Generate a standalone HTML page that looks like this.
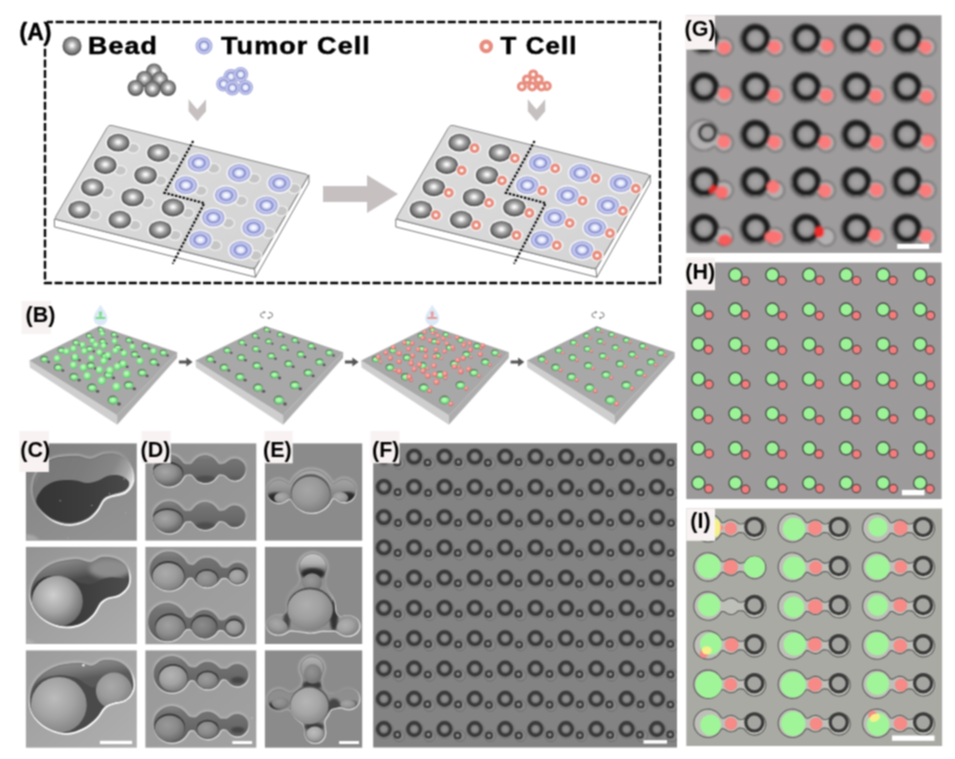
<!DOCTYPE html>
<html><head><meta charset="utf-8"><title>Figure</title>
<style>html,body{margin:0;padding:0;background:#fff}svg{display:block}</style></head>
<body><svg width="955" height="759" viewBox="0 0 955 759">
<defs>
<radialGradient id="gBead" cx="50%" cy="47%" r="52%">
 <stop offset="0" stop-color="#ffffff"/><stop offset="0.13" stop-color="#f0f0f0"/><stop offset="0.45" stop-color="#a6a6a6"/><stop offset="0.75" stop-color="#7a7a7a"/><stop offset="0.92" stop-color="#565656"/><stop offset="1" stop-color="#444"/>
</radialGradient>
<radialGradient id="gTum" cx="50%" cy="50%" r="50%">
 <stop offset="0" stop-color="#ffffff"/><stop offset="0.28" stop-color="#e3e7fb"/><stop offset="0.44" stop-color="#b0b6e4"/><stop offset="0.56" stop-color="#7d84c6"/><stop offset="0.67" stop-color="#c3c8ed"/><stop offset="0.82" stop-color="#bcc1ea"/><stop offset="0.95" stop-color="#a2a7db"/><stop offset="1" stop-color="#a2a7db"/>
</radialGradient>
<linearGradient id="gPlate" x1="0" y1="0" x2="1" y2="1">
 <stop offset="0" stop-color="#dcdcdc"/><stop offset="1" stop-color="#d3d3d3"/>
</linearGradient>

<radialGradient id="gGreen" cx="45%" cy="40%" r="60%"><stop offset="0" stop-color="#d0ffd0"/><stop offset="0.5" stop-color="#92f096"/><stop offset="1" stop-color="#5cc86c"/></radialGradient>
<radialGradient id="gRed" cx="45%" cy="40%" r="60%"><stop offset="0" stop-color="#ffc0bb"/><stop offset="0.5" stop-color="#f08e8a"/><stop offset="1" stop-color="#d06a68"/></radialGradient>
<radialGradient id="gFring"><stop offset="0" stop-color="#909090"/><stop offset="0.4" stop-color="#888"/><stop offset="0.7" stop-color="#666"/><stop offset="1" stop-color="#444"/></radialGradient>
<filter id="gblur" x="0" y="0" width="955" height="759" filterUnits="userSpaceOnUse" color-interpolation-filters="sRGB"><feConvolveMatrix order="3" kernelMatrix="1 2 1 2 4 2 1 2 1" divisor="16" edgeMode="duplicate"/></filter>
<radialGradient id="gGring"><stop offset="0" stop-color="#a9a7a7"/><stop offset="0.55" stop-color="#9c9a9a"/><stop offset="0.8" stop-color="#6c6c6c"/><stop offset="1" stop-color="#333"/></radialGradient>
<filter id="blur05" x="-5%" y="-5%" width="110%" height="110%"><feGaussianBlur stdDeviation="0.5"/></filter>
<filter id="blur08" x="-5%" y="-5%" width="110%" height="110%"><feGaussianBlur stdDeviation="0.8"/></filter>
<filter id="blur12" x="-10%" y="-10%" width="120%" height="120%"><feGaussianBlur stdDeviation="1.2"/></filter>
<filter id="blur2" x="-20%" y="-20%" width="140%" height="140%"><feGaussianBlur stdDeviation="2"/></filter>
<filter id="blur3" x="-20%" y="-20%" width="140%" height="140%"><feGaussianBlur stdDeviation="3"/></filter>
<linearGradient id="lg1" gradientUnits="objectBoundingBox" x1="0" y1="0" x2="0.7" y2="1"><stop offset="0" stop-color="#7c7c7c"/><stop offset="0.45" stop-color="#898989"/><stop offset="1" stop-color="#929292"/></linearGradient><clipPath id="cp2"><rect x="25.9" y="443.4" width="110.9" height="97.20000000000005"/></clipPath><linearGradient id="lg3" gradientUnits="objectBoundingBox" x1="0" y1="0" x2="1" y2="0.35"><stop offset="0" stop-color="#b0b0b0"/><stop offset="0.06" stop-color="#a0a0a0"/><stop offset="0.16" stop-color="#787878"/><stop offset="0.5" stop-color="#7c7c7c"/><stop offset="0.78" stop-color="#868686"/><stop offset="0.92" stop-color="#a8a8a8"/><stop offset="1" stop-color="#d8d8d8"/></linearGradient><linearGradient id="lg4" gradientUnits="objectBoundingBox" x1="0" y1="0" x2="1" y2="0"><stop offset="0" stop-color="#343434"/><stop offset="0.6" stop-color="#3e3e3e"/><stop offset="1" stop-color="#4a4a4a"/></linearGradient><linearGradient id="lg5" gradientUnits="objectBoundingBox" x1="0.2" y1="0.1" x2="0.8" y2="0.9"><stop offset="0" stop-color="#fff" stop-opacity="0"/><stop offset="0.4" stop-color="#fff" stop-opacity="0"/><stop offset="0.7" stop-color="#fff" stop-opacity="0.9"/><stop offset="1" stop-color="#fff" stop-opacity="1.0"/></linearGradient><linearGradient id="lg6" gradientUnits="objectBoundingBox" x1="0.8" y1="0.9" x2="0.2" y2="0.1"><stop offset="0" stop-color="#d0d0d0" stop-opacity="0"/><stop offset="0.45" stop-color="#d0d0d0" stop-opacity="0"/><stop offset="0.8" stop-color="#d0d0d0" stop-opacity="0.5"/><stop offset="1" stop-color="#d0d0d0" stop-opacity="0.6"/></linearGradient><clipPath id="cp7"><path d="M33.4,484.5 C34.1,480.3 35.1,476.0 38.3,471.8 C41.5,467.6 46.1,461.7 52.4,459.1 C58.8,456.6 70.0,456.3 76.4,456.3 C82.7,456.3 85.8,459.5 90.5,459.1 C95.2,458.8 99.9,454.9 104.6,454.2 C109.3,453.5 114.7,453.4 118.6,454.9 C122.6,456.4 126.2,460.1 128.5,463.4 C130.9,466.7 132.3,471.1 132.7,474.6 C133.2,478.2 132.7,481.6 131.3,484.5 C129.9,487.4 127.8,490.4 124.3,492.3 C120.8,494.1 113.7,494.5 110.2,495.8 C106.7,497.1 105.5,497.4 103.1,500.0 C100.8,502.6 98.9,508.0 96.1,511.3 C93.3,514.6 90.7,517.6 86.2,519.7 C81.8,521.9 75.0,524.2 69.3,524.2 C63.7,524.2 57.3,522.4 52.4,519.7 C47.5,517.1 42.8,512.2 39.7,508.5 C36.7,504.7 35.1,501.2 34.1,497.2 C33.0,493.2 32.7,488.7 33.4,484.5 Z"/></clipPath><linearGradient id="lg8" gradientUnits="objectBoundingBox" x1="0.8" y1="0.9" x2="0.2" y2="0.1"><stop offset="0" stop-color="#505050" stop-opacity="0"/><stop offset="0.5" stop-color="#505050" stop-opacity="0"/><stop offset="0.8" stop-color="#505050" stop-opacity="0.55"/><stop offset="1" stop-color="#505050" stop-opacity="0.6"/></linearGradient><linearGradient id="lg9" gradientUnits="objectBoundingBox" x1="0" y1="0" x2="1" y2="1"><stop offset="0" stop-color="#939393"/><stop offset="0.5" stop-color="#a1a1a1"/><stop offset="1" stop-color="#acacac"/></linearGradient><clipPath id="cp10"><rect x="25.9" y="546.9" width="110.9" height="97.10000000000002"/></clipPath><linearGradient id="lg11" gradientUnits="objectBoundingBox" x1="0" y1="0" x2="0.3" y2="1"><stop offset="0" stop-color="#9c9c9c"/><stop offset="0.12" stop-color="#8c8c8c"/><stop offset="0.3" stop-color="#6a6a6a"/><stop offset="0.42" stop-color="#4a4a4a"/><stop offset="1" stop-color="#444"/></linearGradient><linearGradient id="lg12" gradientUnits="objectBoundingBox" x1="0" y1="0" x2="1" y2="0"><stop offset="0" stop-color="#2e2e2e"/><stop offset="0.5" stop-color="#3c3c3c"/><stop offset="1" stop-color="#4c4c4c"/></linearGradient><radialGradient id="rg13" cx="42%" cy="38%" r="62%"><stop offset="0" stop-color="#cfcfcf"/><stop offset="0.55" stop-color="#a6a6a6"/><stop offset="1" stop-color="#6f6f6f"/></radialGradient><linearGradient id="lg14" gradientUnits="objectBoundingBox" x1="0.3" y1="0" x2="0.6" y2="1"><stop offset="0" stop-color="#fff" stop-opacity="0"/><stop offset="0.27" stop-color="#fff" stop-opacity="0"/><stop offset="0.42" stop-color="#fff" stop-opacity="0.9"/><stop offset="1" stop-color="#fff" stop-opacity="1.0"/></linearGradient><linearGradient id="lg15" gradientUnits="objectBoundingBox" x1="0.6" y1="1" x2="0.3" y2="0"><stop offset="0" stop-color="#d0d0d0" stop-opacity="0"/><stop offset="0.45" stop-color="#d0d0d0" stop-opacity="0"/><stop offset="0.8" stop-color="#d0d0d0" stop-opacity="0.5"/><stop offset="1" stop-color="#d0d0d0" stop-opacity="0.6"/></linearGradient><clipPath id="cp16"><path d="M30.6,598.4 C29.9,593.7 30.9,588.7 32.7,584.3 C34.4,579.8 37.4,575.1 41.1,571.6 C44.9,568.1 49.4,565.1 55.2,563.1 C61.1,561.1 70.5,559.7 76.4,559.6 C82.2,559.5 86.2,562.8 90.5,562.4 C94.7,562.1 97.5,558.1 101.7,557.5 C106.0,556.9 111.8,557.5 115.8,558.9 C119.8,560.3 123.5,562.9 125.7,566.0 C127.9,569.0 129.0,573.7 129.2,577.2 C129.5,580.8 128.9,584.2 127.1,587.1 C125.3,590.0 121.9,593.1 118.6,594.8 C115.4,596.6 110.4,596.4 107.4,597.7 C104.3,599.0 102.7,599.9 100.3,602.6 C98.0,605.3 96.3,610.5 93.3,613.9 C90.2,617.3 86.5,620.9 82.0,623.0 C77.5,625.1 71.9,626.7 66.5,626.6 C61.1,626.4 54.5,624.7 49.6,622.3 C44.7,620.0 40.1,616.5 36.9,612.5 C33.7,608.5 31.3,603.1 30.6,598.4 Z"/></clipPath><linearGradient id="lg17" gradientUnits="objectBoundingBox" x1="0.6" y1="1" x2="0.3" y2="0"><stop offset="0" stop-color="#505050" stop-opacity="0"/><stop offset="0.5" stop-color="#505050" stop-opacity="0"/><stop offset="0.8" stop-color="#505050" stop-opacity="0.55"/><stop offset="1" stop-color="#505050" stop-opacity="0.6"/></linearGradient><linearGradient id="lg18" gradientUnits="objectBoundingBox" x1="0" y1="0" x2="1" y2="1"><stop offset="0" stop-color="#9b9b9b"/><stop offset="0.5" stop-color="#a5a5a5"/><stop offset="1" stop-color="#afafaf"/></linearGradient><clipPath id="cp19"><rect x="25.9" y="650.4" width="110.9" height="97.30000000000007"/></clipPath><linearGradient id="lg20" gradientUnits="objectBoundingBox" x1="0" y1="0" x2="0.2" y2="1"><stop offset="0" stop-color="#a0a0a0"/><stop offset="0.1" stop-color="#8e8e8e"/><stop offset="0.22" stop-color="#7a7a7a"/><stop offset="0.35" stop-color="#5a5a5a"/><stop offset="1" stop-color="#4a4a4a"/></linearGradient><radialGradient id="rg21" cx="42%" cy="38%" r="62%"><stop offset="0" stop-color="#bcbcbc"/><stop offset="0.55" stop-color="#a4a4a4"/><stop offset="1" stop-color="#868686"/></radialGradient><radialGradient id="rg22" cx="42%" cy="38%" r="62%"><stop offset="0" stop-color="#a9a9a9"/><stop offset="0.55" stop-color="#9a9a9a"/><stop offset="1" stop-color="#808080"/></radialGradient><linearGradient id="lg23" gradientUnits="objectBoundingBox" x1="0.3" y1="0" x2="0.6" y2="1"><stop offset="0" stop-color="#fff" stop-opacity="0"/><stop offset="0.27" stop-color="#fff" stop-opacity="0"/><stop offset="0.42" stop-color="#fff" stop-opacity="0.9"/><stop offset="1" stop-color="#fff" stop-opacity="1.0"/></linearGradient><linearGradient id="lg24" gradientUnits="objectBoundingBox" x1="0.6" y1="1" x2="0.3" y2="0"><stop offset="0" stop-color="#d0d0d0" stop-opacity="0"/><stop offset="0.45" stop-color="#d0d0d0" stop-opacity="0"/><stop offset="0.8" stop-color="#d0d0d0" stop-opacity="0.5"/><stop offset="1" stop-color="#d0d0d0" stop-opacity="0.6"/></linearGradient><clipPath id="cp25"><path d="M29.9,704.2 C29.4,699.5 30.1,693.5 32.0,688.7 C33.9,683.9 36.8,679.1 41.1,675.3 C45.5,671.5 51.7,668.1 58.0,666.1 C64.4,664.1 73.6,663.3 79.2,663.3 C84.8,663.3 87.9,666.6 91.9,666.1 C95.9,665.7 98.7,661.2 103.1,660.5 C107.6,659.8 114.3,660.3 118.6,661.9 C123.0,663.6 126.8,666.8 129.2,670.4 C131.7,673.9 133.1,679.3 133.4,683.0 C133.8,686.8 132.9,690.1 131.3,692.9 C129.8,695.7 127.3,698.3 124.3,700.0 C121.2,701.6 116.3,701.6 113.0,702.8 C109.7,704.0 107.4,704.4 104.6,707.0 C101.7,709.6 99.6,714.8 96.1,718.3 C92.6,721.8 88.3,725.7 83.4,728.1 C78.5,730.6 72.4,733.1 66.5,733.1 C60.6,733.1 53.5,730.8 48.2,728.1 C42.9,725.4 37.9,720.9 34.8,716.9 C31.7,712.9 30.3,708.9 29.9,704.2 Z"/></clipPath><linearGradient id="lg26" gradientUnits="objectBoundingBox" x1="0.6" y1="1" x2="0.3" y2="0"><stop offset="0" stop-color="#505050" stop-opacity="0"/><stop offset="0.5" stop-color="#505050" stop-opacity="0"/><stop offset="0.8" stop-color="#505050" stop-opacity="0.55"/><stop offset="1" stop-color="#505050" stop-opacity="0.6"/></linearGradient><linearGradient id="lg27" gradientUnits="objectBoundingBox" x1="0" y1="0" x2="1" y2="1"><stop offset="0" stop-color="#909090"/><stop offset="1" stop-color="#9a9a9a"/></linearGradient><clipPath id="cp28"><rect x="145.4" y="443.4" width="110.9" height="97.20000000000005"/></clipPath><linearGradient id="lg29" gradientUnits="objectBoundingBox" x1="0" y1="0" x2="0" y2="1"><stop offset="0" stop-color="#868686"/><stop offset="0.15" stop-color="#747474"/><stop offset="0.5" stop-color="#6a6a6a"/><stop offset="0.85" stop-color="#5e5e5e"/><stop offset="1" stop-color="#5a5a5a"/></linearGradient><radialGradient id="rg30" cx="42%" cy="38%" r="62%"><stop offset="0" stop-color="#a6a6a6"/><stop offset="0.55" stop-color="#8e8e8e"/><stop offset="1" stop-color="#646464"/></radialGradient><linearGradient id="lg31" gradientUnits="objectBoundingBox" x1="0.5" y1="0" x2="0.5" y2="1"><stop offset="0" stop-color="#fff" stop-opacity="0"/><stop offset="0.4" stop-color="#fff" stop-opacity="0"/><stop offset="0.7" stop-color="#fff" stop-opacity="0.54"/><stop offset="1" stop-color="#fff" stop-opacity="0.6"/></linearGradient><linearGradient id="lg32" gradientUnits="objectBoundingBox" x1="0.5" y1="1" x2="0.5" y2="0"><stop offset="0" stop-color="#d0d0d0" stop-opacity="0"/><stop offset="0.45" stop-color="#d0d0d0" stop-opacity="0"/><stop offset="0.8" stop-color="#d0d0d0" stop-opacity="0.5"/><stop offset="1" stop-color="#d0d0d0" stop-opacity="0.6"/></linearGradient><clipPath id="cp33"><path d="M170.3,486.4 L172.4,486.1 L174.4,485.5 L176.4,484.6 L178.1,483.5 L179.7,482.2 L181.1,480.7 L182.1,479.3 L183.9,476.5 L184.9,475.2 L185.9,474.7 L187.4,474.4 L190.1,474.3 L191.4,474.6 L192.6,475.6 L195.6,479.1 L197.5,480.7 L198.9,481.4 L200.4,482.1 L201.9,482.6 L203.6,482.9 L205.6,482.9 L207.6,482.7 L209.6,482.2 L211.6,481.3 L213.1,480.4 L214.6,479.1 L218.1,474.9 L218.9,474.4 L219.9,474.2 L222.4,474.4 L224.1,474.9 L225.1,475.5 L228.6,478.5 L229.9,479.3 L231.4,479.9 L232.9,480.3 L234.4,480.4 L235.9,480.4 L237.4,480.1 L239.4,479.4 L241.1,478.3 L242.6,476.9 L243.9,475.2 L244.8,473.2 L245.3,471.2 L245.4,468.9 L245.0,466.9 L244.5,465.4 L243.9,464.1 L242.9,462.8 L241.8,461.7 L240.4,460.7 L239.1,459.9 L237.6,459.4 L236.1,459.1 L233.6,459.1 L231.4,459.5 L229.0,460.7 L225.6,463.2 L224.6,463.8 L222.9,464.3 L219.9,464.5 L218.9,464.2 L218.1,463.7 L214.6,459.5 L213.1,458.2 L211.6,457.3 L209.6,456.4 L207.6,455.8 L205.6,455.6 L203.6,455.7 L201.9,456.0 L200.4,456.5 L198.9,457.1 L197.4,458.0 L195.6,459.5 L192.6,462.9 L191.1,464.2 L189.9,464.4 L185.9,464.5 L184.9,464.3 L183.9,463.7 L182.6,462.5 L180.4,459.9 L179.1,458.7 L177.1,457.2 L175.1,456.2 L172.6,455.4 L170.1,455.0 L167.4,455.0 L164.9,455.4 L162.1,456.4 L159.6,457.9 L157.4,459.9 L155.6,462.2 L154.2,464.9 L153.4,467.7 L153.1,470.4 L153.3,473.4 L154.1,476.2 L155.4,478.9 L157.1,481.2 L159.4,483.3 L161.9,484.8 L164.6,485.9 L167.4,486.4 Z"/></clipPath><linearGradient id="lg34" gradientUnits="objectBoundingBox" x1="0.5" y1="1" x2="0.5" y2="0"><stop offset="0" stop-color="#505050" stop-opacity="0"/><stop offset="0.5" stop-color="#505050" stop-opacity="0"/><stop offset="0.8" stop-color="#505050" stop-opacity="0.55"/><stop offset="1" stop-color="#505050" stop-opacity="0.6"/></linearGradient><linearGradient id="lg35" gradientUnits="objectBoundingBox" x1="0" y1="0" x2="0" y2="1"><stop offset="0" stop-color="#868686"/><stop offset="0.15" stop-color="#747474"/><stop offset="0.5" stop-color="#6a6a6a"/><stop offset="0.85" stop-color="#5e5e5e"/><stop offset="1" stop-color="#5a5a5a"/></linearGradient><radialGradient id="rg36" cx="42%" cy="38%" r="62%"><stop offset="0" stop-color="#a6a6a6"/><stop offset="0.55" stop-color="#8e8e8e"/><stop offset="1" stop-color="#646464"/></radialGradient><linearGradient id="lg37" gradientUnits="objectBoundingBox" x1="0.5" y1="0" x2="0.5" y2="1"><stop offset="0" stop-color="#fff" stop-opacity="0"/><stop offset="0.4" stop-color="#fff" stop-opacity="0"/><stop offset="0.7" stop-color="#fff" stop-opacity="0.54"/><stop offset="1" stop-color="#fff" stop-opacity="0.6"/></linearGradient><linearGradient id="lg38" gradientUnits="objectBoundingBox" x1="0.5" y1="1" x2="0.5" y2="0"><stop offset="0" stop-color="#d0d0d0" stop-opacity="0"/><stop offset="0.45" stop-color="#d0d0d0" stop-opacity="0"/><stop offset="0.8" stop-color="#d0d0d0" stop-opacity="0.5"/><stop offset="1" stop-color="#d0d0d0" stop-opacity="0.6"/></linearGradient><clipPath id="cp39"><path d="M170.3,533.2 L172.4,532.9 L174.4,532.3 L176.4,531.4 L178.1,530.3 L179.7,528.9 L181.1,527.4 L182.1,526.1 L183.9,523.2 L184.9,522.0 L185.9,521.4 L187.4,521.2 L190.1,521.1 L191.4,521.4 L192.6,522.4 L195.6,525.9 L197.5,527.4 L198.9,528.2 L200.4,528.9 L201.9,529.3 L203.6,529.7 L205.6,529.7 L207.6,529.5 L209.6,529.0 L211.6,528.1 L213.1,527.2 L214.6,525.9 L218.1,521.7 L218.9,521.2 L219.9,521.0 L222.4,521.2 L224.1,521.7 L225.1,522.3 L228.6,525.3 L229.9,526.0 L231.4,526.7 L232.9,527.0 L234.4,527.2 L235.9,527.1 L237.4,526.9 L239.4,526.1 L241.1,525.1 L242.6,523.7 L243.9,521.9 L244.8,519.9 L245.3,517.9 L245.4,515.7 L245.0,513.7 L244.5,512.2 L243.9,510.9 L242.9,509.6 L241.8,508.4 L240.4,507.4 L239.1,506.7 L237.6,506.2 L236.1,505.9 L233.6,505.8 L231.4,506.3 L229.0,507.4 L225.6,510.0 L224.6,510.6 L222.9,511.1 L219.9,511.3 L218.9,511.0 L218.1,510.5 L214.6,506.2 L213.1,505.0 L211.6,504.0 L209.6,503.2 L207.6,502.6 L205.6,502.4 L203.6,502.5 L201.9,502.8 L200.4,503.3 L198.9,503.9 L197.4,504.8 L195.6,506.2 L192.6,509.7 L191.1,510.9 L189.9,511.2 L185.9,511.3 L184.9,511.1 L183.9,510.5 L182.6,509.3 L180.4,506.7 L179.1,505.5 L177.1,504.0 L175.1,503.0 L172.6,502.1 L170.1,501.7 L167.4,501.8 L164.9,502.2 L162.1,503.2 L159.6,504.7 L157.4,506.7 L155.6,508.9 L154.2,511.7 L153.4,514.4 L153.1,517.2 L153.3,520.2 L154.1,522.9 L155.4,525.7 L157.1,528.0 L159.4,530.1 L161.9,531.6 L164.6,532.7 L167.4,533.2 Z"/></clipPath><linearGradient id="lg40" gradientUnits="objectBoundingBox" x1="0.5" y1="1" x2="0.5" y2="0"><stop offset="0" stop-color="#505050" stop-opacity="0"/><stop offset="0.5" stop-color="#505050" stop-opacity="0"/><stop offset="0.8" stop-color="#505050" stop-opacity="0.55"/><stop offset="1" stop-color="#505050" stop-opacity="0.6"/></linearGradient><linearGradient id="lg41" gradientUnits="objectBoundingBox" x1="0" y1="0" x2="1" y2="1"><stop offset="0" stop-color="#989898"/><stop offset="1" stop-color="#a2a2a2"/></linearGradient><clipPath id="cp42"><rect x="145.4" y="546.9" width="110.9" height="97.30000000000007"/></clipPath><linearGradient id="lg43" gradientUnits="objectBoundingBox" x1="0" y1="0" x2="0" y2="1"><stop offset="0" stop-color="#868686"/><stop offset="0.15" stop-color="#747474"/><stop offset="0.5" stop-color="#6a6a6a"/><stop offset="0.85" stop-color="#5e5e5e"/><stop offset="1" stop-color="#5a5a5a"/></linearGradient><radialGradient id="rg44" cx="42%" cy="38%" r="62%"><stop offset="0" stop-color="#ababab"/><stop offset="0.55" stop-color="#9c9c9c"/><stop offset="1" stop-color="#828282"/></radialGradient><radialGradient id="rg45" cx="42%" cy="38%" r="62%"><stop offset="0" stop-color="#9a9a9a"/><stop offset="0.55" stop-color="#8d8d8d"/><stop offset="1" stop-color="#777"/></radialGradient><radialGradient id="rg46" cx="42%" cy="38%" r="62%"><stop offset="0" stop-color="#aaa"/><stop offset="0.55" stop-color="#a0a0a0"/><stop offset="1" stop-color="#888"/></radialGradient><linearGradient id="lg47" gradientUnits="objectBoundingBox" x1="0.5" y1="0" x2="0.5" y2="1"><stop offset="0" stop-color="#fff" stop-opacity="0"/><stop offset="0.4" stop-color="#fff" stop-opacity="0"/><stop offset="0.7" stop-color="#fff" stop-opacity="0.54"/><stop offset="1" stop-color="#fff" stop-opacity="0.6"/></linearGradient><linearGradient id="lg48" gradientUnits="objectBoundingBox" x1="0.5" y1="1" x2="0.5" y2="0"><stop offset="0" stop-color="#d0d0d0" stop-opacity="0"/><stop offset="0.45" stop-color="#d0d0d0" stop-opacity="0"/><stop offset="0.8" stop-color="#d0d0d0" stop-opacity="0.5"/><stop offset="1" stop-color="#d0d0d0" stop-opacity="0.6"/></linearGradient><clipPath id="cp49"><path d="M171.0,590.4 L173.3,590.0 L175.6,589.3 L177.8,588.3 L179.8,587.1 L181.7,585.6 L183.3,584.0 L184.6,582.4 L186.6,579.4 L187.3,578.6 L188.6,577.8 L190.1,577.4 L191.6,577.5 L192.8,578.1 L193.6,578.9 L195.3,581.4 L196.3,582.6 L197.6,583.9 L199.1,584.9 L200.6,585.8 L202.0,586.4 L203.6,586.8 L205.1,587.1 L207.3,587.2 L209.3,587.0 L211.6,586.5 L213.6,585.6 L215.3,584.6 L217.1,583.1 L220.8,578.7 L221.8,578.1 L223.3,577.8 L225.6,577.8 L226.8,578.2 L227.6,578.7 L230.8,582.1 L232.3,583.1 L233.8,583.8 L235.3,584.2 L236.8,584.4 L238.6,584.4 L240.1,584.1 L242.1,583.4 L243.8,582.4 L245.5,580.9 L246.8,579.1 L247.7,577.1 L248.1,575.1 L248.2,573.1 L247.9,571.1 L246.9,568.6 L246.1,567.4 L245.3,566.4 L243.3,564.7 L242.1,564.0 L240.8,563.5 L239.6,563.2 L238.1,563.0 L236.6,563.0 L235.1,563.3 L233.6,563.7 L232.1,564.5 L228.3,567.4 L227.3,567.9 L225.8,568.1 L223.1,567.8 L221.8,567.5 L220.8,566.8 L217.4,562.6 L216.1,561.4 L214.8,560.5 L213.3,559.7 L211.8,559.1 L210.3,558.6 L208.6,558.3 L206.8,558.2 L205.1,558.3 L203.3,558.7 L201.8,559.1 L200.1,559.9 L198.3,561.0 L194.8,564.2 L193.8,565.0 L193.1,565.2 L192.3,565.3 L190.3,565.0 L188.8,564.6 L187.6,563.8 L186.3,562.5 L184.0,559.1 L182.4,557.4 L180.0,555.4 L177.3,553.8 L174.1,552.6 L170.8,552.0 L167.3,551.9 L164.1,552.5 L162.3,553.0 L160.6,553.7 L157.6,555.5 L154.8,557.9 L152.6,560.8 L151.0,563.9 L150.0,567.4 L149.6,570.9 L149.7,572.9 L149.9,574.6 L150.9,578.1 L152.5,581.4 L154.6,584.1 L155.8,585.4 L157.3,586.6 L160.3,588.5 L162.1,589.2 L163.8,589.8 L167.3,590.4 Z"/></clipPath><linearGradient id="lg50" gradientUnits="objectBoundingBox" x1="0.5" y1="1" x2="0.5" y2="0"><stop offset="0" stop-color="#505050" stop-opacity="0"/><stop offset="0.5" stop-color="#505050" stop-opacity="0"/><stop offset="0.8" stop-color="#505050" stop-opacity="0.55"/><stop offset="1" stop-color="#505050" stop-opacity="0.6"/></linearGradient><linearGradient id="lg51" gradientUnits="objectBoundingBox" x1="0" y1="0" x2="0" y2="1"><stop offset="0" stop-color="#868686"/><stop offset="0.15" stop-color="#747474"/><stop offset="0.5" stop-color="#6a6a6a"/><stop offset="0.85" stop-color="#5e5e5e"/><stop offset="1" stop-color="#5a5a5a"/></linearGradient><radialGradient id="rg52" cx="42%" cy="38%" r="62%"><stop offset="0" stop-color="#a0a0a0"/><stop offset="0.55" stop-color="#8e8e8e"/><stop offset="1" stop-color="#707070"/></radialGradient><radialGradient id="rg53" cx="42%" cy="38%" r="62%"><stop offset="0" stop-color="#8c8c8c"/><stop offset="0.55" stop-color="#7c7c7c"/><stop offset="1" stop-color="#636363"/></radialGradient><radialGradient id="rg54" cx="42%" cy="38%" r="62%"><stop offset="0" stop-color="#a5a5a5"/><stop offset="0.55" stop-color="#9c9c9c"/><stop offset="1" stop-color="#858585"/></radialGradient><linearGradient id="lg55" gradientUnits="objectBoundingBox" x1="0.5" y1="0" x2="0.5" y2="1"><stop offset="0" stop-color="#fff" stop-opacity="0"/><stop offset="0.4" stop-color="#fff" stop-opacity="0"/><stop offset="0.7" stop-color="#fff" stop-opacity="0.54"/><stop offset="1" stop-color="#fff" stop-opacity="0.6"/></linearGradient><linearGradient id="lg56" gradientUnits="objectBoundingBox" x1="0.5" y1="1" x2="0.5" y2="0"><stop offset="0" stop-color="#d0d0d0" stop-opacity="0"/><stop offset="0.45" stop-color="#d0d0d0" stop-opacity="0"/><stop offset="0.8" stop-color="#d0d0d0" stop-opacity="0.5"/><stop offset="1" stop-color="#d0d0d0" stop-opacity="0.6"/></linearGradient><clipPath id="cp57"><path d="M167.9,641.2 L170.2,641.0 L172.4,640.4 L174.7,639.6 L176.7,638.6 L178.7,637.2 L180.6,635.4 L182.1,633.7 L184.2,630.8 L185.2,629.8 L186.7,629.1 L188.7,628.7 L190.2,628.9 L191.2,629.5 L194.2,633.7 L195.4,634.9 L196.7,635.9 L199.4,637.5 L202.4,638.3 L204.4,638.5 L206.7,638.4 L208.9,637.9 L210.9,637.1 L212.7,636.1 L214.4,634.8 L215.7,633.4 L217.4,631.2 L218.2,630.5 L218.9,630.0 L219.9,629.8 L222.2,630.0 L223.7,630.6 L224.7,631.4 L227.5,634.4 L228.9,635.5 L230.4,636.2 L231.9,636.7 L233.4,636.9 L235.2,637.0 L236.7,636.7 L238.7,636.1 L240.4,635.1 L242.1,633.7 L243.4,632.1 L244.4,630.2 L245.0,628.2 L245.1,625.9 L244.9,623.9 L244.0,621.4 L243.2,620.2 L242.4,619.2 L240.4,617.4 L239.2,616.7 L237.9,616.2 L236.4,615.8 L234.9,615.6 L233.4,615.6 L231.9,615.9 L230.4,616.3 L229.2,616.9 L225.7,619.5 L224.7,620.0 L222.9,620.4 L220.2,620.2 L219.2,619.9 L218.4,619.3 L215.5,615.2 L214.2,613.9 L213.0,612.9 L211.4,612.0 L209.9,611.3 L208.2,610.8 L206.4,610.4 L204.7,610.3 L202.9,610.5 L201.2,610.8 L199.4,611.4 L197.7,612.3 L195.9,613.5 L194.7,614.7 L192.4,617.2 L191.7,617.7 L190.4,618.1 L188.7,617.9 L186.9,617.3 L185.7,616.4 L184.7,615.1 L182.7,611.7 L181.1,609.7 L178.7,607.4 L176.0,605.7 L172.9,604.4 L169.7,603.6 L166.2,603.5 L162.9,603.9 L159.7,604.9 L156.7,606.6 L153.9,608.8 L151.6,611.4 L149.9,614.4 L148.8,617.7 L148.2,621.2 L148.3,624.7 L149.1,628.2 L150.5,631.4 L152.4,634.3 L154.9,636.8 L157.7,638.7 L160.9,640.2 L164.4,641.0 Z"/></clipPath><linearGradient id="lg58" gradientUnits="objectBoundingBox" x1="0.5" y1="1" x2="0.5" y2="0"><stop offset="0" stop-color="#505050" stop-opacity="0"/><stop offset="0.5" stop-color="#505050" stop-opacity="0"/><stop offset="0.8" stop-color="#505050" stop-opacity="0.55"/><stop offset="1" stop-color="#505050" stop-opacity="0.6"/></linearGradient><clipPath id="cp59"><rect x="145.4" y="650.4" width="110.9" height="97.30000000000007"/></clipPath><linearGradient id="lg60" gradientUnits="objectBoundingBox" x1="0" y1="0" x2="0" y2="1"><stop offset="0" stop-color="#868686"/><stop offset="0.15" stop-color="#747474"/><stop offset="0.5" stop-color="#6a6a6a"/><stop offset="0.85" stop-color="#5e5e5e"/><stop offset="1" stop-color="#5a5a5a"/></linearGradient><radialGradient id="rg61" cx="42%" cy="38%" r="62%"><stop offset="0" stop-color="#b4b4b4"/><stop offset="0.55" stop-color="#a3a3a3"/><stop offset="1" stop-color="#7e7e7e"/></radialGradient><radialGradient id="rg62" cx="42%" cy="38%" r="62%"><stop offset="0" stop-color="#9c9c9c"/><stop offset="0.55" stop-color="#8e8e8e"/><stop offset="1" stop-color="#747474"/></radialGradient><linearGradient id="lg63" gradientUnits="objectBoundingBox" x1="0.5" y1="0" x2="0.5" y2="1"><stop offset="0" stop-color="#fff" stop-opacity="0"/><stop offset="0.4" stop-color="#fff" stop-opacity="0"/><stop offset="0.7" stop-color="#fff" stop-opacity="0.54"/><stop offset="1" stop-color="#fff" stop-opacity="0.6"/></linearGradient><linearGradient id="lg64" gradientUnits="objectBoundingBox" x1="0.5" y1="1" x2="0.5" y2="0"><stop offset="0" stop-color="#d0d0d0" stop-opacity="0"/><stop offset="0.45" stop-color="#d0d0d0" stop-opacity="0"/><stop offset="0.8" stop-color="#d0d0d0" stop-opacity="0.5"/><stop offset="1" stop-color="#d0d0d0" stop-opacity="0.6"/></linearGradient><clipPath id="cp65"><path d="M173.4,692.6 L175.7,692.2 L177.9,691.5 L179.9,690.7 L181.9,689.5 L183.7,688.1 L185.4,686.3 L186.7,684.6 L188.4,681.8 L189.2,680.9 L190.2,680.3 L191.7,679.9 L193.2,680.0 L194.4,680.7 L195.2,681.4 L197.7,684.9 L198.9,686.1 L200.3,687.1 L202.9,688.4 L204.4,688.9 L205.9,689.1 L208.2,689.2 L210.4,689.0 L212.4,688.4 L214.4,687.4 L216.2,686.2 L217.7,684.8 L218.8,683.3 L220.4,680.8 L221.2,679.9 L222.2,679.3 L223.2,679.1 L224.9,679.2 L225.7,679.4 L226.4,679.8 L227.2,680.4 L229.2,682.8 L230.2,683.7 L231.7,684.8 L233.2,685.5 L234.9,686.0 L236.7,686.3 L238.4,686.2 L240.2,685.9 L242.2,685.1 L243.9,684.0 L245.5,682.6 L246.8,680.8 L247.7,678.8 L248.1,676.8 L248.2,674.6 L247.9,672.6 L247.4,671.1 L246.7,669.7 L245.7,668.3 L244.7,667.2 L243.4,666.2 L242.2,665.5 L240.7,664.9 L239.2,664.5 L237.7,664.3 L236.2,664.4 L234.7,664.6 L233.4,665.0 L231.7,665.8 L228.2,668.3 L226.7,668.9 L225.4,669.1 L221.7,669.1 L220.7,668.9 L219.9,668.6 L215.9,665.0 L214.7,664.2 L213.2,663.4 L211.7,662.8 L209.9,662.4 L208.4,662.2 L206.7,662.2 L204.2,662.6 L201.7,663.6 L200.0,664.6 L197.2,666.7 L195.9,667.5 L194.9,667.8 L193.4,667.8 L190.4,667.3 L188.9,666.7 L187.7,665.6 L185.1,662.6 L183.3,660.8 L180.9,659.1 L178.4,657.9 L175.7,657.0 L172.7,656.6 L169.7,656.7 L166.9,657.2 L163.7,658.4 L160.9,660.1 L158.4,662.4 L156.4,665.0 L154.9,668.1 L154.0,671.3 L153.7,674.6 L154.0,677.8 L154.9,681.1 L156.4,684.1 L158.4,686.8 L160.9,689.1 L163.8,690.8 L166.9,692.0 L170.2,692.6 Z"/></clipPath><linearGradient id="lg66" gradientUnits="objectBoundingBox" x1="0.5" y1="1" x2="0.5" y2="0"><stop offset="0" stop-color="#505050" stop-opacity="0"/><stop offset="0.5" stop-color="#505050" stop-opacity="0"/><stop offset="0.8" stop-color="#505050" stop-opacity="0.55"/><stop offset="1" stop-color="#505050" stop-opacity="0.6"/></linearGradient><linearGradient id="lg67" gradientUnits="objectBoundingBox" x1="0" y1="0" x2="0" y2="1"><stop offset="0" stop-color="#868686"/><stop offset="0.15" stop-color="#747474"/><stop offset="0.5" stop-color="#6a6a6a"/><stop offset="0.85" stop-color="#5e5e5e"/><stop offset="1" stop-color="#5a5a5a"/></linearGradient><radialGradient id="rg68" cx="42%" cy="38%" r="62%"><stop offset="0" stop-color="#999"/><stop offset="0.55" stop-color="#8a8a8a"/><stop offset="1" stop-color="#6c6c6c"/></radialGradient><radialGradient id="rg69" cx="42%" cy="38%" r="62%"><stop offset="0" stop-color="#999"/><stop offset="0.55" stop-color="#8c8c8c"/><stop offset="1" stop-color="#737373"/></radialGradient><linearGradient id="lg70" gradientUnits="objectBoundingBox" x1="0.5" y1="0" x2="0.5" y2="1"><stop offset="0" stop-color="#fff" stop-opacity="0"/><stop offset="0.4" stop-color="#fff" stop-opacity="0"/><stop offset="0.7" stop-color="#fff" stop-opacity="0.54"/><stop offset="1" stop-color="#fff" stop-opacity="0.6"/></linearGradient><linearGradient id="lg71" gradientUnits="objectBoundingBox" x1="0.5" y1="1" x2="0.5" y2="0"><stop offset="0" stop-color="#d0d0d0" stop-opacity="0"/><stop offset="0.45" stop-color="#d0d0d0" stop-opacity="0"/><stop offset="0.8" stop-color="#d0d0d0" stop-opacity="0.5"/><stop offset="1" stop-color="#d0d0d0" stop-opacity="0.6"/></linearGradient><clipPath id="cp72"><path d="M173.4,742.6 L175.7,742.2 L177.9,741.6 L179.9,740.7 L181.9,739.5 L183.7,738.1 L185.4,736.3 L186.7,734.6 L188.4,731.8 L189.2,731.0 L190.2,730.3 L191.7,729.9 L193.2,730.0 L194.4,730.6 L195.2,731.4 L197.7,734.8 L199.1,736.1 L200.4,737.0 L203.1,738.3 L205.9,739.0 L208.2,739.1 L210.4,738.8 L212.4,738.3 L214.4,737.3 L216.2,736.1 L217.7,734.7 L218.7,733.4 L220.2,731.1 L220.9,730.1 L221.9,729.4 L223.2,729.1 L224.9,729.2 L226.4,729.8 L227.2,730.4 L229.2,732.8 L230.2,733.7 L231.7,734.8 L233.2,735.5 L234.9,736.1 L236.7,736.3 L238.4,736.3 L240.2,735.9 L242.2,735.2 L243.9,734.1 L245.5,732.6 L246.8,730.8 L247.7,728.8 L248.1,726.8 L248.2,724.6 L247.9,722.6 L247.4,721.1 L246.7,719.7 L245.7,718.3 L244.7,717.2 L243.4,716.2 L242.2,715.5 L240.7,714.9 L239.2,714.5 L237.7,714.3 L236.2,714.4 L234.7,714.6 L233.4,715.0 L231.4,716.0 L227.9,718.4 L226.7,719.0 L225.4,719.1 L221.7,719.1 L220.7,718.9 L219.9,718.5 L215.9,714.9 L213.4,713.4 L211.9,712.8 L210.2,712.3 L208.4,712.1 L206.7,712.1 L204.4,712.5 L202.4,713.1 L200.2,714.3 L197.2,716.7 L195.9,717.5 L194.9,717.8 L193.4,717.8 L190.4,717.3 L188.9,716.7 L187.7,715.6 L185.1,712.6 L183.3,710.8 L180.9,709.1 L178.4,707.9 L175.7,707.0 L172.7,706.6 L169.7,706.7 L166.9,707.2 L163.7,708.5 L160.9,710.2 L158.4,712.4 L156.4,715.0 L154.9,718.1 L154.0,721.3 L153.7,724.6 L154.0,727.8 L154.9,731.1 L156.4,734.1 L158.4,736.8 L160.9,739.1 L163.8,740.8 L166.9,742.0 L170.2,742.6 Z"/></clipPath><linearGradient id="lg73" gradientUnits="objectBoundingBox" x1="0.5" y1="1" x2="0.5" y2="0"><stop offset="0" stop-color="#505050" stop-opacity="0"/><stop offset="0.5" stop-color="#505050" stop-opacity="0"/><stop offset="0.8" stop-color="#505050" stop-opacity="0.55"/><stop offset="1" stop-color="#505050" stop-opacity="0.6"/></linearGradient><clipPath id="cp74"><rect x="264.9" y="443.4" width="97.30000000000001" height="97.20000000000005"/></clipPath><linearGradient id="lg75" gradientUnits="objectBoundingBox" x1="0" y1="0" x2="0" y2="1"><stop offset="0" stop-color="#a8a8a8"/><stop offset="0.35" stop-color="#9c9c9c"/><stop offset="0.7" stop-color="#777"/><stop offset="1" stop-color="#6a6a6a"/></linearGradient><radialGradient id="rg76" cx="42%" cy="38%" r="62%"><stop offset="0" stop-color="#aaa"/><stop offset="0.55" stop-color="#9c9c9c"/><stop offset="1" stop-color="#858585"/></radialGradient><radialGradient id="rg77" cx="42%" cy="38%" r="62%"><stop offset="0" stop-color="#aaa"/><stop offset="0.55" stop-color="#9c9c9c"/><stop offset="1" stop-color="#858585"/></radialGradient><radialGradient id="rg78" cx="42%" cy="38%" r="62%"><stop offset="0" stop-color="#a6a6a6"/><stop offset="0.55" stop-color="#999"/><stop offset="1" stop-color="#808080"/></radialGradient><linearGradient id="lg79" gradientUnits="objectBoundingBox" x1="0.5" y1="0" x2="0.5" y2="1"><stop offset="0" stop-color="#fff" stop-opacity="0"/><stop offset="0.4" stop-color="#fff" stop-opacity="0"/><stop offset="0.7" stop-color="#fff" stop-opacity="0.63"/><stop offset="1" stop-color="#fff" stop-opacity="0.7"/></linearGradient><linearGradient id="lg80" gradientUnits="objectBoundingBox" x1="0.5" y1="1" x2="0.5" y2="0"><stop offset="0" stop-color="#d0d0d0" stop-opacity="0"/><stop offset="0.45" stop-color="#d0d0d0" stop-opacity="0"/><stop offset="0.8" stop-color="#d0d0d0" stop-opacity="0.5"/><stop offset="1" stop-color="#d0d0d0" stop-opacity="0.6"/></linearGradient><clipPath id="cp81"><path d="M313.3,512.6 L316.4,512.1 L319.1,511.2 L321.6,510.1 L324.1,508.5 L326.1,506.8 L327.7,505.1 L329.4,502.9 L331.6,499.1 L332.4,498.3 L333.1,497.9 L333.9,497.8 L334.9,498.2 L338.1,500.3 L339.6,501.2 L341.1,501.7 L342.9,502.0 L345.1,502.1 L347.1,501.7 L349.1,501.0 L350.9,500.0 L352.5,498.6 L353.9,496.8 L354.9,494.8 L355.6,492.6 L355.8,490.3 L355.5,488.1 L354.8,485.8 L353.6,483.8 L351.8,481.8 L349.6,480.4 L347.1,479.4 L344.4,479.0 L342.1,479.2 L339.9,479.9 L337.9,480.9 L334.4,483.5 L333.4,483.8 L332.6,483.7 L331.9,483.2 L331.1,482.4 L328.8,478.8 L327.1,476.8 L325.1,474.8 L322.9,473.2 L320.1,471.7 L317.1,470.6 L314.1,470.0 L311.1,469.9 L307.9,470.1 L304.9,470.8 L302.1,471.9 L299.4,473.5 L297.4,475.1 L295.5,476.8 L293.7,479.1 L291.4,482.8 L290.6,483.6 L289.9,484.1 L289.1,484.1 L288.1,483.8 L284.6,481.4 L282.6,480.4 L280.4,479.8 L278.1,479.7 L275.4,480.2 L272.9,481.3 L270.6,483.0 L268.9,485.2 L267.9,487.1 L267.3,489.3 L267.1,491.6 L267.4,493.8 L268.2,496.1 L269.4,498.1 L270.9,499.8 L272.6,501.1 L274.4,502.0 L276.4,502.6 L278.4,502.8 L280.4,502.7 L282.1,502.3 L283.9,501.6 L288.4,498.7 L289.1,498.4 L289.9,498.5 L290.6,498.9 L291.4,499.7 L293.9,503.6 L295.7,505.8 L297.9,507.9 L300.4,509.6 L303.4,511.1 L306.6,512.2 L309.9,512.6 Z"/></clipPath><linearGradient id="lg82" gradientUnits="objectBoundingBox" x1="0.5" y1="1" x2="0.5" y2="0"><stop offset="0" stop-color="#505050" stop-opacity="0"/><stop offset="0.5" stop-color="#505050" stop-opacity="0"/><stop offset="0.8" stop-color="#505050" stop-opacity="0.55"/><stop offset="1" stop-color="#505050" stop-opacity="0.6"/></linearGradient><clipPath id="cp83"><rect x="264.9" y="546.9" width="97.30000000000001" height="97.10000000000002"/></clipPath><linearGradient id="lg84" gradientUnits="objectBoundingBox" x1="0" y1="0" x2="0" y2="1"><stop offset="0" stop-color="#c6c6c6"/><stop offset="0.12" stop-color="#b0b0b0"/><stop offset="0.2" stop-color="#7a7a7a"/><stop offset="0.3" stop-color="#8f8f8f"/><stop offset="0.7" stop-color="#9a9a9a"/><stop offset="1" stop-color="#888"/></linearGradient><radialGradient id="rg85" cx="42%" cy="38%" r="62%"><stop offset="0" stop-color="#999"/><stop offset="0.55" stop-color="#8a8a8a"/><stop offset="1" stop-color="#757575"/></radialGradient><radialGradient id="rg86" cx="42%" cy="38%" r="62%"><stop offset="0" stop-color="#a8a8a8"/><stop offset="0.55" stop-color="#9a9a9a"/><stop offset="1" stop-color="#808080"/></radialGradient><radialGradient id="rg87" cx="42%" cy="38%" r="62%"><stop offset="0" stop-color="#b0b0b0"/><stop offset="0.55" stop-color="#a2a2a2"/><stop offset="1" stop-color="#868686"/></radialGradient><radialGradient id="rg88" cx="42%" cy="38%" r="62%"><stop offset="0" stop-color="#aeaeae"/><stop offset="0.55" stop-color="#a0a0a0"/><stop offset="1" stop-color="#858585"/></radialGradient><linearGradient id="lg89" gradientUnits="objectBoundingBox" x1="0.3" y1="0" x2="0.7" y2="1"><stop offset="0" stop-color="#fff" stop-opacity="0"/><stop offset="0.4" stop-color="#fff" stop-opacity="0"/><stop offset="0.7" stop-color="#fff" stop-opacity="0.63"/><stop offset="1" stop-color="#fff" stop-opacity="0.7"/></linearGradient><linearGradient id="lg90" gradientUnits="objectBoundingBox" x1="0.7" y1="1" x2="0.3" y2="0"><stop offset="0" stop-color="#d0d0d0" stop-opacity="0"/><stop offset="0.45" stop-color="#d0d0d0" stop-opacity="0"/><stop offset="0.8" stop-color="#d0d0d0" stop-opacity="0.5"/><stop offset="1" stop-color="#d0d0d0" stop-opacity="0.6"/></linearGradient><clipPath id="cp91"><path d="M349.4,635.6 L352.1,634.9 L354.4,633.8 L356.4,632.3 L358.0,630.3 L359.1,628.1 L359.4,625.8 L359.2,623.6 L358.3,621.3 L357.1,619.6 L355.5,618.1 L353.6,616.9 L351.4,616.0 L348.9,615.5 L346.4,615.5 L344.6,615.7 L341.1,616.6 L339.9,616.7 L339.1,616.6 L338.4,616.2 L336.9,614.7 L335.9,613.1 L335.3,611.6 L334.5,604.1 L334.0,601.6 L333.2,599.3 L332.2,597.1 L331.0,595.1 L327.6,590.6 L326.4,588.7 L325.3,586.3 L324.4,583.3 L324.1,580.6 L324.2,577.8 L324.7,575.3 L326.2,570.6 L326.6,567.8 L326.5,566.1 L326.2,564.3 L325.7,562.6 L325.1,561.1 L323.6,558.8 L321.6,556.8 L319.4,555.2 L316.9,554.2 L314.1,553.6 L311.4,553.6 L308.6,554.2 L306.1,555.3 L303.6,557.0 L301.6,559.3 L300.1,561.8 L299.6,563.3 L299.2,564.8 L299.0,567.1 L299.1,569.6 L299.5,571.3 L301.0,575.8 L301.4,578.3 L301.4,580.3 L300.8,582.3 L299.9,584.3 L298.8,586.1 L297.2,587.8 L294.1,590.6 L292.4,592.3 L290.5,594.8 L289.0,597.3 L287.8,600.1 L287.0,603.1 L286.5,606.1 L286.3,610.6 L286.1,611.8 L285.6,612.8 L284.9,613.8 L283.6,614.5 L282.4,614.7 L278.1,614.3 L275.4,614.6 L273.9,615.0 L272.4,615.6 L270.9,616.4 L269.6,617.3 L268.4,618.6 L267.5,619.8 L266.8,621.1 L266.3,622.6 L266.1,624.1 L266.2,625.6 L266.5,627.1 L267.2,628.6 L268.0,629.8 L268.8,630.8 L269.9,631.8 L271.1,632.7 L272.4,633.3 L273.9,633.9 L275.4,634.3 L277.1,634.5 L279.9,634.5 L282.6,633.9 L284.9,632.9 L288.6,630.7 L289.4,630.4 L290.4,630.2 L291.9,630.3 L298.6,631.0 L307.9,632.3 L310.6,632.5 L314.6,632.1 L319.4,631.0 L321.9,630.6 L324.9,630.5 L329.1,630.7 L333.6,630.3 L334.9,630.5 L336.1,631.0 L340.2,633.8 L342.9,635.0 L344.4,635.4 L346.1,635.7 L347.9,635.7 Z"/></clipPath><linearGradient id="lg92" gradientUnits="objectBoundingBox" x1="0.7" y1="1" x2="0.3" y2="0"><stop offset="0" stop-color="#505050" stop-opacity="0"/><stop offset="0.5" stop-color="#505050" stop-opacity="0"/><stop offset="0.8" stop-color="#505050" stop-opacity="0.55"/><stop offset="1" stop-color="#505050" stop-opacity="0.6"/></linearGradient><clipPath id="cp93"><rect x="264.9" y="650.4" width="97.30000000000001" height="97.30000000000007"/></clipPath><linearGradient id="lg94" gradientUnits="objectBoundingBox" x1="0" y1="0" x2="0" y2="1"><stop offset="0" stop-color="#b4b4b4"/><stop offset="0.1" stop-color="#a0a0a0"/><stop offset="0.3" stop-color="#8c8c8c"/><stop offset="0.6" stop-color="#909090"/><stop offset="1" stop-color="#777"/></linearGradient><radialGradient id="rg95" cx="42%" cy="38%" r="62%"><stop offset="0" stop-color="#939393"/><stop offset="0.55" stop-color="#858585"/><stop offset="1" stop-color="#707070"/></radialGradient><radialGradient id="rg96" cx="42%" cy="38%" r="62%"><stop offset="0" stop-color="#979797"/><stop offset="0.55" stop-color="#8a8a8a"/><stop offset="1" stop-color="#757575"/></radialGradient><radialGradient id="rg97" cx="42%" cy="38%" r="62%"><stop offset="0" stop-color="#a5a5a5"/><stop offset="0.55" stop-color="#999"/><stop offset="1" stop-color="#858585"/></radialGradient><radialGradient id="rg98" cx="42%" cy="38%" r="62%"><stop offset="0" stop-color="#bdbdbd"/><stop offset="0.55" stop-color="#ababab"/><stop offset="1" stop-color="#8c8c8c"/></radialGradient><radialGradient id="rg99" cx="42%" cy="38%" r="62%"><stop offset="0" stop-color="#b5b5b5"/><stop offset="0.55" stop-color="#a6a6a6"/><stop offset="1" stop-color="#8a8a8a"/></radialGradient><linearGradient id="lg100" gradientUnits="objectBoundingBox" x1="0.3" y1="0" x2="0.7" y2="1"><stop offset="0" stop-color="#fff" stop-opacity="0"/><stop offset="0.4" stop-color="#fff" stop-opacity="0"/><stop offset="0.7" stop-color="#fff" stop-opacity="0.63"/><stop offset="1" stop-color="#fff" stop-opacity="0.7"/></linearGradient><linearGradient id="lg101" gradientUnits="objectBoundingBox" x1="0.7" y1="1" x2="0.3" y2="0"><stop offset="0" stop-color="#d0d0d0" stop-opacity="0"/><stop offset="0.45" stop-color="#d0d0d0" stop-opacity="0"/><stop offset="0.8" stop-color="#d0d0d0" stop-opacity="0.5"/><stop offset="1" stop-color="#d0d0d0" stop-opacity="0.6"/></linearGradient><clipPath id="cp102"><path d="M316.3,742.7 L317.7,742.4 L319.0,741.9 L321.1,740.7 L322.9,738.9 L324.2,736.7 L324.9,734.4 L325.1,732.2 L324.9,729.9 L324.2,724.7 L324.1,722.4 L324.3,720.7 L325.0,718.9 L327.5,715.2 L329.6,710.9 L330.7,709.5 L331.5,708.9 L332.5,708.4 L339.0,707.1 L341.2,707.3 L345.2,708.6 L347.5,709.0 L350.2,708.8 L352.7,708.1 L354.2,707.3 L355.5,706.4 L356.7,705.3 L357.7,703.9 L358.5,702.4 L359.0,700.9 L359.2,699.4 L359.3,697.9 L359.0,696.2 L358.4,694.4 L357.6,692.9 L356.5,691.6 L355.2,690.4 L353.7,689.4 L352.0,688.7 L350.2,688.3 L347.5,688.2 L344.7,688.7 L342.5,689.7 L338.5,692.3 L337.2,692.8 L336.0,693.1 L333.2,693.4 L329.5,693.9 L328.5,693.8 L327.7,693.5 L326.2,692.5 L323.7,689.9 L322.2,687.9 L321.4,685.9 L321.0,683.2 L320.8,679.7 L321.0,677.4 L321.5,675.7 L323.1,671.7 L323.6,669.4 L323.5,666.7 L322.8,663.9 L322.0,662.3 L321.0,660.9 L319.7,659.6 L318.2,658.5 L316.7,657.7 L315.0,657.1 L313.2,656.8 L311.5,656.7 L309.7,656.9 L308.2,657.4 L306.7,658.0 L305.2,659.0 L304.0,660.0 L302.7,661.4 L301.8,662.9 L301.2,664.4 L300.6,667.2 L300.6,669.9 L301.1,671.9 L302.6,675.4 L303.1,676.9 L303.3,678.4 L303.4,680.4 L303.0,682.7 L302.5,684.7 L301.7,686.2 L300.5,687.7 L297.2,690.4 L294.7,692.0 L293.0,692.7 L290.5,693.2 L289.2,693.2 L288.0,692.9 L283.7,690.6 L282.5,690.1 L281.0,689.7 L279.5,689.5 L277.7,689.6 L276.2,689.9 L274.7,690.3 L273.2,691.1 L271.9,691.9 L270.7,693.1 L269.6,694.4 L268.8,695.9 L268.3,697.4 L268.0,698.9 L268.0,700.4 L268.2,701.9 L268.5,703.2 L269.0,704.4 L269.8,705.7 L270.7,706.9 L271.9,707.9 L273.0,708.7 L274.4,709.4 L277.0,710.2 L279.7,710.4 L281.7,710.1 L285.5,708.8 L286.7,708.6 L287.7,708.8 L288.7,709.2 L290.6,710.4 L291.7,711.7 L294.2,715.8 L296.0,718.1 L298.2,720.2 L302.0,722.9 L302.8,723.7 L303.3,724.4 L303.9,725.9 L304.3,727.7 L304.6,732.7 L305.1,735.2 L305.8,737.2 L306.9,738.9 L307.8,739.9 L309.0,740.9 L311.2,742.1 L313.7,742.7 Z"/></clipPath><linearGradient id="lg103" gradientUnits="objectBoundingBox" x1="0.7" y1="1" x2="0.3" y2="0"><stop offset="0" stop-color="#505050" stop-opacity="0"/><stop offset="0.5" stop-color="#505050" stop-opacity="0"/><stop offset="0.8" stop-color="#505050" stop-opacity="0.55"/><stop offset="1" stop-color="#505050" stop-opacity="0.6"/></linearGradient><path id="pearF" d="M16.1,11.8 L17.6,11.3 L18.9,10.3 L19.9,8.9 L20.4,7.3 L20.5,5.6 L20.1,4.1 L19.3,2.8 L18.1,1.7 L17.1,1.1 L15.8,0.7 L14.6,0.6 L13.6,0.7 L11.8,1.4 L9.1,3.5 L8.9,2.8 L8.8,-1.4 L8.4,-2.9 L7.7,-4.4 L6.7,-5.9 L5.3,-7.1 L3.8,-8.0 L2.3,-8.6 L1.1,-8.8 L-0.4,-8.9 L-1.7,-8.7 L-2.9,-8.4 L-4.2,-7.9 L-5.3,-7.2 L-6.2,-6.4 L-7.2,-5.3 L-8.0,-3.9 L-8.6,-2.2 L-8.9,-0.4 L-8.8,1.3 L-8.3,3.1 L-7.6,4.6 L-6.7,5.9 L-5.4,7.1 L-3.7,8.1 L-1.9,8.7 L-0.2,8.9 L1.8,8.7 L3.6,8.1 L5.0,7.3 L8.6,4.1 L8.8,4.5 L9.0,6.3 L9.4,8.1 L10.0,9.3 L10.8,10.3 L12.1,11.3 L13.3,11.8 L14.6,12.0 Z" fill="#868686" stroke="#686868" stroke-width="0.8"/><path id="pearG" d="M21.3,16.2 L23.2,15.8 L25.0,15.0 L26.6,13.8 L27.9,12.0 L28.8,10.0 L29.1,8.0 L29.0,6.0 L28.3,4.0 L27.4,2.5 L26.3,1.2 L25.0,0.2 L23.5,-0.5 L22.2,-0.9 L21.0,-1.1 L19.5,-1.1 L16.8,-0.6 L16.0,-0.8 L15.6,-1.0 L15.0,-2.0 L14.1,-5.2 L12.8,-7.8 L11.2,-10.0 L9.0,-12.0 L6.5,-13.5 L3.8,-14.5 L1.0,-15.0 L-2.0,-14.9 L-4.8,-14.2 L-7.5,-13.0 L-9.9,-11.2 L-12.0,-9.0 L-13.5,-6.5 L-14.5,-3.8 L-15.0,-1.0 L-14.9,2.0 L-14.2,4.8 L-13.0,7.5 L-11.2,9.9 L-9.0,12.0 L-6.8,13.4 L-4.5,14.3 L-2.0,14.9 L0.8,15.0 L3.0,14.7 L5.2,14.1 L7.5,13.0 L10.0,11.3 L10.8,11.0 L11.2,11.0 L11.8,11.1 L12.2,11.4 L14.5,14.0 L16.3,15.2 L17.5,15.8 L18.8,16.1 L20.0,16.3 Z" fill="#b3b1b1" stroke="#4c4a4a" stroke-width="1.1"/><path id="wellI" d="M2.1,14.1 L3.8,13.7 L5.3,13.2 L8.1,11.7 L9.3,10.7 L10.6,9.5 L13.1,6.2 L13.8,5.6 L14.6,5.5 L15.3,5.5 L16.3,5.8 L19.1,7.5 L20.3,8.0 L21.8,8.4 L23.3,8.5 L25.1,8.2 L26.6,7.7 L27.8,6.9 L29.8,5.3 L30.8,4.8 L32.3,4.7 L34.3,4.9 L35.3,5.1 L36.0,5.5 L39.2,9.1 L40.8,10.2 L42.3,10.9 L44.0,11.5 L46.0,11.8 L48.0,11.7 L49.8,11.3 L51.8,10.5 L53.7,9.3 L55.3,7.7 L56.5,5.8 L57.3,3.8 L57.8,1.6 L57.7,-0.7 L57.3,-2.7 L56.7,-4.2 L56.0,-5.4 L55.1,-6.7 L54.0,-7.8 L52.8,-8.7 L51.5,-9.4 L50.0,-10.1 L48.5,-10.4 L47.0,-10.6 L45.5,-10.6 L44.0,-10.3 L42.5,-9.8 L41.0,-9.1 L39.5,-8.1 L38.3,-6.9 L36.8,-5.1 L36.0,-4.4 L34.5,-4.0 L32.0,-3.8 L31.1,-4.0 L30.3,-4.3 L28.0,-6.2 L26.6,-7.1 L25.1,-7.6 L23.6,-7.9 L22.1,-7.8 L20.6,-7.5 L19.3,-7.0 L16.3,-5.3 L15.3,-5.1 L14.3,-5.1 L13.6,-5.5 L13.1,-5.9 L11.2,-8.7 L9.6,-10.4 L7.8,-11.9 L5.8,-12.9 L3.3,-13.8 L0.8,-14.2 L-1.7,-14.1 L-4.2,-13.6 L-6.4,-12.7 L-8.7,-11.2 L-10.7,-9.3 L-12.2,-7.2 L-13.4,-4.7 L-14.0,-2.2 L-14.2,0.6 L-13.9,3.1 L-13.1,5.6 L-11.7,8.0 L-10.0,10.1 L-7.9,11.8 L-5.7,13.0 L-3.2,13.8 L-0.7,14.2 Z" fill="#bfbfba" stroke="#5c5c5a" stroke-width="1.1"/></defs>
<rect width="955" height="759" fill="#fff"/>
<g filter="url(#gblur)">
<rect x="45" y="22" width="615" height="261" fill="none" stroke="#000" stroke-width="2.4" stroke-dasharray="8 2.6"/>
<rect x="18" y="18" width="29" height="26" fill="#fff"/>
<text x="19.5" y="39.5" font-size="23" font-family="Liberation Sans, Arial, sans-serif" font-weight="bold" stroke="#000" stroke-width="0.5" stroke-linejoin="round">(A)</text>
<ellipse cx="72.0" cy="46.0" rx="9.5" ry="9.5" fill="url(#gBead)"/>
<text x="88" y="54" font-size="23.5" font-family="Liberation Sans, Arial, sans-serif" font-weight="bold" stroke="#000" stroke-width="0.5" stroke-linejoin="round" textLength="70" lengthAdjust="spacingAndGlyphs" letter-spacing="1">Bead</text>
<ellipse cx="204.0" cy="46.0" rx="8.5" ry="8.5" fill="url(#gTum)"/>
<text x="221" y="54" font-size="23.5" font-family="Liberation Sans, Arial, sans-serif" font-weight="bold" stroke="#000" stroke-width="0.5" stroke-linejoin="round" textLength="150" lengthAdjust="spacingAndGlyphs" letter-spacing="1">Tumor Cell</text>
<circle cx="486.2" cy="46.4" r="4.69" fill="#fff6f3" stroke="#e78d7e" stroke-width="4.22"/>
<text x="500.5" y="54" font-size="23.5" font-family="Liberation Sans, Arial, sans-serif" font-weight="bold" stroke="#000" stroke-width="0.5" stroke-linejoin="round" textLength="77" lengthAdjust="spacingAndGlyphs" letter-spacing="1">T Cell</text>
<ellipse cx="154.0" cy="71.5" rx="8.0" ry="8.0" fill="url(#gBead)"/>
<ellipse cx="144.4" cy="79.0" rx="8.0" ry="8.0" fill="url(#gBead)"/>
<ellipse cx="160.0" cy="79.5" rx="8.0" ry="8.0" fill="url(#gBead)"/>
<ellipse cx="135.6" cy="88.0" rx="8.0" ry="8.0" fill="url(#gBead)"/>
<ellipse cx="168.0" cy="88.0" rx="8.0" ry="8.0" fill="url(#gBead)"/>
<ellipse cx="152.4" cy="89.0" rx="8.0" ry="8.0" fill="url(#gBead)"/>
<ellipse cx="231.0" cy="76.5" rx="7.5" ry="7.5" fill="url(#gTum)"/>
<ellipse cx="223.6" cy="84.0" rx="7.5" ry="7.5" fill="url(#gTum)"/>
<ellipse cx="245.5" cy="87.5" rx="7.5" ry="7.5" fill="url(#gTum)"/>
<ellipse cx="240.7" cy="74.5" rx="7.5" ry="7.5" fill="url(#gTum)"/>
<ellipse cx="232.4" cy="88.0" rx="7.5" ry="7.5" fill="url(#gTum)"/>
<circle cx="533.2" cy="74.4" r="3.45" fill="#fff6f3" stroke="#e78d7e" stroke-width="3.10"/>
<circle cx="527.0" cy="79.4" r="3.45" fill="#fff6f3" stroke="#e78d7e" stroke-width="3.10"/>
<circle cx="538.7" cy="79.4" r="3.45" fill="#fff6f3" stroke="#e78d7e" stroke-width="3.10"/>
<circle cx="521.9" cy="86.5" r="3.45" fill="#fff6f3" stroke="#e78d7e" stroke-width="3.10"/>
<circle cx="546.8" cy="86.0" r="3.45" fill="#fff6f3" stroke="#e78d7e" stroke-width="3.10"/>
<circle cx="541.5" cy="86.5" r="3.45" fill="#fff6f3" stroke="#e78d7e" stroke-width="3.10"/>
<circle cx="532.2" cy="86.5" r="3.45" fill="#fff6f3" stroke="#e78d7e" stroke-width="3.10"/>
<path d="M188.60000000000002,99.2 L197.3,109.5 L206.0,99.2 L206.0,111.2 L197.3,121.2 L188.60000000000002,111.2 Z" fill="#c6c0c1"/>
<path d="M527.8,99.2 L536.5,109.5 L545.2,99.2 L545.2,111.2 L536.5,121.2 L527.8,111.2 Z" fill="#c6c0c1"/>
<path d="M323,186 L367,186 L367,175 L398,194 L367,213 L367,202 L323,202 Z" fill="#c6c0c1"/>
<path d="M54.4,218.9 L254.5,269.2 L308.9,174.9 L308.9,182.9 L255.5,277.2 L54.4,226.9 Z" fill="#fff" stroke="#555" stroke-width="0.8" stroke-linejoin="round"/>
<path d="M107.1,127.6 Q108.8,124.6 112.2,125.5 L305.5,174.0 Q308.9,174.9 307.2,177.9 L256.2,266.2 Q254.5,269.2 251.1,268.3 L57.8,219.8 Q54.4,218.9 56.1,215.9 Z" fill="url(#gPlate)" stroke="#6a6a6a" stroke-width="0.8"/>
<path d="M254.5,269.2 L255.5,277.2" stroke="#555" stroke-width="0.8"/>
<ellipse cx="133.2" cy="148.2" rx="6.2" ry="5" fill="#c6c6c6" stroke="#ececec" stroke-width="1.4"/>
<ellipse cx="118.2" cy="142.9" rx="12.8" ry="10.4" fill="#f4f4f4"/>
<ellipse cx="118.2" cy="142.7" rx="11.2" ry="8.9" fill="url(#gBead)"/>
<ellipse cx="173.5" cy="158.3" rx="6.2" ry="5" fill="#c6c6c6" stroke="#ececec" stroke-width="1.4"/>
<ellipse cx="158.5" cy="153.0" rx="12.8" ry="10.4" fill="#f4f4f4"/>
<ellipse cx="158.5" cy="152.8" rx="11.2" ry="8.9" fill="url(#gBead)"/>
<ellipse cx="213.8" cy="168.4" rx="6.2" ry="5" fill="#c6c6c6" stroke="#ececec" stroke-width="1.4"/>
<ellipse cx="198.8" cy="163.1" rx="12.8" ry="10.4" fill="#f4f4f4"/>
<ellipse cx="198.8" cy="162.9" rx="11.2" ry="8.9" fill="url(#gTum)"/>
<ellipse cx="254.1" cy="178.5" rx="6.2" ry="5" fill="#c6c6c6" stroke="#ececec" stroke-width="1.4"/>
<ellipse cx="239.1" cy="173.2" rx="12.8" ry="10.4" fill="#f4f4f4"/>
<ellipse cx="239.1" cy="173.0" rx="11.2" ry="8.9" fill="url(#gTum)"/>
<ellipse cx="294.4" cy="188.6" rx="6.2" ry="5" fill="#c6c6c6" stroke="#ececec" stroke-width="1.4"/>
<ellipse cx="279.4" cy="183.3" rx="12.8" ry="10.4" fill="#f4f4f4"/>
<ellipse cx="279.4" cy="183.1" rx="11.2" ry="8.9" fill="url(#gTum)"/>
<ellipse cx="120.3" cy="170.5" rx="6.2" ry="5" fill="#c6c6c6" stroke="#ececec" stroke-width="1.4"/>
<ellipse cx="105.3" cy="165.2" rx="12.8" ry="10.4" fill="#f4f4f4"/>
<ellipse cx="105.3" cy="165.0" rx="11.2" ry="8.9" fill="url(#gBead)"/>
<ellipse cx="160.6" cy="180.6" rx="6.2" ry="5" fill="#c6c6c6" stroke="#ececec" stroke-width="1.4"/>
<ellipse cx="145.6" cy="175.3" rx="12.8" ry="10.4" fill="#f4f4f4"/>
<ellipse cx="145.6" cy="175.1" rx="11.2" ry="8.9" fill="url(#gBead)"/>
<ellipse cx="200.9" cy="190.7" rx="6.2" ry="5" fill="#c6c6c6" stroke="#ececec" stroke-width="1.4"/>
<ellipse cx="185.9" cy="185.4" rx="12.8" ry="10.4" fill="#f4f4f4"/>
<ellipse cx="185.9" cy="185.2" rx="11.2" ry="8.9" fill="url(#gTum)"/>
<ellipse cx="241.2" cy="200.8" rx="6.2" ry="5" fill="#c6c6c6" stroke="#ececec" stroke-width="1.4"/>
<ellipse cx="226.2" cy="195.5" rx="12.8" ry="10.4" fill="#f4f4f4"/>
<ellipse cx="226.2" cy="195.3" rx="11.2" ry="8.9" fill="url(#gTum)"/>
<ellipse cx="281.5" cy="210.9" rx="6.2" ry="5" fill="#c6c6c6" stroke="#ececec" stroke-width="1.4"/>
<ellipse cx="266.5" cy="205.6" rx="12.8" ry="10.4" fill="#f4f4f4"/>
<ellipse cx="266.5" cy="205.4" rx="11.2" ry="8.9" fill="url(#gTum)"/>
<ellipse cx="107.4" cy="192.8" rx="6.2" ry="5" fill="#c6c6c6" stroke="#ececec" stroke-width="1.4"/>
<ellipse cx="92.4" cy="187.5" rx="12.8" ry="10.4" fill="#f4f4f4"/>
<ellipse cx="92.4" cy="187.3" rx="11.2" ry="8.9" fill="url(#gBead)"/>
<ellipse cx="147.7" cy="202.9" rx="6.2" ry="5" fill="#c6c6c6" stroke="#ececec" stroke-width="1.4"/>
<ellipse cx="132.7" cy="197.6" rx="12.8" ry="10.4" fill="#f4f4f4"/>
<ellipse cx="132.7" cy="197.4" rx="11.2" ry="8.9" fill="url(#gBead)"/>
<ellipse cx="188.0" cy="213.0" rx="6.2" ry="5" fill="#c6c6c6" stroke="#ececec" stroke-width="1.4"/>
<ellipse cx="173.0" cy="207.7" rx="12.8" ry="10.4" fill="#f4f4f4"/>
<ellipse cx="173.0" cy="207.5" rx="11.2" ry="8.9" fill="url(#gBead)"/>
<ellipse cx="228.3" cy="223.1" rx="6.2" ry="5" fill="#c6c6c6" stroke="#ececec" stroke-width="1.4"/>
<ellipse cx="213.3" cy="217.8" rx="12.8" ry="10.4" fill="#f4f4f4"/>
<ellipse cx="213.3" cy="217.6" rx="11.2" ry="8.9" fill="url(#gTum)"/>
<ellipse cx="268.6" cy="233.2" rx="6.2" ry="5" fill="#c6c6c6" stroke="#ececec" stroke-width="1.4"/>
<ellipse cx="253.6" cy="227.9" rx="12.8" ry="10.4" fill="#f4f4f4"/>
<ellipse cx="253.6" cy="227.7" rx="11.2" ry="8.9" fill="url(#gTum)"/>
<ellipse cx="94.5" cy="215.1" rx="6.2" ry="5" fill="#c6c6c6" stroke="#ececec" stroke-width="1.4"/>
<ellipse cx="79.5" cy="209.8" rx="12.8" ry="10.4" fill="#f4f4f4"/>
<ellipse cx="79.5" cy="209.6" rx="11.2" ry="8.9" fill="url(#gBead)"/>
<ellipse cx="134.8" cy="225.2" rx="6.2" ry="5" fill="#c6c6c6" stroke="#ececec" stroke-width="1.4"/>
<ellipse cx="119.8" cy="219.9" rx="12.8" ry="10.4" fill="#f4f4f4"/>
<ellipse cx="119.8" cy="219.7" rx="11.2" ry="8.9" fill="url(#gBead)"/>
<ellipse cx="175.1" cy="235.3" rx="6.2" ry="5" fill="#c6c6c6" stroke="#ececec" stroke-width="1.4"/>
<ellipse cx="160.1" cy="230.0" rx="12.8" ry="10.4" fill="#f4f4f4"/>
<ellipse cx="160.1" cy="229.8" rx="11.2" ry="8.9" fill="url(#gBead)"/>
<ellipse cx="215.4" cy="245.4" rx="6.2" ry="5" fill="#c6c6c6" stroke="#ececec" stroke-width="1.4"/>
<ellipse cx="200.4" cy="240.1" rx="12.8" ry="10.4" fill="#f4f4f4"/>
<ellipse cx="200.4" cy="239.9" rx="11.2" ry="8.9" fill="url(#gTum)"/>
<ellipse cx="255.7" cy="255.5" rx="6.2" ry="5" fill="#c6c6c6" stroke="#ececec" stroke-width="1.4"/>
<ellipse cx="240.7" cy="250.2" rx="12.8" ry="10.4" fill="#f4f4f4"/>
<ellipse cx="240.7" cy="250.0" rx="11.2" ry="8.9" fill="url(#gTum)"/>
<path d="M193.2,141.0 L164.4,192.8 L204.3,203.2 L172.6,263.8" fill="none" stroke="#000" stroke-width="2.1" stroke-dasharray="2.4 1.5"/>
<path d="M395.8,218.9 L595.9,269.2 L650.3,174.9 L650.3,182.9 L596.9,277.2 L395.8,226.9 Z" fill="#fff" stroke="#555" stroke-width="0.8" stroke-linejoin="round"/>
<path d="M448.5,127.6 Q450.2,124.6 453.6,125.5 L646.9,174.0 Q650.3,174.9 648.6,177.9 L597.6,266.2 Q595.9,269.2 592.5,268.3 L399.2,219.8 Q395.8,218.9 397.5,215.9 Z" fill="url(#gPlate)" stroke="#6a6a6a" stroke-width="0.8"/>
<path d="M595.9,269.2 L596.9,277.2" stroke="#555" stroke-width="0.8"/>
<ellipse cx="474.6" cy="148.2" rx="6.2" ry="5" fill="#c6c6c6" stroke="#ececec" stroke-width="1.4"/>
<ellipse cx="459.6" cy="142.9" rx="12.8" ry="10.4" fill="#f4f4f4"/>
<ellipse cx="459.6" cy="142.7" rx="11.2" ry="8.9" fill="url(#gBead)"/>
<circle cx="474.6" cy="148.2" r="6" fill="#f6f2f2"/>
<circle cx="474.6" cy="148.2" r="3.38" fill="#fff6f3" stroke="#e78d7e" stroke-width="3.04"/>
<ellipse cx="514.9" cy="158.3" rx="6.2" ry="5" fill="#c6c6c6" stroke="#ececec" stroke-width="1.4"/>
<ellipse cx="499.9" cy="153.0" rx="12.8" ry="10.4" fill="#f4f4f4"/>
<ellipse cx="499.9" cy="152.8" rx="11.2" ry="8.9" fill="url(#gBead)"/>
<circle cx="514.9" cy="158.3" r="6" fill="#f6f2f2"/>
<circle cx="514.9" cy="158.3" r="3.38" fill="#fff6f3" stroke="#e78d7e" stroke-width="3.04"/>
<ellipse cx="555.2" cy="168.4" rx="6.2" ry="5" fill="#c6c6c6" stroke="#ececec" stroke-width="1.4"/>
<ellipse cx="540.2" cy="163.1" rx="12.8" ry="10.4" fill="#f4f4f4"/>
<ellipse cx="540.2" cy="162.9" rx="11.2" ry="8.9" fill="url(#gTum)"/>
<circle cx="555.2" cy="168.4" r="6" fill="#f6f2f2"/>
<circle cx="555.2" cy="168.4" r="3.38" fill="#fff6f3" stroke="#e78d7e" stroke-width="3.04"/>
<ellipse cx="595.5" cy="178.5" rx="6.2" ry="5" fill="#c6c6c6" stroke="#ececec" stroke-width="1.4"/>
<ellipse cx="580.5" cy="173.2" rx="12.8" ry="10.4" fill="#f4f4f4"/>
<ellipse cx="580.5" cy="173.0" rx="11.2" ry="8.9" fill="url(#gTum)"/>
<circle cx="595.5" cy="178.5" r="6" fill="#f6f2f2"/>
<circle cx="595.5" cy="178.5" r="3.38" fill="#fff6f3" stroke="#e78d7e" stroke-width="3.04"/>
<ellipse cx="635.8" cy="188.6" rx="6.2" ry="5" fill="#c6c6c6" stroke="#ececec" stroke-width="1.4"/>
<ellipse cx="620.8" cy="183.3" rx="12.8" ry="10.4" fill="#f4f4f4"/>
<ellipse cx="620.8" cy="183.1" rx="11.2" ry="8.9" fill="url(#gTum)"/>
<circle cx="635.8" cy="188.6" r="6" fill="#f6f2f2"/>
<circle cx="635.8" cy="188.6" r="3.38" fill="#fff6f3" stroke="#e78d7e" stroke-width="3.04"/>
<ellipse cx="461.7" cy="170.5" rx="6.2" ry="5" fill="#c6c6c6" stroke="#ececec" stroke-width="1.4"/>
<ellipse cx="446.7" cy="165.2" rx="12.8" ry="10.4" fill="#f4f4f4"/>
<ellipse cx="446.7" cy="165.0" rx="11.2" ry="8.9" fill="url(#gBead)"/>
<circle cx="461.7" cy="170.5" r="6" fill="#f6f2f2"/>
<circle cx="461.7" cy="170.5" r="3.38" fill="#fff6f3" stroke="#e78d7e" stroke-width="3.04"/>
<ellipse cx="502.0" cy="180.6" rx="6.2" ry="5" fill="#c6c6c6" stroke="#ececec" stroke-width="1.4"/>
<ellipse cx="487.0" cy="175.3" rx="12.8" ry="10.4" fill="#f4f4f4"/>
<ellipse cx="487.0" cy="175.1" rx="11.2" ry="8.9" fill="url(#gBead)"/>
<circle cx="502.0" cy="180.6" r="6" fill="#f6f2f2"/>
<circle cx="502.0" cy="180.6" r="3.38" fill="#fff6f3" stroke="#e78d7e" stroke-width="3.04"/>
<ellipse cx="542.3" cy="190.7" rx="6.2" ry="5" fill="#c6c6c6" stroke="#ececec" stroke-width="1.4"/>
<ellipse cx="527.3" cy="185.4" rx="12.8" ry="10.4" fill="#f4f4f4"/>
<ellipse cx="527.3" cy="185.2" rx="11.2" ry="8.9" fill="url(#gTum)"/>
<circle cx="542.3" cy="190.7" r="6" fill="#f6f2f2"/>
<circle cx="542.3" cy="190.7" r="3.38" fill="#fff6f3" stroke="#e78d7e" stroke-width="3.04"/>
<ellipse cx="582.6" cy="200.8" rx="6.2" ry="5" fill="#c6c6c6" stroke="#ececec" stroke-width="1.4"/>
<ellipse cx="567.6" cy="195.5" rx="12.8" ry="10.4" fill="#f4f4f4"/>
<ellipse cx="567.6" cy="195.3" rx="11.2" ry="8.9" fill="url(#gTum)"/>
<circle cx="582.6" cy="200.8" r="6" fill="#f6f2f2"/>
<circle cx="582.6" cy="200.8" r="3.38" fill="#fff6f3" stroke="#e78d7e" stroke-width="3.04"/>
<ellipse cx="622.9" cy="210.9" rx="6.2" ry="5" fill="#c6c6c6" stroke="#ececec" stroke-width="1.4"/>
<ellipse cx="607.9" cy="205.6" rx="12.8" ry="10.4" fill="#f4f4f4"/>
<ellipse cx="607.9" cy="205.4" rx="11.2" ry="8.9" fill="url(#gTum)"/>
<circle cx="622.9" cy="210.9" r="6" fill="#f6f2f2"/>
<circle cx="622.9" cy="210.9" r="3.38" fill="#fff6f3" stroke="#e78d7e" stroke-width="3.04"/>
<ellipse cx="448.8" cy="192.8" rx="6.2" ry="5" fill="#c6c6c6" stroke="#ececec" stroke-width="1.4"/>
<ellipse cx="433.8" cy="187.5" rx="12.8" ry="10.4" fill="#f4f4f4"/>
<ellipse cx="433.8" cy="187.3" rx="11.2" ry="8.9" fill="url(#gBead)"/>
<circle cx="448.8" cy="192.8" r="6" fill="#f6f2f2"/>
<circle cx="448.8" cy="192.8" r="3.38" fill="#fff6f3" stroke="#e78d7e" stroke-width="3.04"/>
<ellipse cx="489.1" cy="202.9" rx="6.2" ry="5" fill="#c6c6c6" stroke="#ececec" stroke-width="1.4"/>
<ellipse cx="474.1" cy="197.6" rx="12.8" ry="10.4" fill="#f4f4f4"/>
<ellipse cx="474.1" cy="197.4" rx="11.2" ry="8.9" fill="url(#gBead)"/>
<circle cx="489.1" cy="202.9" r="6" fill="#f6f2f2"/>
<circle cx="489.1" cy="202.9" r="3.38" fill="#fff6f3" stroke="#e78d7e" stroke-width="3.04"/>
<ellipse cx="529.4" cy="213.0" rx="6.2" ry="5" fill="#c6c6c6" stroke="#ececec" stroke-width="1.4"/>
<ellipse cx="514.4" cy="207.7" rx="12.8" ry="10.4" fill="#f4f4f4"/>
<ellipse cx="514.4" cy="207.5" rx="11.2" ry="8.9" fill="url(#gBead)"/>
<circle cx="529.4" cy="213.0" r="6" fill="#f6f2f2"/>
<circle cx="529.4" cy="213.0" r="3.38" fill="#fff6f3" stroke="#e78d7e" stroke-width="3.04"/>
<ellipse cx="569.7" cy="223.1" rx="6.2" ry="5" fill="#c6c6c6" stroke="#ececec" stroke-width="1.4"/>
<ellipse cx="554.7" cy="217.8" rx="12.8" ry="10.4" fill="#f4f4f4"/>
<ellipse cx="554.7" cy="217.6" rx="11.2" ry="8.9" fill="url(#gTum)"/>
<circle cx="569.7" cy="223.1" r="6" fill="#f6f2f2"/>
<circle cx="569.7" cy="223.1" r="3.38" fill="#fff6f3" stroke="#e78d7e" stroke-width="3.04"/>
<ellipse cx="610.0" cy="233.2" rx="6.2" ry="5" fill="#c6c6c6" stroke="#ececec" stroke-width="1.4"/>
<ellipse cx="595.0" cy="227.9" rx="12.8" ry="10.4" fill="#f4f4f4"/>
<ellipse cx="595.0" cy="227.7" rx="11.2" ry="8.9" fill="url(#gTum)"/>
<circle cx="610.0" cy="233.2" r="6" fill="#f6f2f2"/>
<circle cx="610.0" cy="233.2" r="3.38" fill="#fff6f3" stroke="#e78d7e" stroke-width="3.04"/>
<ellipse cx="435.9" cy="215.1" rx="6.2" ry="5" fill="#c6c6c6" stroke="#ececec" stroke-width="1.4"/>
<ellipse cx="420.9" cy="209.8" rx="12.8" ry="10.4" fill="#f4f4f4"/>
<ellipse cx="420.9" cy="209.6" rx="11.2" ry="8.9" fill="url(#gBead)"/>
<circle cx="435.9" cy="215.1" r="6" fill="#f6f2f2"/>
<circle cx="435.9" cy="215.1" r="3.38" fill="#fff6f3" stroke="#e78d7e" stroke-width="3.04"/>
<ellipse cx="476.2" cy="225.2" rx="6.2" ry="5" fill="#c6c6c6" stroke="#ececec" stroke-width="1.4"/>
<ellipse cx="461.2" cy="219.9" rx="12.8" ry="10.4" fill="#f4f4f4"/>
<ellipse cx="461.2" cy="219.7" rx="11.2" ry="8.9" fill="url(#gBead)"/>
<circle cx="476.2" cy="225.2" r="6" fill="#f6f2f2"/>
<circle cx="476.2" cy="225.2" r="3.38" fill="#fff6f3" stroke="#e78d7e" stroke-width="3.04"/>
<ellipse cx="516.5" cy="235.3" rx="6.2" ry="5" fill="#c6c6c6" stroke="#ececec" stroke-width="1.4"/>
<ellipse cx="501.5" cy="230.0" rx="12.8" ry="10.4" fill="#f4f4f4"/>
<ellipse cx="501.5" cy="229.8" rx="11.2" ry="8.9" fill="url(#gBead)"/>
<circle cx="516.5" cy="235.3" r="6" fill="#f6f2f2"/>
<circle cx="516.5" cy="235.3" r="3.38" fill="#fff6f3" stroke="#e78d7e" stroke-width="3.04"/>
<ellipse cx="556.8" cy="245.4" rx="6.2" ry="5" fill="#c6c6c6" stroke="#ececec" stroke-width="1.4"/>
<ellipse cx="541.8" cy="240.1" rx="12.8" ry="10.4" fill="#f4f4f4"/>
<ellipse cx="541.8" cy="239.9" rx="11.2" ry="8.9" fill="url(#gTum)"/>
<circle cx="556.8" cy="245.4" r="6" fill="#f6f2f2"/>
<circle cx="556.8" cy="245.4" r="3.38" fill="#fff6f3" stroke="#e78d7e" stroke-width="3.04"/>
<ellipse cx="597.1" cy="255.5" rx="6.2" ry="5" fill="#c6c6c6" stroke="#ececec" stroke-width="1.4"/>
<ellipse cx="582.1" cy="250.2" rx="12.8" ry="10.4" fill="#f4f4f4"/>
<ellipse cx="582.1" cy="250.0" rx="11.2" ry="8.9" fill="url(#gTum)"/>
<circle cx="597.1" cy="255.5" r="6" fill="#f6f2f2"/>
<circle cx="597.1" cy="255.5" r="3.38" fill="#fff6f3" stroke="#e78d7e" stroke-width="3.04"/>
<path d="M534.6,141.0 L505.8,192.8 L545.7,203.2 L514.0,263.8" fill="none" stroke="#000" stroke-width="2.1" stroke-dasharray="2.4 1.5"/>
<rect x="21.5" y="301" width="29.5" height="33" fill="#f8f3f2"/>
<text x="25.5" y="321.5" font-size="21.5" font-family="Liberation Sans, Arial, sans-serif" font-weight="bold">(B)</text>
<g>
<path d="M29.4,360.4 L117.2,415.3 L117.2,424.8 L29.9,367.4 Z" fill="#cecece"/>
<path d="M177.3,352.2 L117.2,415.3 L117.2,424.8 L177.0,358.0 Z" fill="#adadad"/>
<path d="M29.4,360.4 L99,325.9 L177.3,352.2 L117.2,415.3 Z" fill="#a8a8a8"/>
<ellipse cx="103.9" cy="331.8" rx="1.1" ry="0.9" fill="#5a5a5a"/>
<ellipse cx="100.5" cy="329.6" rx="2.8" ry="2.4" fill="#5f7a5f"/>
<ellipse cx="100.8" cy="329.9" rx="2.5" ry="1.9" fill="url(#gGreen)"/>
<ellipse cx="117.5" cy="336.8" rx="1.1" ry="1.0" fill="#5a5a5a"/>
<ellipse cx="113.9" cy="334.5" rx="3.0" ry="2.5" fill="#5f7a5f"/>
<ellipse cx="114.2" cy="334.8" rx="2.7" ry="2.0" fill="url(#gGreen)"/>
<ellipse cx="132.5" cy="342.4" rx="1.2" ry="1.0" fill="#5a5a5a"/>
<ellipse cx="128.7" cy="339.9" rx="3.2" ry="2.7" fill="#5f7a5f"/>
<ellipse cx="129.0" cy="340.3" rx="2.8" ry="2.1" fill="url(#gGreen)"/>
<ellipse cx="149.1" cy="348.6" rx="1.3" ry="1.1" fill="#5a5a5a"/>
<ellipse cx="145.0" cy="346.0" rx="3.4" ry="2.9" fill="#5f7a5f"/>
<ellipse cx="145.3" cy="346.3" rx="3.0" ry="2.2" fill="url(#gGreen)"/>
<ellipse cx="167.6" cy="355.5" rx="1.3" ry="1.2" fill="#5a5a5a"/>
<ellipse cx="163.2" cy="352.7" rx="3.6" ry="3.1" fill="#5f7a5f"/>
<ellipse cx="163.5" cy="353.0" rx="3.2" ry="2.4" fill="url(#gGreen)"/>
<ellipse cx="92.6" cy="338.0" rx="1.1" ry="1.0" fill="#5a5a5a"/>
<ellipse cx="88.9" cy="335.6" rx="3.0" ry="2.6" fill="#5f7a5f"/>
<ellipse cx="89.2" cy="336.0" rx="2.7" ry="2.0" fill="url(#gGreen)"/>
<ellipse cx="106.4" cy="343.7" rx="1.2" ry="1.0" fill="#5a5a5a"/>
<ellipse cx="102.5" cy="341.2" rx="3.2" ry="2.7" fill="#5f7a5f"/>
<ellipse cx="102.8" cy="341.5" rx="2.9" ry="2.1" fill="url(#gGreen)"/>
<ellipse cx="121.8" cy="350.0" rx="1.3" ry="1.1" fill="#5a5a5a"/>
<ellipse cx="117.7" cy="347.3" rx="3.4" ry="2.9" fill="#5f7a5f"/>
<ellipse cx="118.0" cy="347.7" rx="3.1" ry="2.3" fill="url(#gGreen)"/>
<ellipse cx="138.9" cy="357.0" rx="1.4" ry="1.2" fill="#5a5a5a"/>
<ellipse cx="134.5" cy="354.2" rx="3.6" ry="3.1" fill="#5f7a5f"/>
<ellipse cx="134.8" cy="354.6" rx="3.3" ry="2.4" fill="url(#gGreen)"/>
<ellipse cx="158.1" cy="364.9" rx="1.5" ry="1.3" fill="#5a5a5a"/>
<ellipse cx="153.4" cy="361.9" rx="3.9" ry="3.3" fill="#5f7a5f"/>
<ellipse cx="153.7" cy="362.3" rx="3.5" ry="2.6" fill="url(#gGreen)"/>
<ellipse cx="79.8" cy="345.0" rx="1.2" ry="1.0" fill="#5a5a5a"/>
<ellipse cx="75.8" cy="342.5" rx="3.3" ry="2.8" fill="#5f7a5f"/>
<ellipse cx="76.1" cy="342.8" rx="2.9" ry="2.2" fill="url(#gGreen)"/>
<ellipse cx="93.8" cy="351.4" rx="1.3" ry="1.1" fill="#5a5a5a"/>
<ellipse cx="89.7" cy="348.8" rx="3.5" ry="2.9" fill="#5f7a5f"/>
<ellipse cx="90.0" cy="349.1" rx="3.1" ry="2.3" fill="url(#gGreen)"/>
<ellipse cx="109.5" cy="358.7" rx="1.4" ry="1.2" fill="#5a5a5a"/>
<ellipse cx="105.1" cy="355.8" rx="3.7" ry="3.1" fill="#5f7a5f"/>
<ellipse cx="105.4" cy="356.2" rx="3.3" ry="2.4" fill="url(#gGreen)"/>
<ellipse cx="127.2" cy="366.7" rx="1.5" ry="1.3" fill="#5a5a5a"/>
<ellipse cx="122.4" cy="363.7" rx="4.0" ry="3.4" fill="#5f7a5f"/>
<ellipse cx="122.8" cy="364.1" rx="3.5" ry="2.6" fill="url(#gGreen)"/>
<ellipse cx="147.1" cy="375.9" rx="1.6" ry="1.4" fill="#5a5a5a"/>
<ellipse cx="142.0" cy="372.6" rx="4.3" ry="3.6" fill="#5f7a5f"/>
<ellipse cx="142.4" cy="373.0" rx="3.8" ry="2.8" fill="url(#gGreen)"/>
<ellipse cx="65.3" cy="352.9" rx="1.3" ry="1.1" fill="#5a5a5a"/>
<ellipse cx="61.0" cy="350.2" rx="3.5" ry="3.0" fill="#5f7a5f"/>
<ellipse cx="61.3" cy="350.6" rx="3.1" ry="2.3" fill="url(#gGreen)"/>
<ellipse cx="79.5" cy="360.3" rx="1.4" ry="1.2" fill="#5a5a5a"/>
<ellipse cx="75.0" cy="357.4" rx="3.8" ry="3.2" fill="#5f7a5f"/>
<ellipse cx="75.3" cy="357.8" rx="3.4" ry="2.5" fill="url(#gGreen)"/>
<ellipse cx="95.5" cy="368.6" rx="1.5" ry="1.3" fill="#5a5a5a"/>
<ellipse cx="90.6" cy="365.5" rx="4.0" ry="3.4" fill="#5f7a5f"/>
<ellipse cx="91.0" cy="365.9" rx="3.6" ry="2.7" fill="url(#gGreen)"/>
<ellipse cx="113.6" cy="378.0" rx="1.6" ry="1.4" fill="#5a5a5a"/>
<ellipse cx="108.4" cy="374.6" rx="4.3" ry="3.7" fill="#5f7a5f"/>
<ellipse cx="108.7" cy="375.1" rx="3.9" ry="2.9" fill="url(#gGreen)"/>
<ellipse cx="134.3" cy="388.7" rx="1.8" ry="1.5" fill="#5a5a5a"/>
<ellipse cx="128.6" cy="385.1" rx="4.7" ry="4.0" fill="#5f7a5f"/>
<ellipse cx="129.0" cy="385.6" rx="4.2" ry="3.1" fill="url(#gGreen)"/>
<ellipse cx="48.7" cy="362.0" rx="1.4" ry="1.2" fill="#5a5a5a"/>
<ellipse cx="44.1" cy="359.0" rx="3.8" ry="3.2" fill="#5f7a5f"/>
<ellipse cx="44.4" cy="359.5" rx="3.4" ry="2.5" fill="url(#gGreen)"/>
<ellipse cx="62.9" cy="370.5" rx="1.5" ry="1.3" fill="#5a5a5a"/>
<ellipse cx="58.0" cy="367.3" rx="4.1" ry="3.5" fill="#5f7a5f"/>
<ellipse cx="58.4" cy="367.8" rx="3.6" ry="2.7" fill="url(#gGreen)"/>
<ellipse cx="79.1" cy="380.2" rx="1.6" ry="1.4" fill="#5a5a5a"/>
<ellipse cx="73.8" cy="376.8" rx="4.4" ry="3.7" fill="#5f7a5f"/>
<ellipse cx="74.2" cy="377.2" rx="3.9" ry="2.9" fill="url(#gGreen)"/>
<ellipse cx="97.6" cy="391.2" rx="1.8" ry="1.5" fill="#5a5a5a"/>
<ellipse cx="91.9" cy="387.5" rx="4.8" ry="4.0" fill="#5f7a5f"/>
<ellipse cx="92.3" cy="388.0" rx="4.2" ry="3.1" fill="url(#gGreen)"/>
<ellipse cx="119.0" cy="404.0" rx="1.9" ry="1.7" fill="#5a5a5a"/>
<ellipse cx="112.8" cy="400.0" rx="5.2" ry="4.4" fill="#5f7a5f"/>
<ellipse cx="113.2" cy="400.5" rx="4.6" ry="3.4" fill="url(#gGreen)"/>
<circle cx="102.3" cy="333.6" r="2.7" fill="url(#gGreen)"/>
<circle cx="92.4" cy="340.8" r="2.9" fill="url(#gGreen)"/>
<circle cx="114.6" cy="341.2" r="2.9" fill="url(#gGreen)"/>
<circle cx="82.6" cy="344.9" r="3.0" fill="url(#gGreen)"/>
<circle cx="95.8" cy="344.9" r="3.0" fill="url(#gGreen)"/>
<circle cx="103.7" cy="345.9" r="3.1" fill="url(#gGreen)"/>
<circle cx="132.5" cy="346.8" r="3.1" fill="url(#gGreen)"/>
<circle cx="73.5" cy="348.7" r="3.2" fill="url(#gGreen)"/>
<circle cx="115.5" cy="350.6" r="3.2" fill="url(#gGreen)"/>
<circle cx="84.4" cy="351.2" r="3.2" fill="url(#gGreen)"/>
<circle cx="153.6" cy="351.2" r="3.2" fill="url(#gGreen)"/>
<circle cx="66.5" cy="351.5" r="3.2" fill="url(#gGreen)"/>
<circle cx="99.5" cy="352.5" r="3.3" fill="url(#gGreen)"/>
<circle cx="124.0" cy="353.4" r="3.3" fill="url(#gGreen)"/>
<circle cx="108.0" cy="355.3" r="3.3" fill="url(#gGreen)"/>
<circle cx="75.0" cy="357.2" r="3.4" fill="url(#gGreen)"/>
<circle cx="91.4" cy="358.1" r="3.4" fill="url(#gGreen)"/>
<circle cx="57.1" cy="358.5" r="3.4" fill="url(#gGreen)"/>
<circle cx="103.7" cy="361.0" r="3.5" fill="url(#gGreen)"/>
<circle cx="140.0" cy="361.0" r="3.5" fill="url(#gGreen)"/>
<circle cx="123.1" cy="363.8" r="3.6" fill="url(#gGreen)"/>
<circle cx="73.5" cy="365.1" r="3.6" fill="url(#gGreen)"/>
<circle cx="117.4" cy="366.6" r="3.6" fill="url(#gGreen)"/>
<circle cx="83.5" cy="367.6" r="3.7" fill="url(#gGreen)"/>
<circle cx="99.5" cy="370.0" r="3.7" fill="url(#gGreen)"/>
<circle cx="109.9" cy="370.4" r="3.8" fill="url(#gGreen)"/>
<circle cx="126.8" cy="374.2" r="3.9" fill="url(#gGreen)"/>
<circle cx="87.3" cy="376.0" r="3.9" fill="url(#gGreen)"/>
<circle cx="101.8" cy="380.8" r="4.0" fill="url(#gGreen)"/>
<circle cx="116.5" cy="386.8" r="4.2" fill="url(#gGreen)"/>
</g>
<path d="M178.9,360.6 h7.5 v-3 l6.2,4.4 l-6.2,4.4 v-3 h-7.5 Z" fill="#555"/>
<path d="M100.5,304.5 C102.5,309 107.5,313 107.5,318.5 A7,7 0 0 1 93.5,318.5 C93.5,313 98.5,309 100.5,304.5 Z" fill="#dbe9f7"/>
<circle cx="100.5" cy="313" r="1.7" fill="#7fdc8a"/><path d="M96.5,318 h8 M100.5,314 v4" stroke="#7fdc8a" stroke-width="2.2" stroke-linecap="round" fill="none"/>
<g>
<path d="M195.4,360.4 L283.2,415.3 L283.2,424.8 L195.9,367.4 Z" fill="#cecece"/>
<path d="M343.3,352.2 L283.2,415.3 L283.2,424.8 L343.0,358.0 Z" fill="#adadad"/>
<path d="M195.4,360.4 L265,325.9 L343.3,352.2 L283.2,415.3 Z" fill="#a8a8a8"/>
<ellipse cx="269.9" cy="331.8" rx="1.1" ry="0.9" fill="#5a5a5a"/>
<ellipse cx="266.5" cy="329.6" rx="2.8" ry="2.4" fill="#5f7a5f"/>
<ellipse cx="266.8" cy="329.9" rx="2.5" ry="1.9" fill="url(#gGreen)"/>
<ellipse cx="283.5" cy="336.8" rx="1.1" ry="1.0" fill="#5a5a5a"/>
<ellipse cx="279.9" cy="334.5" rx="3.0" ry="2.5" fill="#5f7a5f"/>
<ellipse cx="280.2" cy="334.8" rx="2.7" ry="2.0" fill="url(#gGreen)"/>
<ellipse cx="298.5" cy="342.4" rx="1.2" ry="1.0" fill="#5a5a5a"/>
<ellipse cx="294.7" cy="339.9" rx="3.2" ry="2.7" fill="#5f7a5f"/>
<ellipse cx="295.0" cy="340.3" rx="2.8" ry="2.1" fill="url(#gGreen)"/>
<ellipse cx="315.1" cy="348.6" rx="1.3" ry="1.1" fill="#5a5a5a"/>
<ellipse cx="311.0" cy="346.0" rx="3.4" ry="2.9" fill="#5f7a5f"/>
<ellipse cx="311.3" cy="346.3" rx="3.0" ry="2.2" fill="url(#gGreen)"/>
<ellipse cx="333.6" cy="355.5" rx="1.3" ry="1.2" fill="#5a5a5a"/>
<ellipse cx="329.2" cy="352.7" rx="3.6" ry="3.1" fill="#5f7a5f"/>
<ellipse cx="329.5" cy="353.0" rx="3.2" ry="2.4" fill="url(#gGreen)"/>
<ellipse cx="258.6" cy="338.0" rx="1.1" ry="1.0" fill="#5a5a5a"/>
<ellipse cx="254.9" cy="335.6" rx="3.0" ry="2.6" fill="#5f7a5f"/>
<ellipse cx="255.2" cy="336.0" rx="2.7" ry="2.0" fill="url(#gGreen)"/>
<ellipse cx="272.4" cy="343.7" rx="1.2" ry="1.0" fill="#5a5a5a"/>
<ellipse cx="268.5" cy="341.2" rx="3.2" ry="2.7" fill="#5f7a5f"/>
<ellipse cx="268.8" cy="341.5" rx="2.9" ry="2.1" fill="url(#gGreen)"/>
<ellipse cx="287.8" cy="350.0" rx="1.3" ry="1.1" fill="#5a5a5a"/>
<ellipse cx="283.7" cy="347.3" rx="3.4" ry="2.9" fill="#5f7a5f"/>
<ellipse cx="284.0" cy="347.7" rx="3.1" ry="2.3" fill="url(#gGreen)"/>
<ellipse cx="304.9" cy="357.0" rx="1.4" ry="1.2" fill="#5a5a5a"/>
<ellipse cx="300.5" cy="354.2" rx="3.6" ry="3.1" fill="#5f7a5f"/>
<ellipse cx="300.8" cy="354.6" rx="3.3" ry="2.4" fill="url(#gGreen)"/>
<ellipse cx="324.1" cy="364.9" rx="1.5" ry="1.3" fill="#5a5a5a"/>
<ellipse cx="319.4" cy="361.9" rx="3.9" ry="3.3" fill="#5f7a5f"/>
<ellipse cx="319.7" cy="362.3" rx="3.5" ry="2.6" fill="url(#gGreen)"/>
<ellipse cx="245.8" cy="345.0" rx="1.2" ry="1.0" fill="#5a5a5a"/>
<ellipse cx="241.8" cy="342.5" rx="3.3" ry="2.8" fill="#5f7a5f"/>
<ellipse cx="242.1" cy="342.8" rx="2.9" ry="2.2" fill="url(#gGreen)"/>
<ellipse cx="259.8" cy="351.4" rx="1.3" ry="1.1" fill="#5a5a5a"/>
<ellipse cx="255.7" cy="348.8" rx="3.5" ry="2.9" fill="#5f7a5f"/>
<ellipse cx="256.0" cy="349.1" rx="3.1" ry="2.3" fill="url(#gGreen)"/>
<ellipse cx="275.5" cy="358.7" rx="1.4" ry="1.2" fill="#5a5a5a"/>
<ellipse cx="271.1" cy="355.8" rx="3.7" ry="3.1" fill="#5f7a5f"/>
<ellipse cx="271.4" cy="356.2" rx="3.3" ry="2.4" fill="url(#gGreen)"/>
<ellipse cx="293.2" cy="366.7" rx="1.5" ry="1.3" fill="#5a5a5a"/>
<ellipse cx="288.4" cy="363.7" rx="4.0" ry="3.4" fill="#5f7a5f"/>
<ellipse cx="288.8" cy="364.1" rx="3.5" ry="2.6" fill="url(#gGreen)"/>
<ellipse cx="313.1" cy="375.9" rx="1.6" ry="1.4" fill="#5a5a5a"/>
<ellipse cx="308.0" cy="372.6" rx="4.3" ry="3.6" fill="#5f7a5f"/>
<ellipse cx="308.4" cy="373.0" rx="3.8" ry="2.8" fill="url(#gGreen)"/>
<ellipse cx="231.3" cy="352.9" rx="1.3" ry="1.1" fill="#5a5a5a"/>
<ellipse cx="227.0" cy="350.2" rx="3.5" ry="3.0" fill="#5f7a5f"/>
<ellipse cx="227.3" cy="350.6" rx="3.1" ry="2.3" fill="url(#gGreen)"/>
<ellipse cx="245.5" cy="360.3" rx="1.4" ry="1.2" fill="#5a5a5a"/>
<ellipse cx="241.0" cy="357.4" rx="3.8" ry="3.2" fill="#5f7a5f"/>
<ellipse cx="241.3" cy="357.8" rx="3.4" ry="2.5" fill="url(#gGreen)"/>
<ellipse cx="261.5" cy="368.6" rx="1.5" ry="1.3" fill="#5a5a5a"/>
<ellipse cx="256.6" cy="365.5" rx="4.0" ry="3.4" fill="#5f7a5f"/>
<ellipse cx="257.0" cy="365.9" rx="3.6" ry="2.7" fill="url(#gGreen)"/>
<ellipse cx="279.6" cy="378.0" rx="1.6" ry="1.4" fill="#5a5a5a"/>
<ellipse cx="274.4" cy="374.6" rx="4.3" ry="3.7" fill="#5f7a5f"/>
<ellipse cx="274.7" cy="375.1" rx="3.9" ry="2.9" fill="url(#gGreen)"/>
<ellipse cx="300.3" cy="388.7" rx="1.8" ry="1.5" fill="#5a5a5a"/>
<ellipse cx="294.6" cy="385.1" rx="4.7" ry="4.0" fill="#5f7a5f"/>
<ellipse cx="295.0" cy="385.6" rx="4.2" ry="3.1" fill="url(#gGreen)"/>
<ellipse cx="214.7" cy="362.0" rx="1.4" ry="1.2" fill="#5a5a5a"/>
<ellipse cx="210.1" cy="359.0" rx="3.8" ry="3.2" fill="#5f7a5f"/>
<ellipse cx="210.4" cy="359.5" rx="3.4" ry="2.5" fill="url(#gGreen)"/>
<ellipse cx="228.9" cy="370.5" rx="1.5" ry="1.3" fill="#5a5a5a"/>
<ellipse cx="224.0" cy="367.3" rx="4.1" ry="3.5" fill="#5f7a5f"/>
<ellipse cx="224.4" cy="367.8" rx="3.6" ry="2.7" fill="url(#gGreen)"/>
<ellipse cx="245.1" cy="380.2" rx="1.6" ry="1.4" fill="#5a5a5a"/>
<ellipse cx="239.8" cy="376.8" rx="4.4" ry="3.7" fill="#5f7a5f"/>
<ellipse cx="240.2" cy="377.2" rx="3.9" ry="2.9" fill="url(#gGreen)"/>
<ellipse cx="263.6" cy="391.2" rx="1.8" ry="1.5" fill="#5a5a5a"/>
<ellipse cx="257.9" cy="387.5" rx="4.8" ry="4.0" fill="#5f7a5f"/>
<ellipse cx="258.3" cy="388.0" rx="4.2" ry="3.1" fill="url(#gGreen)"/>
<ellipse cx="285.0" cy="404.0" rx="1.9" ry="1.7" fill="#5a5a5a"/>
<ellipse cx="278.8" cy="400.0" rx="5.2" ry="4.4" fill="#5f7a5f"/>
<ellipse cx="279.2" cy="400.5" rx="4.6" ry="3.4" fill="url(#gGreen)"/>
</g>
<path d="M344.9,360.6 h7.5 v-3 l6.2,4.4 l-6.2,4.4 v-3 h-7.5 Z" fill="#555"/>
<path d="M264.5,312.2 A5.8,3 0 0 0 264.0,317.8 M268.5,317.9 A5.8,3 0 0 0 269.0,312.3" stroke="#8a8a8a" stroke-width="1.1" fill="none"/>
<path d="M263.5,310.7 l2.6,1.5 l-2.6,1.5 Z M269.5,319.4 l-2.6,-1.5 l2.6,-1.5 Z" fill="#8a8a8a"/>
<g>
<path d="M361.09999999999997,360.4 L448.9,415.3 L448.9,424.8 L361.59999999999997,367.4 Z" fill="#cecece"/>
<path d="M509.0,352.2 L448.9,415.3 L448.9,424.8 L508.7,358.0 Z" fill="#adadad"/>
<path d="M361.09999999999997,360.4 L430.7,325.9 L509.0,352.2 L448.9,415.3 Z" fill="#a8a8a8"/>
<ellipse cx="435.6" cy="331.8" rx="1.1" ry="0.9" fill="#5a5a5a"/>
<ellipse cx="432.2" cy="329.6" rx="2.8" ry="2.4" fill="#5f7a5f"/>
<ellipse cx="432.5" cy="329.9" rx="2.5" ry="1.9" fill="url(#gGreen)"/>
<ellipse cx="435.8" cy="331.6" rx="1.4" ry="1.2" fill="url(#gRed)"/>
<ellipse cx="449.2" cy="336.8" rx="1.1" ry="1.0" fill="#5a5a5a"/>
<ellipse cx="445.6" cy="334.5" rx="3.0" ry="2.5" fill="#5f7a5f"/>
<ellipse cx="445.9" cy="334.8" rx="2.7" ry="2.0" fill="url(#gGreen)"/>
<ellipse cx="449.4" cy="336.7" rx="1.5" ry="1.3" fill="url(#gRed)"/>
<ellipse cx="464.2" cy="342.4" rx="1.2" ry="1.0" fill="#5a5a5a"/>
<ellipse cx="460.4" cy="339.9" rx="3.2" ry="2.7" fill="#5f7a5f"/>
<ellipse cx="460.7" cy="340.3" rx="2.8" ry="2.1" fill="url(#gGreen)"/>
<ellipse cx="464.4" cy="342.3" rx="1.6" ry="1.3" fill="url(#gRed)"/>
<ellipse cx="480.8" cy="348.6" rx="1.3" ry="1.1" fill="#5a5a5a"/>
<ellipse cx="476.7" cy="346.0" rx="3.4" ry="2.9" fill="#5f7a5f"/>
<ellipse cx="477.0" cy="346.3" rx="3.0" ry="2.2" fill="url(#gGreen)"/>
<ellipse cx="481.0" cy="348.4" rx="1.7" ry="1.4" fill="url(#gRed)"/>
<ellipse cx="499.3" cy="355.5" rx="1.3" ry="1.2" fill="#5a5a5a"/>
<ellipse cx="494.9" cy="352.7" rx="3.6" ry="3.1" fill="#5f7a5f"/>
<ellipse cx="495.2" cy="353.0" rx="3.2" ry="2.4" fill="url(#gGreen)"/>
<ellipse cx="499.4" cy="355.3" rx="1.8" ry="1.5" fill="url(#gRed)"/>
<ellipse cx="424.3" cy="338.0" rx="1.1" ry="1.0" fill="#5a5a5a"/>
<ellipse cx="420.6" cy="335.6" rx="3.0" ry="2.6" fill="#5f7a5f"/>
<ellipse cx="420.9" cy="336.0" rx="2.7" ry="2.0" fill="url(#gGreen)"/>
<ellipse cx="424.4" cy="337.9" rx="1.5" ry="1.3" fill="url(#gRed)"/>
<ellipse cx="438.1" cy="343.7" rx="1.2" ry="1.0" fill="#5a5a5a"/>
<ellipse cx="434.2" cy="341.2" rx="3.2" ry="2.7" fill="#5f7a5f"/>
<ellipse cx="434.5" cy="341.5" rx="2.9" ry="2.1" fill="url(#gGreen)"/>
<ellipse cx="438.3" cy="343.5" rx="1.6" ry="1.3" fill="url(#gRed)"/>
<ellipse cx="453.5" cy="350.0" rx="1.3" ry="1.1" fill="#5a5a5a"/>
<ellipse cx="449.4" cy="347.3" rx="3.4" ry="2.9" fill="#5f7a5f"/>
<ellipse cx="449.7" cy="347.7" rx="3.1" ry="2.3" fill="url(#gGreen)"/>
<ellipse cx="453.6" cy="349.8" rx="1.7" ry="1.4" fill="url(#gRed)"/>
<ellipse cx="470.6" cy="357.0" rx="1.4" ry="1.2" fill="#5a5a5a"/>
<ellipse cx="466.2" cy="354.2" rx="3.6" ry="3.1" fill="#5f7a5f"/>
<ellipse cx="466.5" cy="354.6" rx="3.3" ry="2.4" fill="url(#gGreen)"/>
<ellipse cx="470.8" cy="356.9" rx="1.8" ry="1.5" fill="url(#gRed)"/>
<ellipse cx="489.8" cy="364.9" rx="1.5" ry="1.3" fill="#5a5a5a"/>
<ellipse cx="485.1" cy="361.9" rx="3.9" ry="3.3" fill="#5f7a5f"/>
<ellipse cx="485.4" cy="362.3" rx="3.5" ry="2.6" fill="url(#gGreen)"/>
<ellipse cx="490.0" cy="364.8" rx="2.0" ry="1.6" fill="url(#gRed)"/>
<ellipse cx="411.5" cy="345.0" rx="1.2" ry="1.0" fill="#5a5a5a"/>
<ellipse cx="407.5" cy="342.5" rx="3.3" ry="2.8" fill="#5f7a5f"/>
<ellipse cx="407.8" cy="342.8" rx="2.9" ry="2.2" fill="url(#gGreen)"/>
<ellipse cx="411.6" cy="344.8" rx="1.6" ry="1.4" fill="url(#gRed)"/>
<ellipse cx="425.5" cy="351.4" rx="1.3" ry="1.1" fill="#5a5a5a"/>
<ellipse cx="421.4" cy="348.8" rx="3.5" ry="2.9" fill="#5f7a5f"/>
<ellipse cx="421.7" cy="349.1" rx="3.1" ry="2.3" fill="url(#gGreen)"/>
<ellipse cx="425.7" cy="351.3" rx="1.7" ry="1.5" fill="url(#gRed)"/>
<ellipse cx="441.2" cy="358.7" rx="1.4" ry="1.2" fill="#5a5a5a"/>
<ellipse cx="436.8" cy="355.8" rx="3.7" ry="3.1" fill="#5f7a5f"/>
<ellipse cx="437.1" cy="356.2" rx="3.3" ry="2.4" fill="url(#gGreen)"/>
<ellipse cx="441.4" cy="358.5" rx="1.9" ry="1.6" fill="url(#gRed)"/>
<ellipse cx="458.9" cy="366.7" rx="1.5" ry="1.3" fill="#5a5a5a"/>
<ellipse cx="454.1" cy="363.7" rx="4.0" ry="3.4" fill="#5f7a5f"/>
<ellipse cx="454.5" cy="364.1" rx="3.5" ry="2.6" fill="url(#gGreen)"/>
<ellipse cx="459.0" cy="366.6" rx="2.0" ry="1.7" fill="url(#gRed)"/>
<ellipse cx="478.8" cy="375.9" rx="1.6" ry="1.4" fill="#5a5a5a"/>
<ellipse cx="473.7" cy="372.6" rx="4.3" ry="3.6" fill="#5f7a5f"/>
<ellipse cx="474.1" cy="373.0" rx="3.8" ry="2.8" fill="url(#gGreen)"/>
<ellipse cx="479.0" cy="375.7" rx="2.1" ry="1.8" fill="url(#gRed)"/>
<ellipse cx="397.0" cy="352.9" rx="1.3" ry="1.1" fill="#5a5a5a"/>
<ellipse cx="392.7" cy="350.2" rx="3.5" ry="3.0" fill="#5f7a5f"/>
<ellipse cx="393.0" cy="350.6" rx="3.1" ry="2.3" fill="url(#gGreen)"/>
<ellipse cx="397.1" cy="352.8" rx="1.8" ry="1.5" fill="url(#gRed)"/>
<ellipse cx="411.2" cy="360.3" rx="1.4" ry="1.2" fill="#5a5a5a"/>
<ellipse cx="406.7" cy="357.4" rx="3.8" ry="3.2" fill="#5f7a5f"/>
<ellipse cx="407.0" cy="357.8" rx="3.4" ry="2.5" fill="url(#gGreen)"/>
<ellipse cx="411.3" cy="360.1" rx="1.9" ry="1.6" fill="url(#gRed)"/>
<ellipse cx="427.2" cy="368.6" rx="1.5" ry="1.3" fill="#5a5a5a"/>
<ellipse cx="422.3" cy="365.5" rx="4.0" ry="3.4" fill="#5f7a5f"/>
<ellipse cx="422.7" cy="365.9" rx="3.6" ry="2.7" fill="url(#gGreen)"/>
<ellipse cx="427.3" cy="368.4" rx="2.0" ry="1.7" fill="url(#gRed)"/>
<ellipse cx="445.3" cy="378.0" rx="1.6" ry="1.4" fill="#5a5a5a"/>
<ellipse cx="440.1" cy="374.6" rx="4.3" ry="3.7" fill="#5f7a5f"/>
<ellipse cx="440.4" cy="375.1" rx="3.9" ry="2.9" fill="url(#gGreen)"/>
<ellipse cx="445.5" cy="377.8" rx="2.2" ry="1.8" fill="url(#gRed)"/>
<ellipse cx="466.0" cy="388.7" rx="1.8" ry="1.5" fill="#5a5a5a"/>
<ellipse cx="460.3" cy="385.1" rx="4.7" ry="4.0" fill="#5f7a5f"/>
<ellipse cx="460.7" cy="385.6" rx="4.2" ry="3.1" fill="url(#gGreen)"/>
<ellipse cx="466.2" cy="388.5" rx="2.3" ry="2.0" fill="url(#gRed)"/>
<ellipse cx="380.4" cy="362.0" rx="1.4" ry="1.2" fill="#5a5a5a"/>
<ellipse cx="375.8" cy="359.0" rx="3.8" ry="3.2" fill="#5f7a5f"/>
<ellipse cx="376.1" cy="359.5" rx="3.4" ry="2.5" fill="url(#gGreen)"/>
<ellipse cx="380.6" cy="361.8" rx="1.9" ry="1.6" fill="url(#gRed)"/>
<ellipse cx="394.6" cy="370.5" rx="1.5" ry="1.3" fill="#5a5a5a"/>
<ellipse cx="389.7" cy="367.3" rx="4.1" ry="3.5" fill="#5f7a5f"/>
<ellipse cx="390.1" cy="367.8" rx="3.6" ry="2.7" fill="url(#gGreen)"/>
<ellipse cx="394.8" cy="370.3" rx="2.0" ry="1.7" fill="url(#gRed)"/>
<ellipse cx="410.8" cy="380.2" rx="1.6" ry="1.4" fill="#5a5a5a"/>
<ellipse cx="405.5" cy="376.8" rx="4.4" ry="3.7" fill="#5f7a5f"/>
<ellipse cx="405.9" cy="377.2" rx="3.9" ry="2.9" fill="url(#gGreen)"/>
<ellipse cx="411.0" cy="380.0" rx="2.2" ry="1.8" fill="url(#gRed)"/>
<ellipse cx="429.3" cy="391.2" rx="1.8" ry="1.5" fill="#5a5a5a"/>
<ellipse cx="423.6" cy="387.5" rx="4.8" ry="4.0" fill="#5f7a5f"/>
<ellipse cx="424.0" cy="388.0" rx="4.2" ry="3.1" fill="url(#gGreen)"/>
<ellipse cx="429.5" cy="391.0" rx="2.4" ry="2.0" fill="url(#gRed)"/>
<ellipse cx="450.7" cy="404.0" rx="1.9" ry="1.7" fill="#5a5a5a"/>
<ellipse cx="444.5" cy="400.0" rx="5.2" ry="4.4" fill="#5f7a5f"/>
<ellipse cx="444.9" cy="400.5" rx="4.6" ry="3.4" fill="url(#gGreen)"/>
<ellipse cx="450.9" cy="403.8" rx="2.6" ry="2.2" fill="url(#gRed)"/>
<circle cx="431.2" cy="327.3" r="2.0" fill="url(#gRed)"/>
<circle cx="424.6" cy="332.1" r="2.1" fill="url(#gRed)"/>
<circle cx="432.8" cy="333.0" r="2.1" fill="url(#gRed)"/>
<circle cx="437.8" cy="335.8" r="2.2" fill="url(#gRed)"/>
<circle cx="457.1" cy="337.5" r="2.2" fill="url(#gRed)"/>
<circle cx="422.6" cy="338.0" r="2.2" fill="url(#gRed)"/>
<circle cx="443.4" cy="338.5" r="2.2" fill="url(#gRed)"/>
<circle cx="429.9" cy="340.4" r="2.3" fill="url(#gRed)"/>
<circle cx="438.1" cy="342.1" r="2.3" fill="url(#gRed)"/>
<circle cx="404.5" cy="342.7" r="2.3" fill="url(#gRed)"/>
<circle cx="412.3" cy="343.3" r="2.3" fill="url(#gRed)"/>
<circle cx="469.7" cy="343.5" r="2.3" fill="url(#gRed)"/>
<circle cx="446.8" cy="343.5" r="2.3" fill="url(#gRed)"/>
<circle cx="463.8" cy="345.3" r="2.3" fill="url(#gRed)"/>
<circle cx="482.9" cy="345.5" r="2.3" fill="url(#gRed)"/>
<circle cx="393.2" cy="347.3" r="2.4" fill="url(#gRed)"/>
<circle cx="452.6" cy="347.4" r="2.4" fill="url(#gRed)"/>
<circle cx="408.5" cy="348.9" r="2.4" fill="url(#gRed)"/>
<circle cx="418.1" cy="349.3" r="2.4" fill="url(#gRed)"/>
<circle cx="425.4" cy="349.9" r="2.4" fill="url(#gRed)"/>
<circle cx="436.2" cy="349.9" r="2.4" fill="url(#gRed)"/>
<circle cx="470.5" cy="349.9" r="2.4" fill="url(#gRed)"/>
<circle cx="444.6" cy="351.3" r="2.4" fill="url(#gRed)"/>
<circle cx="385.8" cy="352.7" r="2.5" fill="url(#gRed)"/>
<circle cx="399.4" cy="353.4" r="2.5" fill="url(#gRed)"/>
<circle cx="480.2" cy="354.2" r="2.5" fill="url(#gRed)"/>
<circle cx="412.6" cy="355.4" r="2.5" fill="url(#gRed)"/>
<circle cx="425.7" cy="356.5" r="2.5" fill="url(#gRed)"/>
<circle cx="434.7" cy="356.8" r="2.5" fill="url(#gRed)"/>
<circle cx="378.3" cy="357.1" r="2.5" fill="url(#gRed)"/>
<circle cx="390.3" cy="358.0" r="2.6" fill="url(#gRed)"/>
<circle cx="463.3" cy="358.0" r="2.6" fill="url(#gRed)"/>
<circle cx="457.6" cy="360.2" r="2.6" fill="url(#gRed)"/>
<circle cx="399.1" cy="361.6" r="2.6" fill="url(#gRed)"/>
<circle cx="411.1" cy="363.3" r="2.6" fill="url(#gRed)"/>
<circle cx="419.3" cy="364.6" r="2.7" fill="url(#gRed)"/>
<circle cx="433.9" cy="365.6" r="2.7" fill="url(#gRed)"/>
<circle cx="454.4" cy="366.6" r="2.7" fill="url(#gRed)"/>
<circle cx="414.3" cy="369.0" r="2.7" fill="url(#gRed)"/>
<circle cx="468.6" cy="369.1" r="2.7" fill="url(#gRed)"/>
<circle cx="423.0" cy="370.8" r="2.8" fill="url(#gRed)"/>
<circle cx="399.2" cy="371.3" r="2.8" fill="url(#gRed)"/>
<circle cx="460.8" cy="371.4" r="2.8" fill="url(#gRed)"/>
<circle cx="444.9" cy="373.8" r="2.8" fill="url(#gRed)"/>
<circle cx="434.8" cy="374.3" r="2.8" fill="url(#gRed)"/>
<circle cx="427.8" cy="375.8" r="2.9" fill="url(#gRed)"/>
<circle cx="409.2" cy="377.0" r="2.9" fill="url(#gRed)"/>
<circle cx="436.5" cy="382.1" r="3.0" fill="url(#gRed)"/>
</g>
<path d="M510.6,360.6 h7.5 v-3 l6.2,4.4 l-6.2,4.4 v-3 h-7.5 Z" fill="#555"/>
<path d="M432.2,304.5 C434.2,309 439.2,313 439.2,318.5 A7,7 0 0 1 425.2,318.5 C425.2,313 430.2,309 432.2,304.5 Z" fill="#dbe9f7"/>
<circle cx="432.2" cy="313" r="1.7" fill="#e79a9a"/><path d="M428.2,318 h8 M432.2,314 v4" stroke="#e79a9a" stroke-width="2.2" stroke-linecap="round" fill="none"/>
<g>
<path d="M526.9,360.4 L614.7,415.3 L614.7,424.8 L527.4,367.4 Z" fill="#cecece"/>
<path d="M674.8,352.2 L614.7,415.3 L614.7,424.8 L674.5,358.0 Z" fill="#adadad"/>
<path d="M526.9,360.4 L596.5,325.9 L674.8,352.2 L614.7,415.3 Z" fill="#a8a8a8"/>
<ellipse cx="601.4" cy="331.8" rx="1.1" ry="0.9" fill="#5a5a5a"/>
<ellipse cx="598.0" cy="329.6" rx="2.8" ry="2.4" fill="#5f7a5f"/>
<ellipse cx="598.3" cy="329.9" rx="2.5" ry="1.9" fill="url(#gGreen)"/>
<ellipse cx="601.6" cy="331.6" rx="1.4" ry="1.2" fill="url(#gRed)"/>
<ellipse cx="615.0" cy="336.8" rx="1.1" ry="1.0" fill="#5a5a5a"/>
<ellipse cx="611.4" cy="334.5" rx="3.0" ry="2.5" fill="#5f7a5f"/>
<ellipse cx="611.7" cy="334.8" rx="2.7" ry="2.0" fill="url(#gGreen)"/>
<ellipse cx="615.2" cy="336.7" rx="1.5" ry="1.3" fill="url(#gRed)"/>
<ellipse cx="630.0" cy="342.4" rx="1.2" ry="1.0" fill="#5a5a5a"/>
<ellipse cx="626.2" cy="339.9" rx="3.2" ry="2.7" fill="#5f7a5f"/>
<ellipse cx="626.5" cy="340.3" rx="2.8" ry="2.1" fill="url(#gGreen)"/>
<ellipse cx="630.2" cy="342.3" rx="1.6" ry="1.3" fill="url(#gRed)"/>
<ellipse cx="646.6" cy="348.6" rx="1.3" ry="1.1" fill="#5a5a5a"/>
<ellipse cx="642.5" cy="346.0" rx="3.4" ry="2.9" fill="#5f7a5f"/>
<ellipse cx="642.8" cy="346.3" rx="3.0" ry="2.2" fill="url(#gGreen)"/>
<ellipse cx="646.8" cy="348.4" rx="1.7" ry="1.4" fill="url(#gRed)"/>
<ellipse cx="665.1" cy="355.5" rx="1.3" ry="1.2" fill="#5a5a5a"/>
<ellipse cx="660.7" cy="352.7" rx="3.6" ry="3.1" fill="#5f7a5f"/>
<ellipse cx="661.0" cy="353.0" rx="3.2" ry="2.4" fill="url(#gGreen)"/>
<ellipse cx="665.2" cy="355.3" rx="1.8" ry="1.5" fill="url(#gRed)"/>
<ellipse cx="590.1" cy="338.0" rx="1.1" ry="1.0" fill="#5a5a5a"/>
<ellipse cx="586.4" cy="335.6" rx="3.0" ry="2.6" fill="#5f7a5f"/>
<ellipse cx="586.7" cy="336.0" rx="2.7" ry="2.0" fill="url(#gGreen)"/>
<ellipse cx="590.2" cy="337.9" rx="1.5" ry="1.3" fill="url(#gRed)"/>
<ellipse cx="603.9" cy="343.7" rx="1.2" ry="1.0" fill="#5a5a5a"/>
<ellipse cx="600.0" cy="341.2" rx="3.2" ry="2.7" fill="#5f7a5f"/>
<ellipse cx="600.3" cy="341.5" rx="2.9" ry="2.1" fill="url(#gGreen)"/>
<ellipse cx="604.1" cy="343.5" rx="1.6" ry="1.3" fill="url(#gRed)"/>
<ellipse cx="619.3" cy="350.0" rx="1.3" ry="1.1" fill="#5a5a5a"/>
<ellipse cx="615.2" cy="347.3" rx="3.4" ry="2.9" fill="#5f7a5f"/>
<ellipse cx="615.5" cy="347.7" rx="3.1" ry="2.3" fill="url(#gGreen)"/>
<ellipse cx="619.4" cy="349.8" rx="1.7" ry="1.4" fill="url(#gRed)"/>
<ellipse cx="636.4" cy="357.0" rx="1.4" ry="1.2" fill="#5a5a5a"/>
<ellipse cx="632.0" cy="354.2" rx="3.6" ry="3.1" fill="#5f7a5f"/>
<ellipse cx="632.3" cy="354.6" rx="3.3" ry="2.4" fill="url(#gGreen)"/>
<ellipse cx="636.6" cy="356.9" rx="1.8" ry="1.5" fill="url(#gRed)"/>
<ellipse cx="655.6" cy="364.9" rx="1.5" ry="1.3" fill="#5a5a5a"/>
<ellipse cx="650.9" cy="361.9" rx="3.9" ry="3.3" fill="#5f7a5f"/>
<ellipse cx="651.2" cy="362.3" rx="3.5" ry="2.6" fill="url(#gGreen)"/>
<ellipse cx="655.8" cy="364.8" rx="2.0" ry="1.6" fill="url(#gRed)"/>
<ellipse cx="577.3" cy="345.0" rx="1.2" ry="1.0" fill="#5a5a5a"/>
<ellipse cx="573.3" cy="342.5" rx="3.3" ry="2.8" fill="#5f7a5f"/>
<ellipse cx="573.6" cy="342.8" rx="2.9" ry="2.2" fill="url(#gGreen)"/>
<ellipse cx="577.4" cy="344.8" rx="1.6" ry="1.4" fill="url(#gRed)"/>
<ellipse cx="591.3" cy="351.4" rx="1.3" ry="1.1" fill="#5a5a5a"/>
<ellipse cx="587.2" cy="348.8" rx="3.5" ry="2.9" fill="#5f7a5f"/>
<ellipse cx="587.5" cy="349.1" rx="3.1" ry="2.3" fill="url(#gGreen)"/>
<ellipse cx="591.5" cy="351.3" rx="1.7" ry="1.5" fill="url(#gRed)"/>
<ellipse cx="607.0" cy="358.7" rx="1.4" ry="1.2" fill="#5a5a5a"/>
<ellipse cx="602.6" cy="355.8" rx="3.7" ry="3.1" fill="#5f7a5f"/>
<ellipse cx="602.9" cy="356.2" rx="3.3" ry="2.4" fill="url(#gGreen)"/>
<ellipse cx="607.2" cy="358.5" rx="1.9" ry="1.6" fill="url(#gRed)"/>
<ellipse cx="624.7" cy="366.7" rx="1.5" ry="1.3" fill="#5a5a5a"/>
<ellipse cx="619.9" cy="363.7" rx="4.0" ry="3.4" fill="#5f7a5f"/>
<ellipse cx="620.3" cy="364.1" rx="3.5" ry="2.6" fill="url(#gGreen)"/>
<ellipse cx="624.8" cy="366.6" rx="2.0" ry="1.7" fill="url(#gRed)"/>
<ellipse cx="644.6" cy="375.9" rx="1.6" ry="1.4" fill="#5a5a5a"/>
<ellipse cx="639.5" cy="372.6" rx="4.3" ry="3.6" fill="#5f7a5f"/>
<ellipse cx="639.9" cy="373.0" rx="3.8" ry="2.8" fill="url(#gGreen)"/>
<ellipse cx="644.8" cy="375.7" rx="2.1" ry="1.8" fill="url(#gRed)"/>
<ellipse cx="562.8" cy="352.9" rx="1.3" ry="1.1" fill="#5a5a5a"/>
<ellipse cx="558.5" cy="350.2" rx="3.5" ry="3.0" fill="#5f7a5f"/>
<ellipse cx="558.8" cy="350.6" rx="3.1" ry="2.3" fill="url(#gGreen)"/>
<ellipse cx="562.9" cy="352.8" rx="1.8" ry="1.5" fill="url(#gRed)"/>
<ellipse cx="577.0" cy="360.3" rx="1.4" ry="1.2" fill="#5a5a5a"/>
<ellipse cx="572.5" cy="357.4" rx="3.8" ry="3.2" fill="#5f7a5f"/>
<ellipse cx="572.8" cy="357.8" rx="3.4" ry="2.5" fill="url(#gGreen)"/>
<ellipse cx="577.1" cy="360.1" rx="1.9" ry="1.6" fill="url(#gRed)"/>
<ellipse cx="593.0" cy="368.6" rx="1.5" ry="1.3" fill="#5a5a5a"/>
<ellipse cx="588.1" cy="365.5" rx="4.0" ry="3.4" fill="#5f7a5f"/>
<ellipse cx="588.5" cy="365.9" rx="3.6" ry="2.7" fill="url(#gGreen)"/>
<ellipse cx="593.1" cy="368.4" rx="2.0" ry="1.7" fill="url(#gRed)"/>
<ellipse cx="611.1" cy="378.0" rx="1.6" ry="1.4" fill="#5a5a5a"/>
<ellipse cx="605.9" cy="374.6" rx="4.3" ry="3.7" fill="#5f7a5f"/>
<ellipse cx="606.2" cy="375.1" rx="3.9" ry="2.9" fill="url(#gGreen)"/>
<ellipse cx="611.3" cy="377.8" rx="2.2" ry="1.8" fill="url(#gRed)"/>
<ellipse cx="631.8" cy="388.7" rx="1.8" ry="1.5" fill="#5a5a5a"/>
<ellipse cx="626.1" cy="385.1" rx="4.7" ry="4.0" fill="#5f7a5f"/>
<ellipse cx="626.5" cy="385.6" rx="4.2" ry="3.1" fill="url(#gGreen)"/>
<ellipse cx="632.0" cy="388.5" rx="2.3" ry="2.0" fill="url(#gRed)"/>
<ellipse cx="546.2" cy="362.0" rx="1.4" ry="1.2" fill="#5a5a5a"/>
<ellipse cx="541.6" cy="359.0" rx="3.8" ry="3.2" fill="#5f7a5f"/>
<ellipse cx="541.9" cy="359.5" rx="3.4" ry="2.5" fill="url(#gGreen)"/>
<ellipse cx="546.4" cy="361.8" rx="1.9" ry="1.6" fill="url(#gRed)"/>
<ellipse cx="560.4" cy="370.5" rx="1.5" ry="1.3" fill="#5a5a5a"/>
<ellipse cx="555.5" cy="367.3" rx="4.1" ry="3.5" fill="#5f7a5f"/>
<ellipse cx="555.9" cy="367.8" rx="3.6" ry="2.7" fill="url(#gGreen)"/>
<ellipse cx="560.6" cy="370.3" rx="2.0" ry="1.7" fill="url(#gRed)"/>
<ellipse cx="576.6" cy="380.2" rx="1.6" ry="1.4" fill="#5a5a5a"/>
<ellipse cx="571.3" cy="376.8" rx="4.4" ry="3.7" fill="#5f7a5f"/>
<ellipse cx="571.7" cy="377.2" rx="3.9" ry="2.9" fill="url(#gGreen)"/>
<ellipse cx="576.8" cy="380.0" rx="2.2" ry="1.8" fill="url(#gRed)"/>
<ellipse cx="595.1" cy="391.2" rx="1.8" ry="1.5" fill="#5a5a5a"/>
<ellipse cx="589.4" cy="387.5" rx="4.8" ry="4.0" fill="#5f7a5f"/>
<ellipse cx="589.8" cy="388.0" rx="4.2" ry="3.1" fill="url(#gGreen)"/>
<ellipse cx="595.3" cy="391.0" rx="2.4" ry="2.0" fill="url(#gRed)"/>
<ellipse cx="616.5" cy="404.0" rx="1.9" ry="1.7" fill="#5a5a5a"/>
<ellipse cx="610.3" cy="400.0" rx="5.2" ry="4.4" fill="#5f7a5f"/>
<ellipse cx="610.7" cy="400.5" rx="4.6" ry="3.4" fill="url(#gGreen)"/>
<ellipse cx="616.7" cy="403.8" rx="2.6" ry="2.2" fill="url(#gRed)"/>
</g>
<path d="M596.0,312.2 A5.8,3 0 0 0 595.5,317.8 M600.0,317.9 A5.8,3 0 0 0 600.5,312.3" stroke="#8a8a8a" stroke-width="1.1" fill="none"/>
<path d="M595.0,310.7 l2.6,1.5 l-2.6,1.5 Z M601.0,319.4 l-2.6,-1.5 l2.6,-1.5 Z" fill="#8a8a8a"/>
<rect x="25.9" y="443.4" width="110.9" height="97.20000000000005" fill="url(#lg1)"/>
<g clip-path="url(#cp2)">
<path d="M25.9,534.2 Q34.6,534.2 39.7,540.6 L25.9,540.6 Z" fill="#a8a8a8" filter="url(#blur08)"/>
<path d="M33.4,484.5 C34.1,480.3 35.1,476.0 38.3,471.8 C41.5,467.6 46.1,461.7 52.4,459.1 C58.8,456.6 70.0,456.3 76.4,456.3 C82.7,456.3 85.8,459.5 90.5,459.1 C95.2,458.8 99.9,454.9 104.6,454.2 C109.3,453.5 114.7,453.4 118.6,454.9 C122.6,456.4 126.2,460.1 128.5,463.4 C130.9,466.7 132.3,471.1 132.7,474.6 C133.2,478.2 132.7,481.6 131.3,484.5 C129.9,487.4 127.8,490.4 124.3,492.3 C120.8,494.1 113.7,494.5 110.2,495.8 C106.7,497.1 105.5,497.4 103.1,500.0 C100.8,502.6 98.9,508.0 96.1,511.3 C93.3,514.6 90.7,517.6 86.2,519.7 C81.8,521.9 75.0,524.2 69.3,524.2 C63.7,524.2 57.3,522.4 52.4,519.7 C47.5,517.1 42.8,512.2 39.7,508.5 C36.7,504.7 35.1,501.2 34.1,497.2 C33.0,493.2 32.7,488.7 33.4,484.5 Z" fill="none" stroke="url(#lg6)" stroke-width="4" filter="url(#blur12)"/>
<path d="M33.4,484.5 C34.1,480.3 35.1,476.0 38.3,471.8 C41.5,467.6 46.1,461.7 52.4,459.1 C58.8,456.6 70.0,456.3 76.4,456.3 C82.7,456.3 85.8,459.5 90.5,459.1 C95.2,458.8 99.9,454.9 104.6,454.2 C109.3,453.5 114.7,453.4 118.6,454.9 C122.6,456.4 126.2,460.1 128.5,463.4 C130.9,466.7 132.3,471.1 132.7,474.6 C133.2,478.2 132.7,481.6 131.3,484.5 C129.9,487.4 127.8,490.4 124.3,492.3 C120.8,494.1 113.7,494.5 110.2,495.8 C106.7,497.1 105.5,497.4 103.1,500.0 C100.8,502.6 98.9,508.0 96.1,511.3 C93.3,514.6 90.7,517.6 86.2,519.7 C81.8,521.9 75.0,524.2 69.3,524.2 C63.7,524.2 57.3,522.4 52.4,519.7 C47.5,517.1 42.8,512.2 39.7,508.5 C36.7,504.7 35.1,501.2 34.1,497.2 C33.0,493.2 32.7,488.7 33.4,484.5 Z" fill="none" stroke="url(#lg5)" stroke-width="2.5" transform="translate(0.4,0.5)"/>
<path d="M33.4,484.5 C34.1,480.3 35.1,476.0 38.3,471.8 C41.5,467.6 46.1,461.7 52.4,459.1 C58.8,456.6 70.0,456.3 76.4,456.3 C82.7,456.3 85.8,459.5 90.5,459.1 C95.2,458.8 99.9,454.9 104.6,454.2 C109.3,453.5 114.7,453.4 118.6,454.9 C122.6,456.4 126.2,460.1 128.5,463.4 C130.9,466.7 132.3,471.1 132.7,474.6 C133.2,478.2 132.7,481.6 131.3,484.5 C129.9,487.4 127.8,490.4 124.3,492.3 C120.8,494.1 113.7,494.5 110.2,495.8 C106.7,497.1 105.5,497.4 103.1,500.0 C100.8,502.6 98.9,508.0 96.1,511.3 C93.3,514.6 90.7,517.6 86.2,519.7 C81.8,521.9 75.0,524.2 69.3,524.2 C63.7,524.2 57.3,522.4 52.4,519.7 C47.5,517.1 42.8,512.2 39.7,508.5 C36.7,504.7 35.1,501.2 34.1,497.2 C33.0,493.2 32.7,488.7 33.4,484.5 Z" fill="url(#lg3)"/>
<path d="M33.4,484.5 C34.1,480.3 35.1,476.0 38.3,471.8 C41.5,467.6 46.1,461.7 52.4,459.1 C58.8,456.6 70.0,456.3 76.4,456.3 C82.7,456.3 85.8,459.5 90.5,459.1 C95.2,458.8 99.9,454.9 104.6,454.2 C109.3,453.5 114.7,453.4 118.6,454.9 C122.6,456.4 126.2,460.1 128.5,463.4 C130.9,466.7 132.3,471.1 132.7,474.6 C133.2,478.2 132.7,481.6 131.3,484.5 C129.9,487.4 127.8,490.4 124.3,492.3 C120.8,494.1 113.7,494.5 110.2,495.8 C106.7,497.1 105.5,497.4 103.1,500.0 C100.8,502.6 98.9,508.0 96.1,511.3 C93.3,514.6 90.7,517.6 86.2,519.7 C81.8,521.9 75.0,524.2 69.3,524.2 C63.7,524.2 57.3,522.4 52.4,519.7 C47.5,517.1 42.8,512.2 39.7,508.5 C36.7,504.7 35.1,501.2 34.1,497.2 C33.0,493.2 32.7,488.7 33.4,484.5 Z" fill="none" stroke="url(#lg8)" stroke-width="0.9"/>
<g clip-path="url(#cp7)">
<path d="M36.2,500.0 C36.7,496.2 40.6,490.5 44.0,487.3 C47.4,484.2 51.7,482.2 56.6,481.0 C61.6,479.8 68.4,479.9 73.6,480.3 C78.7,480.6 83.4,483.1 87.6,483.1 C91.9,483.1 95.6,481.5 98.9,480.3 C102.2,479.1 104.1,476.9 107.4,476.0 C110.7,475.2 115.2,474.6 118.6,475.3 C122.1,476.0 126.1,478.5 127.8,480.3 C129.5,482.0 129.5,484.1 128.8,485.9 C128.1,487.7 126.4,489.8 123.6,491.3 C120.7,492.7 115.0,493.4 111.6,494.7 C108.2,495.9 105.7,496.3 103.1,498.9 C100.6,501.5 99.1,506.7 96.1,510.2 C93.1,513.6 89.6,517.2 85.1,519.3 C80.6,521.5 74.6,523.1 69.3,523.1 C64.1,523.1 58.3,521.5 53.5,519.3 C48.8,517.1 43.7,513.1 40.9,509.9 C38.0,506.7 35.7,503.8 36.2,500.0 Z" fill="url(#lg4)"/>
</g>
<circle cx="60.2" cy="500.7" r="0.6" fill="#b5b5b5"/>
<circle cx="91.9" cy="505.4" r="0.6" fill="#b5b5b5"/>
<circle cx="125.7" cy="513.0" r="0.6" fill="#b5b5b5"/>
<circle cx="67.9" cy="537.8" r="0.6" fill="#b5b5b5"/>
<circle cx="109.5" cy="493.7" r="0.6" fill="#b5b5b5"/>
<circle cx="124.0" cy="478.9" r="0.6" fill="#b5b5b5"/>
</g>
<rect x="25.9" y="546.9" width="110.9" height="97.10000000000002" fill="url(#lg9)"/>
<g clip-path="url(#cp10)">
<path d="M30.6,598.4 C29.9,593.7 30.9,588.7 32.7,584.3 C34.4,579.8 37.4,575.1 41.1,571.6 C44.9,568.1 49.4,565.1 55.2,563.1 C61.1,561.1 70.5,559.7 76.4,559.6 C82.2,559.5 86.2,562.8 90.5,562.4 C94.7,562.1 97.5,558.1 101.7,557.5 C106.0,556.9 111.8,557.5 115.8,558.9 C119.8,560.3 123.5,562.9 125.7,566.0 C127.9,569.0 129.0,573.7 129.2,577.2 C129.5,580.8 128.9,584.2 127.1,587.1 C125.3,590.0 121.9,593.1 118.6,594.8 C115.4,596.6 110.4,596.4 107.4,597.7 C104.3,599.0 102.7,599.9 100.3,602.6 C98.0,605.3 96.3,610.5 93.3,613.9 C90.2,617.3 86.5,620.9 82.0,623.0 C77.5,625.1 71.9,626.7 66.5,626.6 C61.1,626.4 54.5,624.7 49.6,622.3 C44.7,620.0 40.1,616.5 36.9,612.5 C33.7,608.5 31.3,603.1 30.6,598.4 Z" fill="none" stroke="url(#lg15)" stroke-width="4" filter="url(#blur12)"/>
<path d="M30.6,598.4 C29.9,593.7 30.9,588.7 32.7,584.3 C34.4,579.8 37.4,575.1 41.1,571.6 C44.9,568.1 49.4,565.1 55.2,563.1 C61.1,561.1 70.5,559.7 76.4,559.6 C82.2,559.5 86.2,562.8 90.5,562.4 C94.7,562.1 97.5,558.1 101.7,557.5 C106.0,556.9 111.8,557.5 115.8,558.9 C119.8,560.3 123.5,562.9 125.7,566.0 C127.9,569.0 129.0,573.7 129.2,577.2 C129.5,580.8 128.9,584.2 127.1,587.1 C125.3,590.0 121.9,593.1 118.6,594.8 C115.4,596.6 110.4,596.4 107.4,597.7 C104.3,599.0 102.7,599.9 100.3,602.6 C98.0,605.3 96.3,610.5 93.3,613.9 C90.2,617.3 86.5,620.9 82.0,623.0 C77.5,625.1 71.9,626.7 66.5,626.6 C61.1,626.4 54.5,624.7 49.6,622.3 C44.7,620.0 40.1,616.5 36.9,612.5 C33.7,608.5 31.3,603.1 30.6,598.4 Z" fill="none" stroke="url(#lg14)" stroke-width="2.5" transform="translate(0.4,0.5)"/>
<path d="M30.6,598.4 C29.9,593.7 30.9,588.7 32.7,584.3 C34.4,579.8 37.4,575.1 41.1,571.6 C44.9,568.1 49.4,565.1 55.2,563.1 C61.1,561.1 70.5,559.7 76.4,559.6 C82.2,559.5 86.2,562.8 90.5,562.4 C94.7,562.1 97.5,558.1 101.7,557.5 C106.0,556.9 111.8,557.5 115.8,558.9 C119.8,560.3 123.5,562.9 125.7,566.0 C127.9,569.0 129.0,573.7 129.2,577.2 C129.5,580.8 128.9,584.2 127.1,587.1 C125.3,590.0 121.9,593.1 118.6,594.8 C115.4,596.6 110.4,596.4 107.4,597.7 C104.3,599.0 102.7,599.9 100.3,602.6 C98.0,605.3 96.3,610.5 93.3,613.9 C90.2,617.3 86.5,620.9 82.0,623.0 C77.5,625.1 71.9,626.7 66.5,626.6 C61.1,626.4 54.5,624.7 49.6,622.3 C44.7,620.0 40.1,616.5 36.9,612.5 C33.7,608.5 31.3,603.1 30.6,598.4 Z" fill="url(#lg11)"/>
<path d="M30.6,598.4 C29.9,593.7 30.9,588.7 32.7,584.3 C34.4,579.8 37.4,575.1 41.1,571.6 C44.9,568.1 49.4,565.1 55.2,563.1 C61.1,561.1 70.5,559.7 76.4,559.6 C82.2,559.5 86.2,562.8 90.5,562.4 C94.7,562.1 97.5,558.1 101.7,557.5 C106.0,556.9 111.8,557.5 115.8,558.9 C119.8,560.3 123.5,562.9 125.7,566.0 C127.9,569.0 129.0,573.7 129.2,577.2 C129.5,580.8 128.9,584.2 127.1,587.1 C125.3,590.0 121.9,593.1 118.6,594.8 C115.4,596.6 110.4,596.4 107.4,597.7 C104.3,599.0 102.7,599.9 100.3,602.6 C98.0,605.3 96.3,610.5 93.3,613.9 C90.2,617.3 86.5,620.9 82.0,623.0 C77.5,625.1 71.9,626.7 66.5,626.6 C61.1,626.4 54.5,624.7 49.6,622.3 C44.7,620.0 40.1,616.5 36.9,612.5 C33.7,608.5 31.3,603.1 30.6,598.4 Z" fill="none" stroke="url(#lg17)" stroke-width="0.9"/>
<g clip-path="url(#cp16)">
<ellipse cx="110.2" cy="568.8" rx="21.1" ry="9.9" fill="#8d8d8d" filter="url(#blur2)"/>
<path d="M32.0,598.4 C31.4,594.3 32.6,590.3 34.1,587.1 C35.6,583.9 38.1,580.8 41.1,578.9 C44.2,577.0 48.2,576.1 52.4,575.8 C56.6,575.5 61.8,576.1 66.5,577.2 C71.2,578.4 76.1,581.8 80.6,582.9 C85.1,583.9 89.8,584.2 93.3,583.6 C96.8,583.0 98.7,580.4 101.7,579.3 C104.8,578.3 107.8,577.2 111.6,577.2 C115.4,577.2 121.7,577.9 124.3,579.3 C126.8,580.8 127.8,583.3 126.8,585.7 C125.9,588.1 121.9,591.8 118.6,593.6 C115.4,595.4 110.5,595.1 107.4,596.4 C104.2,597.7 102.1,598.6 99.6,601.3 C97.2,604.0 95.5,609.2 92.6,612.6 C89.6,616.0 86.4,619.6 82.0,621.8 C77.7,623.9 71.9,625.5 66.5,625.4 C61.1,625.3 54.4,623.5 49.6,621.2 C44.8,618.9 40.6,615.6 37.6,611.8 C34.7,608.0 32.6,602.5 32.0,598.4 Z" fill="url(#lg12)"/>
<circle cx="57.3" cy="601.2" r="25.5" fill="url(#rg13)"/>
</g>
<path d="M25.9,639.2 Q31.6,639.2 35.6,644 L25.9,644 Z" fill="#b0b0b0" filter="url(#blur08)"/>
</g>
<rect x="25.9" y="650.4" width="110.9" height="97.30000000000007" fill="url(#lg18)"/>
<g clip-path="url(#cp19)">
<path d="M29.9,704.2 C29.4,699.5 30.1,693.5 32.0,688.7 C33.9,683.9 36.8,679.1 41.1,675.3 C45.5,671.5 51.7,668.1 58.0,666.1 C64.4,664.1 73.6,663.3 79.2,663.3 C84.8,663.3 87.9,666.6 91.9,666.1 C95.9,665.7 98.7,661.2 103.1,660.5 C107.6,659.8 114.3,660.3 118.6,661.9 C123.0,663.6 126.8,666.8 129.2,670.4 C131.7,673.9 133.1,679.3 133.4,683.0 C133.8,686.8 132.9,690.1 131.3,692.9 C129.8,695.7 127.3,698.3 124.3,700.0 C121.2,701.6 116.3,701.6 113.0,702.8 C109.7,704.0 107.4,704.4 104.6,707.0 C101.7,709.6 99.6,714.8 96.1,718.3 C92.6,721.8 88.3,725.7 83.4,728.1 C78.5,730.6 72.4,733.1 66.5,733.1 C60.6,733.1 53.5,730.8 48.2,728.1 C42.9,725.4 37.9,720.9 34.8,716.9 C31.7,712.9 30.3,708.9 29.9,704.2 Z" fill="none" stroke="url(#lg24)" stroke-width="4" filter="url(#blur12)"/>
<path d="M29.9,704.2 C29.4,699.5 30.1,693.5 32.0,688.7 C33.9,683.9 36.8,679.1 41.1,675.3 C45.5,671.5 51.7,668.1 58.0,666.1 C64.4,664.1 73.6,663.3 79.2,663.3 C84.8,663.3 87.9,666.6 91.9,666.1 C95.9,665.7 98.7,661.2 103.1,660.5 C107.6,659.8 114.3,660.3 118.6,661.9 C123.0,663.6 126.8,666.8 129.2,670.4 C131.7,673.9 133.1,679.3 133.4,683.0 C133.8,686.8 132.9,690.1 131.3,692.9 C129.8,695.7 127.3,698.3 124.3,700.0 C121.2,701.6 116.3,701.6 113.0,702.8 C109.7,704.0 107.4,704.4 104.6,707.0 C101.7,709.6 99.6,714.8 96.1,718.3 C92.6,721.8 88.3,725.7 83.4,728.1 C78.5,730.6 72.4,733.1 66.5,733.1 C60.6,733.1 53.5,730.8 48.2,728.1 C42.9,725.4 37.9,720.9 34.8,716.9 C31.7,712.9 30.3,708.9 29.9,704.2 Z" fill="none" stroke="url(#lg23)" stroke-width="2.5" transform="translate(0.4,0.5)"/>
<path d="M29.9,704.2 C29.4,699.5 30.1,693.5 32.0,688.7 C33.9,683.9 36.8,679.1 41.1,675.3 C45.5,671.5 51.7,668.1 58.0,666.1 C64.4,664.1 73.6,663.3 79.2,663.3 C84.8,663.3 87.9,666.6 91.9,666.1 C95.9,665.7 98.7,661.2 103.1,660.5 C107.6,659.8 114.3,660.3 118.6,661.9 C123.0,663.6 126.8,666.8 129.2,670.4 C131.7,673.9 133.1,679.3 133.4,683.0 C133.8,686.8 132.9,690.1 131.3,692.9 C129.8,695.7 127.3,698.3 124.3,700.0 C121.2,701.6 116.3,701.6 113.0,702.8 C109.7,704.0 107.4,704.4 104.6,707.0 C101.7,709.6 99.6,714.8 96.1,718.3 C92.6,721.8 88.3,725.7 83.4,728.1 C78.5,730.6 72.4,733.1 66.5,733.1 C60.6,733.1 53.5,730.8 48.2,728.1 C42.9,725.4 37.9,720.9 34.8,716.9 C31.7,712.9 30.3,708.9 29.9,704.2 Z" fill="url(#lg20)"/>
<path d="M29.9,704.2 C29.4,699.5 30.1,693.5 32.0,688.7 C33.9,683.9 36.8,679.1 41.1,675.3 C45.5,671.5 51.7,668.1 58.0,666.1 C64.4,664.1 73.6,663.3 79.2,663.3 C84.8,663.3 87.9,666.6 91.9,666.1 C95.9,665.7 98.7,661.2 103.1,660.5 C107.6,659.8 114.3,660.3 118.6,661.9 C123.0,663.6 126.8,666.8 129.2,670.4 C131.7,673.9 133.1,679.3 133.4,683.0 C133.8,686.8 132.9,690.1 131.3,692.9 C129.8,695.7 127.3,698.3 124.3,700.0 C121.2,701.6 116.3,701.6 113.0,702.8 C109.7,704.0 107.4,704.4 104.6,707.0 C101.7,709.6 99.6,714.8 96.1,718.3 C92.6,721.8 88.3,725.7 83.4,728.1 C78.5,730.6 72.4,733.1 66.5,733.1 C60.6,733.1 53.5,730.8 48.2,728.1 C42.9,725.4 37.9,720.9 34.8,716.9 C31.7,712.9 30.3,708.9 29.9,704.2 Z" fill="none" stroke="url(#lg26)" stroke-width="0.9"/>
<g clip-path="url(#cp25)">
<path d="M31.3,704.2 C30.9,699.8 31.5,694.2 33.4,690.1 C35.3,686.0 38.2,682.0 42.5,679.5 C46.9,677.1 53.8,675.5 59.5,675.3 C65.1,675.1 71.9,676.6 76.4,678.1 C80.8,679.6 83.2,682.9 86.2,684.5 C89.3,686.0 92.3,688.2 94.7,687.3 C97.0,686.3 97.5,681.1 100.3,678.8 C103.1,676.6 107.6,674.4 111.6,673.9 C115.6,673.4 120.9,674.2 124.3,676.0 C127.7,677.8 131.0,681.6 132.0,684.5 C133.1,687.3 132.0,690.4 130.6,692.9 C129.2,695.4 126.6,697.8 123.6,699.3 C120.5,700.7 115.6,700.5 112.3,701.7 C109.0,702.8 106.7,703.4 103.9,706.0 C101.0,708.6 98.9,713.8 95.4,717.3 C91.9,720.8 87.8,724.8 83.0,727.2 C78.2,729.6 72.2,731.7 66.5,731.7 C60.8,731.6 54.0,729.6 48.9,727.0 C43.8,724.4 38.7,720.0 35.8,716.2 C32.8,712.4 31.7,708.5 31.3,704.2 Z" fill="#4a4a4a"/>
<circle cx="114.1" cy="690.8" r="18.2" fill="url(#rg22)"/>
<circle cx="58.8" cy="704.9" r="27.9" fill="url(#rg21)"/>
</g>
<circle cx="83.4" cy="665.2" r="1.3" fill="#e8e8e8"/>
</g>
<rect x="99.9" y="740.8" width="32.2" height="3.3" fill="#fff"/>
<rect x="19.4" y="431" width="29.5" height="41" fill="#f8f3f2"/>
<text x="20.3" y="457.2" font-size="21.5" font-family="Liberation Sans, Arial, sans-serif" font-weight="bold">(C)</text>
<rect x="145.4" y="443.4" width="110.9" height="97.20000000000005" fill="url(#lg27)"/>
<g clip-path="url(#cp28)">
<path d="M170.3,486.4 L172.4,486.1 L174.4,485.5 L176.4,484.6 L178.1,483.5 L179.7,482.2 L181.1,480.7 L182.1,479.3 L183.9,476.5 L184.9,475.2 L185.9,474.7 L187.4,474.4 L190.1,474.3 L191.4,474.6 L192.6,475.6 L195.6,479.1 L197.5,480.7 L198.9,481.4 L200.4,482.1 L201.9,482.6 L203.6,482.9 L205.6,482.9 L207.6,482.7 L209.6,482.2 L211.6,481.3 L213.1,480.4 L214.6,479.1 L218.1,474.9 L218.9,474.4 L219.9,474.2 L222.4,474.4 L224.1,474.9 L225.1,475.5 L228.6,478.5 L229.9,479.3 L231.4,479.9 L232.9,480.3 L234.4,480.4 L235.9,480.4 L237.4,480.1 L239.4,479.4 L241.1,478.3 L242.6,476.9 L243.9,475.2 L244.8,473.2 L245.3,471.2 L245.4,468.9 L245.0,466.9 L244.5,465.4 L243.9,464.1 L242.9,462.8 L241.8,461.7 L240.4,460.7 L239.1,459.9 L237.6,459.4 L236.1,459.1 L233.6,459.1 L231.4,459.5 L229.0,460.7 L225.6,463.2 L224.6,463.8 L222.9,464.3 L219.9,464.5 L218.9,464.2 L218.1,463.7 L214.6,459.5 L213.1,458.2 L211.6,457.3 L209.6,456.4 L207.6,455.8 L205.6,455.6 L203.6,455.7 L201.9,456.0 L200.4,456.5 L198.9,457.1 L197.4,458.0 L195.6,459.5 L192.6,462.9 L191.1,464.2 L189.9,464.4 L185.9,464.5 L184.9,464.3 L183.9,463.7 L182.6,462.5 L180.4,459.9 L179.1,458.7 L177.1,457.2 L175.1,456.2 L172.6,455.4 L170.1,455.0 L167.4,455.0 L164.9,455.4 L162.1,456.4 L159.6,457.9 L157.4,459.9 L155.6,462.2 L154.2,464.9 L153.4,467.7 L153.1,470.4 L153.3,473.4 L154.1,476.2 L155.4,478.9 L157.1,481.2 L159.4,483.3 L161.9,484.8 L164.6,485.9 L167.4,486.4 Z" fill="none" stroke="url(#lg32)" stroke-width="4" filter="url(#blur12)"/>
<path d="M170.3,486.4 L172.4,486.1 L174.4,485.5 L176.4,484.6 L178.1,483.5 L179.7,482.2 L181.1,480.7 L182.1,479.3 L183.9,476.5 L184.9,475.2 L185.9,474.7 L187.4,474.4 L190.1,474.3 L191.4,474.6 L192.6,475.6 L195.6,479.1 L197.5,480.7 L198.9,481.4 L200.4,482.1 L201.9,482.6 L203.6,482.9 L205.6,482.9 L207.6,482.7 L209.6,482.2 L211.6,481.3 L213.1,480.4 L214.6,479.1 L218.1,474.9 L218.9,474.4 L219.9,474.2 L222.4,474.4 L224.1,474.9 L225.1,475.5 L228.6,478.5 L229.9,479.3 L231.4,479.9 L232.9,480.3 L234.4,480.4 L235.9,480.4 L237.4,480.1 L239.4,479.4 L241.1,478.3 L242.6,476.9 L243.9,475.2 L244.8,473.2 L245.3,471.2 L245.4,468.9 L245.0,466.9 L244.5,465.4 L243.9,464.1 L242.9,462.8 L241.8,461.7 L240.4,460.7 L239.1,459.9 L237.6,459.4 L236.1,459.1 L233.6,459.1 L231.4,459.5 L229.0,460.7 L225.6,463.2 L224.6,463.8 L222.9,464.3 L219.9,464.5 L218.9,464.2 L218.1,463.7 L214.6,459.5 L213.1,458.2 L211.6,457.3 L209.6,456.4 L207.6,455.8 L205.6,455.6 L203.6,455.7 L201.9,456.0 L200.4,456.5 L198.9,457.1 L197.4,458.0 L195.6,459.5 L192.6,462.9 L191.1,464.2 L189.9,464.4 L185.9,464.5 L184.9,464.3 L183.9,463.7 L182.6,462.5 L180.4,459.9 L179.1,458.7 L177.1,457.2 L175.1,456.2 L172.6,455.4 L170.1,455.0 L167.4,455.0 L164.9,455.4 L162.1,456.4 L159.6,457.9 L157.4,459.9 L155.6,462.2 L154.2,464.9 L153.4,467.7 L153.1,470.4 L153.3,473.4 L154.1,476.2 L155.4,478.9 L157.1,481.2 L159.4,483.3 L161.9,484.8 L164.6,485.9 L167.4,486.4 Z" fill="none" stroke="url(#lg31)" stroke-width="1.7" transform="translate(0.4,0.5)"/>
<path d="M170.3,486.4 L172.4,486.1 L174.4,485.5 L176.4,484.6 L178.1,483.5 L179.7,482.2 L181.1,480.7 L182.1,479.3 L183.9,476.5 L184.9,475.2 L185.9,474.7 L187.4,474.4 L190.1,474.3 L191.4,474.6 L192.6,475.6 L195.6,479.1 L197.5,480.7 L198.9,481.4 L200.4,482.1 L201.9,482.6 L203.6,482.9 L205.6,482.9 L207.6,482.7 L209.6,482.2 L211.6,481.3 L213.1,480.4 L214.6,479.1 L218.1,474.9 L218.9,474.4 L219.9,474.2 L222.4,474.4 L224.1,474.9 L225.1,475.5 L228.6,478.5 L229.9,479.3 L231.4,479.9 L232.9,480.3 L234.4,480.4 L235.9,480.4 L237.4,480.1 L239.4,479.4 L241.1,478.3 L242.6,476.9 L243.9,475.2 L244.8,473.2 L245.3,471.2 L245.4,468.9 L245.0,466.9 L244.5,465.4 L243.9,464.1 L242.9,462.8 L241.8,461.7 L240.4,460.7 L239.1,459.9 L237.6,459.4 L236.1,459.1 L233.6,459.1 L231.4,459.5 L229.0,460.7 L225.6,463.2 L224.6,463.8 L222.9,464.3 L219.9,464.5 L218.9,464.2 L218.1,463.7 L214.6,459.5 L213.1,458.2 L211.6,457.3 L209.6,456.4 L207.6,455.8 L205.6,455.6 L203.6,455.7 L201.9,456.0 L200.4,456.5 L198.9,457.1 L197.4,458.0 L195.6,459.5 L192.6,462.9 L191.1,464.2 L189.9,464.4 L185.9,464.5 L184.9,464.3 L183.9,463.7 L182.6,462.5 L180.4,459.9 L179.1,458.7 L177.1,457.2 L175.1,456.2 L172.6,455.4 L170.1,455.0 L167.4,455.0 L164.9,455.4 L162.1,456.4 L159.6,457.9 L157.4,459.9 L155.6,462.2 L154.2,464.9 L153.4,467.7 L153.1,470.4 L153.3,473.4 L154.1,476.2 L155.4,478.9 L157.1,481.2 L159.4,483.3 L161.9,484.8 L164.6,485.9 L167.4,486.4 Z" fill="url(#lg29)"/>
<path d="M170.3,486.4 L172.4,486.1 L174.4,485.5 L176.4,484.6 L178.1,483.5 L179.7,482.2 L181.1,480.7 L182.1,479.3 L183.9,476.5 L184.9,475.2 L185.9,474.7 L187.4,474.4 L190.1,474.3 L191.4,474.6 L192.6,475.6 L195.6,479.1 L197.5,480.7 L198.9,481.4 L200.4,482.1 L201.9,482.6 L203.6,482.9 L205.6,482.9 L207.6,482.7 L209.6,482.2 L211.6,481.3 L213.1,480.4 L214.6,479.1 L218.1,474.9 L218.9,474.4 L219.9,474.2 L222.4,474.4 L224.1,474.9 L225.1,475.5 L228.6,478.5 L229.9,479.3 L231.4,479.9 L232.9,480.3 L234.4,480.4 L235.9,480.4 L237.4,480.1 L239.4,479.4 L241.1,478.3 L242.6,476.9 L243.9,475.2 L244.8,473.2 L245.3,471.2 L245.4,468.9 L245.0,466.9 L244.5,465.4 L243.9,464.1 L242.9,462.8 L241.8,461.7 L240.4,460.7 L239.1,459.9 L237.6,459.4 L236.1,459.1 L233.6,459.1 L231.4,459.5 L229.0,460.7 L225.6,463.2 L224.6,463.8 L222.9,464.3 L219.9,464.5 L218.9,464.2 L218.1,463.7 L214.6,459.5 L213.1,458.2 L211.6,457.3 L209.6,456.4 L207.6,455.8 L205.6,455.6 L203.6,455.7 L201.9,456.0 L200.4,456.5 L198.9,457.1 L197.4,458.0 L195.6,459.5 L192.6,462.9 L191.1,464.2 L189.9,464.4 L185.9,464.5 L184.9,464.3 L183.9,463.7 L182.6,462.5 L180.4,459.9 L179.1,458.7 L177.1,457.2 L175.1,456.2 L172.6,455.4 L170.1,455.0 L167.4,455.0 L164.9,455.4 L162.1,456.4 L159.6,457.9 L157.4,459.9 L155.6,462.2 L154.2,464.9 L153.4,467.7 L153.1,470.4 L153.3,473.4 L154.1,476.2 L155.4,478.9 L157.1,481.2 L159.4,483.3 L161.9,484.8 L164.6,485.9 L167.4,486.4 Z" fill="none" stroke="url(#lg34)" stroke-width="0.9"/>
<g clip-path="url(#cp33)">
<ellipse cx="205.5" cy="479.1" rx="9.9" ry="3.7" fill="#4e4e4e" filter="url(#blur08)"/>
<ellipse cx="234.7" cy="478.2" rx="7.0" ry="2.0" fill="#5c5c5c" filter="url(#blur08)"/>
<ellipse cx="167.5" cy="472.9" rx="15.8" ry="11.5" fill="#3a3a3a"/>
<ellipse cx="167.5" cy="474.4" rx="15.2" ry="11.0" fill="url(#rg30)"/>
</g>
<path d="M170.3,533.2 L172.4,532.9 L174.4,532.3 L176.4,531.4 L178.1,530.3 L179.7,528.9 L181.1,527.4 L182.1,526.1 L183.9,523.2 L184.9,522.0 L185.9,521.4 L187.4,521.2 L190.1,521.1 L191.4,521.4 L192.6,522.4 L195.6,525.9 L197.5,527.4 L198.9,528.2 L200.4,528.9 L201.9,529.3 L203.6,529.7 L205.6,529.7 L207.6,529.5 L209.6,529.0 L211.6,528.1 L213.1,527.2 L214.6,525.9 L218.1,521.7 L218.9,521.2 L219.9,521.0 L222.4,521.2 L224.1,521.7 L225.1,522.3 L228.6,525.3 L229.9,526.0 L231.4,526.7 L232.9,527.0 L234.4,527.2 L235.9,527.1 L237.4,526.9 L239.4,526.1 L241.1,525.1 L242.6,523.7 L243.9,521.9 L244.8,519.9 L245.3,517.9 L245.4,515.7 L245.0,513.7 L244.5,512.2 L243.9,510.9 L242.9,509.6 L241.8,508.4 L240.4,507.4 L239.1,506.7 L237.6,506.2 L236.1,505.9 L233.6,505.8 L231.4,506.3 L229.0,507.4 L225.6,510.0 L224.6,510.6 L222.9,511.1 L219.9,511.3 L218.9,511.0 L218.1,510.5 L214.6,506.2 L213.1,505.0 L211.6,504.0 L209.6,503.2 L207.6,502.6 L205.6,502.4 L203.6,502.5 L201.9,502.8 L200.4,503.3 L198.9,503.9 L197.4,504.8 L195.6,506.2 L192.6,509.7 L191.1,510.9 L189.9,511.2 L185.9,511.3 L184.9,511.1 L183.9,510.5 L182.6,509.3 L180.4,506.7 L179.1,505.5 L177.1,504.0 L175.1,503.0 L172.6,502.1 L170.1,501.7 L167.4,501.8 L164.9,502.2 L162.1,503.2 L159.6,504.7 L157.4,506.7 L155.6,508.9 L154.2,511.7 L153.4,514.4 L153.1,517.2 L153.3,520.2 L154.1,522.9 L155.4,525.7 L157.1,528.0 L159.4,530.1 L161.9,531.6 L164.6,532.7 L167.4,533.2 Z" fill="none" stroke="url(#lg38)" stroke-width="4" filter="url(#blur12)"/>
<path d="M170.3,533.2 L172.4,532.9 L174.4,532.3 L176.4,531.4 L178.1,530.3 L179.7,528.9 L181.1,527.4 L182.1,526.1 L183.9,523.2 L184.9,522.0 L185.9,521.4 L187.4,521.2 L190.1,521.1 L191.4,521.4 L192.6,522.4 L195.6,525.9 L197.5,527.4 L198.9,528.2 L200.4,528.9 L201.9,529.3 L203.6,529.7 L205.6,529.7 L207.6,529.5 L209.6,529.0 L211.6,528.1 L213.1,527.2 L214.6,525.9 L218.1,521.7 L218.9,521.2 L219.9,521.0 L222.4,521.2 L224.1,521.7 L225.1,522.3 L228.6,525.3 L229.9,526.0 L231.4,526.7 L232.9,527.0 L234.4,527.2 L235.9,527.1 L237.4,526.9 L239.4,526.1 L241.1,525.1 L242.6,523.7 L243.9,521.9 L244.8,519.9 L245.3,517.9 L245.4,515.7 L245.0,513.7 L244.5,512.2 L243.9,510.9 L242.9,509.6 L241.8,508.4 L240.4,507.4 L239.1,506.7 L237.6,506.2 L236.1,505.9 L233.6,505.8 L231.4,506.3 L229.0,507.4 L225.6,510.0 L224.6,510.6 L222.9,511.1 L219.9,511.3 L218.9,511.0 L218.1,510.5 L214.6,506.2 L213.1,505.0 L211.6,504.0 L209.6,503.2 L207.6,502.6 L205.6,502.4 L203.6,502.5 L201.9,502.8 L200.4,503.3 L198.9,503.9 L197.4,504.8 L195.6,506.2 L192.6,509.7 L191.1,510.9 L189.9,511.2 L185.9,511.3 L184.9,511.1 L183.9,510.5 L182.6,509.3 L180.4,506.7 L179.1,505.5 L177.1,504.0 L175.1,503.0 L172.6,502.1 L170.1,501.7 L167.4,501.8 L164.9,502.2 L162.1,503.2 L159.6,504.7 L157.4,506.7 L155.6,508.9 L154.2,511.7 L153.4,514.4 L153.1,517.2 L153.3,520.2 L154.1,522.9 L155.4,525.7 L157.1,528.0 L159.4,530.1 L161.9,531.6 L164.6,532.7 L167.4,533.2 Z" fill="none" stroke="url(#lg37)" stroke-width="1.7" transform="translate(0.4,0.5)"/>
<path d="M170.3,533.2 L172.4,532.9 L174.4,532.3 L176.4,531.4 L178.1,530.3 L179.7,528.9 L181.1,527.4 L182.1,526.1 L183.9,523.2 L184.9,522.0 L185.9,521.4 L187.4,521.2 L190.1,521.1 L191.4,521.4 L192.6,522.4 L195.6,525.9 L197.5,527.4 L198.9,528.2 L200.4,528.9 L201.9,529.3 L203.6,529.7 L205.6,529.7 L207.6,529.5 L209.6,529.0 L211.6,528.1 L213.1,527.2 L214.6,525.9 L218.1,521.7 L218.9,521.2 L219.9,521.0 L222.4,521.2 L224.1,521.7 L225.1,522.3 L228.6,525.3 L229.9,526.0 L231.4,526.7 L232.9,527.0 L234.4,527.2 L235.9,527.1 L237.4,526.9 L239.4,526.1 L241.1,525.1 L242.6,523.7 L243.9,521.9 L244.8,519.9 L245.3,517.9 L245.4,515.7 L245.0,513.7 L244.5,512.2 L243.9,510.9 L242.9,509.6 L241.8,508.4 L240.4,507.4 L239.1,506.7 L237.6,506.2 L236.1,505.9 L233.6,505.8 L231.4,506.3 L229.0,507.4 L225.6,510.0 L224.6,510.6 L222.9,511.1 L219.9,511.3 L218.9,511.0 L218.1,510.5 L214.6,506.2 L213.1,505.0 L211.6,504.0 L209.6,503.2 L207.6,502.6 L205.6,502.4 L203.6,502.5 L201.9,502.8 L200.4,503.3 L198.9,503.9 L197.4,504.8 L195.6,506.2 L192.6,509.7 L191.1,510.9 L189.9,511.2 L185.9,511.3 L184.9,511.1 L183.9,510.5 L182.6,509.3 L180.4,506.7 L179.1,505.5 L177.1,504.0 L175.1,503.0 L172.6,502.1 L170.1,501.7 L167.4,501.8 L164.9,502.2 L162.1,503.2 L159.6,504.7 L157.4,506.7 L155.6,508.9 L154.2,511.7 L153.4,514.4 L153.1,517.2 L153.3,520.2 L154.1,522.9 L155.4,525.7 L157.1,528.0 L159.4,530.1 L161.9,531.6 L164.6,532.7 L167.4,533.2 Z" fill="url(#lg35)"/>
<path d="M170.3,533.2 L172.4,532.9 L174.4,532.3 L176.4,531.4 L178.1,530.3 L179.7,528.9 L181.1,527.4 L182.1,526.1 L183.9,523.2 L184.9,522.0 L185.9,521.4 L187.4,521.2 L190.1,521.1 L191.4,521.4 L192.6,522.4 L195.6,525.9 L197.5,527.4 L198.9,528.2 L200.4,528.9 L201.9,529.3 L203.6,529.7 L205.6,529.7 L207.6,529.5 L209.6,529.0 L211.6,528.1 L213.1,527.2 L214.6,525.9 L218.1,521.7 L218.9,521.2 L219.9,521.0 L222.4,521.2 L224.1,521.7 L225.1,522.3 L228.6,525.3 L229.9,526.0 L231.4,526.7 L232.9,527.0 L234.4,527.2 L235.9,527.1 L237.4,526.9 L239.4,526.1 L241.1,525.1 L242.6,523.7 L243.9,521.9 L244.8,519.9 L245.3,517.9 L245.4,515.7 L245.0,513.7 L244.5,512.2 L243.9,510.9 L242.9,509.6 L241.8,508.4 L240.4,507.4 L239.1,506.7 L237.6,506.2 L236.1,505.9 L233.6,505.8 L231.4,506.3 L229.0,507.4 L225.6,510.0 L224.6,510.6 L222.9,511.1 L219.9,511.3 L218.9,511.0 L218.1,510.5 L214.6,506.2 L213.1,505.0 L211.6,504.0 L209.6,503.2 L207.6,502.6 L205.6,502.4 L203.6,502.5 L201.9,502.8 L200.4,503.3 L198.9,503.9 L197.4,504.8 L195.6,506.2 L192.6,509.7 L191.1,510.9 L189.9,511.2 L185.9,511.3 L184.9,511.1 L183.9,510.5 L182.6,509.3 L180.4,506.7 L179.1,505.5 L177.1,504.0 L175.1,503.0 L172.6,502.1 L170.1,501.7 L167.4,501.8 L164.9,502.2 L162.1,503.2 L159.6,504.7 L157.4,506.7 L155.6,508.9 L154.2,511.7 L153.4,514.4 L153.1,517.2 L153.3,520.2 L154.1,522.9 L155.4,525.7 L157.1,528.0 L159.4,530.1 L161.9,531.6 L164.6,532.7 L167.4,533.2 Z" fill="none" stroke="url(#lg40)" stroke-width="0.9"/>
<g clip-path="url(#cp39)">
<ellipse cx="205.5" cy="525.9" rx="9.9" ry="3.7" fill="#4e4e4e" filter="url(#blur08)"/>
<ellipse cx="234.7" cy="525.0" rx="7.0" ry="2.0" fill="#5c5c5c" filter="url(#blur08)"/>
<ellipse cx="167.5" cy="519.7" rx="15.8" ry="11.5" fill="#3a3a3a"/>
<ellipse cx="167.5" cy="521.1" rx="15.2" ry="11.0" fill="url(#rg36)"/>
</g>
</g>
<rect x="145.4" y="546.9" width="110.9" height="97.30000000000007" fill="url(#lg41)"/>
<g clip-path="url(#cp42)">
<path d="M171.0,590.4 L173.3,590.0 L175.6,589.3 L177.8,588.3 L179.8,587.1 L181.7,585.6 L183.3,584.0 L184.6,582.4 L186.6,579.4 L187.3,578.6 L188.6,577.8 L190.1,577.4 L191.6,577.5 L192.8,578.1 L193.6,578.9 L195.3,581.4 L196.3,582.6 L197.6,583.9 L199.1,584.9 L200.6,585.8 L202.0,586.4 L203.6,586.8 L205.1,587.1 L207.3,587.2 L209.3,587.0 L211.6,586.5 L213.6,585.6 L215.3,584.6 L217.1,583.1 L220.8,578.7 L221.8,578.1 L223.3,577.8 L225.6,577.8 L226.8,578.2 L227.6,578.7 L230.8,582.1 L232.3,583.1 L233.8,583.8 L235.3,584.2 L236.8,584.4 L238.6,584.4 L240.1,584.1 L242.1,583.4 L243.8,582.4 L245.5,580.9 L246.8,579.1 L247.7,577.1 L248.1,575.1 L248.2,573.1 L247.9,571.1 L246.9,568.6 L246.1,567.4 L245.3,566.4 L243.3,564.7 L242.1,564.0 L240.8,563.5 L239.6,563.2 L238.1,563.0 L236.6,563.0 L235.1,563.3 L233.6,563.7 L232.1,564.5 L228.3,567.4 L227.3,567.9 L225.8,568.1 L223.1,567.8 L221.8,567.5 L220.8,566.8 L217.4,562.6 L216.1,561.4 L214.8,560.5 L213.3,559.7 L211.8,559.1 L210.3,558.6 L208.6,558.3 L206.8,558.2 L205.1,558.3 L203.3,558.7 L201.8,559.1 L200.1,559.9 L198.3,561.0 L194.8,564.2 L193.8,565.0 L193.1,565.2 L192.3,565.3 L190.3,565.0 L188.8,564.6 L187.6,563.8 L186.3,562.5 L184.0,559.1 L182.4,557.4 L180.0,555.4 L177.3,553.8 L174.1,552.6 L170.8,552.0 L167.3,551.9 L164.1,552.5 L162.3,553.0 L160.6,553.7 L157.6,555.5 L154.8,557.9 L152.6,560.8 L151.0,563.9 L150.0,567.4 L149.6,570.9 L149.7,572.9 L149.9,574.6 L150.9,578.1 L152.5,581.4 L154.6,584.1 L155.8,585.4 L157.3,586.6 L160.3,588.5 L162.1,589.2 L163.8,589.8 L167.3,590.4 Z" fill="none" stroke="url(#lg48)" stroke-width="4" filter="url(#blur12)"/>
<path d="M171.0,590.4 L173.3,590.0 L175.6,589.3 L177.8,588.3 L179.8,587.1 L181.7,585.6 L183.3,584.0 L184.6,582.4 L186.6,579.4 L187.3,578.6 L188.6,577.8 L190.1,577.4 L191.6,577.5 L192.8,578.1 L193.6,578.9 L195.3,581.4 L196.3,582.6 L197.6,583.9 L199.1,584.9 L200.6,585.8 L202.0,586.4 L203.6,586.8 L205.1,587.1 L207.3,587.2 L209.3,587.0 L211.6,586.5 L213.6,585.6 L215.3,584.6 L217.1,583.1 L220.8,578.7 L221.8,578.1 L223.3,577.8 L225.6,577.8 L226.8,578.2 L227.6,578.7 L230.8,582.1 L232.3,583.1 L233.8,583.8 L235.3,584.2 L236.8,584.4 L238.6,584.4 L240.1,584.1 L242.1,583.4 L243.8,582.4 L245.5,580.9 L246.8,579.1 L247.7,577.1 L248.1,575.1 L248.2,573.1 L247.9,571.1 L246.9,568.6 L246.1,567.4 L245.3,566.4 L243.3,564.7 L242.1,564.0 L240.8,563.5 L239.6,563.2 L238.1,563.0 L236.6,563.0 L235.1,563.3 L233.6,563.7 L232.1,564.5 L228.3,567.4 L227.3,567.9 L225.8,568.1 L223.1,567.8 L221.8,567.5 L220.8,566.8 L217.4,562.6 L216.1,561.4 L214.8,560.5 L213.3,559.7 L211.8,559.1 L210.3,558.6 L208.6,558.3 L206.8,558.2 L205.1,558.3 L203.3,558.7 L201.8,559.1 L200.1,559.9 L198.3,561.0 L194.8,564.2 L193.8,565.0 L193.1,565.2 L192.3,565.3 L190.3,565.0 L188.8,564.6 L187.6,563.8 L186.3,562.5 L184.0,559.1 L182.4,557.4 L180.0,555.4 L177.3,553.8 L174.1,552.6 L170.8,552.0 L167.3,551.9 L164.1,552.5 L162.3,553.0 L160.6,553.7 L157.6,555.5 L154.8,557.9 L152.6,560.8 L151.0,563.9 L150.0,567.4 L149.6,570.9 L149.7,572.9 L149.9,574.6 L150.9,578.1 L152.5,581.4 L154.6,584.1 L155.8,585.4 L157.3,586.6 L160.3,588.5 L162.1,589.2 L163.8,589.8 L167.3,590.4 Z" fill="none" stroke="url(#lg47)" stroke-width="1.7" transform="translate(0.4,0.5)"/>
<path d="M171.0,590.4 L173.3,590.0 L175.6,589.3 L177.8,588.3 L179.8,587.1 L181.7,585.6 L183.3,584.0 L184.6,582.4 L186.6,579.4 L187.3,578.6 L188.6,577.8 L190.1,577.4 L191.6,577.5 L192.8,578.1 L193.6,578.9 L195.3,581.4 L196.3,582.6 L197.6,583.9 L199.1,584.9 L200.6,585.8 L202.0,586.4 L203.6,586.8 L205.1,587.1 L207.3,587.2 L209.3,587.0 L211.6,586.5 L213.6,585.6 L215.3,584.6 L217.1,583.1 L220.8,578.7 L221.8,578.1 L223.3,577.8 L225.6,577.8 L226.8,578.2 L227.6,578.7 L230.8,582.1 L232.3,583.1 L233.8,583.8 L235.3,584.2 L236.8,584.4 L238.6,584.4 L240.1,584.1 L242.1,583.4 L243.8,582.4 L245.5,580.9 L246.8,579.1 L247.7,577.1 L248.1,575.1 L248.2,573.1 L247.9,571.1 L246.9,568.6 L246.1,567.4 L245.3,566.4 L243.3,564.7 L242.1,564.0 L240.8,563.5 L239.6,563.2 L238.1,563.0 L236.6,563.0 L235.1,563.3 L233.6,563.7 L232.1,564.5 L228.3,567.4 L227.3,567.9 L225.8,568.1 L223.1,567.8 L221.8,567.5 L220.8,566.8 L217.4,562.6 L216.1,561.4 L214.8,560.5 L213.3,559.7 L211.8,559.1 L210.3,558.6 L208.6,558.3 L206.8,558.2 L205.1,558.3 L203.3,558.7 L201.8,559.1 L200.1,559.9 L198.3,561.0 L194.8,564.2 L193.8,565.0 L193.1,565.2 L192.3,565.3 L190.3,565.0 L188.8,564.6 L187.6,563.8 L186.3,562.5 L184.0,559.1 L182.4,557.4 L180.0,555.4 L177.3,553.8 L174.1,552.6 L170.8,552.0 L167.3,551.9 L164.1,552.5 L162.3,553.0 L160.6,553.7 L157.6,555.5 L154.8,557.9 L152.6,560.8 L151.0,563.9 L150.0,567.4 L149.6,570.9 L149.7,572.9 L149.9,574.6 L150.9,578.1 L152.5,581.4 L154.6,584.1 L155.8,585.4 L157.3,586.6 L160.3,588.5 L162.1,589.2 L163.8,589.8 L167.3,590.4 Z" fill="url(#lg43)"/>
<path d="M171.0,590.4 L173.3,590.0 L175.6,589.3 L177.8,588.3 L179.8,587.1 L181.7,585.6 L183.3,584.0 L184.6,582.4 L186.6,579.4 L187.3,578.6 L188.6,577.8 L190.1,577.4 L191.6,577.5 L192.8,578.1 L193.6,578.9 L195.3,581.4 L196.3,582.6 L197.6,583.9 L199.1,584.9 L200.6,585.8 L202.0,586.4 L203.6,586.8 L205.1,587.1 L207.3,587.2 L209.3,587.0 L211.6,586.5 L213.6,585.6 L215.3,584.6 L217.1,583.1 L220.8,578.7 L221.8,578.1 L223.3,577.8 L225.6,577.8 L226.8,578.2 L227.6,578.7 L230.8,582.1 L232.3,583.1 L233.8,583.8 L235.3,584.2 L236.8,584.4 L238.6,584.4 L240.1,584.1 L242.1,583.4 L243.8,582.4 L245.5,580.9 L246.8,579.1 L247.7,577.1 L248.1,575.1 L248.2,573.1 L247.9,571.1 L246.9,568.6 L246.1,567.4 L245.3,566.4 L243.3,564.7 L242.1,564.0 L240.8,563.5 L239.6,563.2 L238.1,563.0 L236.6,563.0 L235.1,563.3 L233.6,563.7 L232.1,564.5 L228.3,567.4 L227.3,567.9 L225.8,568.1 L223.1,567.8 L221.8,567.5 L220.8,566.8 L217.4,562.6 L216.1,561.4 L214.8,560.5 L213.3,559.7 L211.8,559.1 L210.3,558.6 L208.6,558.3 L206.8,558.2 L205.1,558.3 L203.3,558.7 L201.8,559.1 L200.1,559.9 L198.3,561.0 L194.8,564.2 L193.8,565.0 L193.1,565.2 L192.3,565.3 L190.3,565.0 L188.8,564.6 L187.6,563.8 L186.3,562.5 L184.0,559.1 L182.4,557.4 L180.0,555.4 L177.3,553.8 L174.1,552.6 L170.8,552.0 L167.3,551.9 L164.1,552.5 L162.3,553.0 L160.6,553.7 L157.6,555.5 L154.8,557.9 L152.6,560.8 L151.0,563.9 L150.0,567.4 L149.6,570.9 L149.7,572.9 L149.9,574.6 L150.9,578.1 L152.5,581.4 L154.6,584.1 L155.8,585.4 L157.3,586.6 L160.3,588.5 L162.1,589.2 L163.8,589.8 L167.3,590.4 Z" fill="none" stroke="url(#lg50)" stroke-width="0.9"/>
<g clip-path="url(#cp49)">
<ellipse cx="168.2" cy="575.1" rx="16.4" ry="14.0" fill="#3a3a3a"/>
<ellipse cx="168.2" cy="576.5" rx="15.8" ry="13.5" fill="url(#rg44)"/>
<ellipse cx="206.9" cy="577.9" rx="11.3" ry="9.0" fill="#3a3a3a"/>
<ellipse cx="206.9" cy="579.3" rx="10.7" ry="8.5" fill="url(#rg45)"/>
<ellipse cx="237.2" cy="575.1" rx="8.8" ry="7.5" fill="#3a3a3a"/>
<ellipse cx="237.2" cy="576.5" rx="8.2" ry="7.0" fill="url(#rg46)"/>
</g>
<path d="M167.9,641.2 L170.2,641.0 L172.4,640.4 L174.7,639.6 L176.7,638.6 L178.7,637.2 L180.6,635.4 L182.1,633.7 L184.2,630.8 L185.2,629.8 L186.7,629.1 L188.7,628.7 L190.2,628.9 L191.2,629.5 L194.2,633.7 L195.4,634.9 L196.7,635.9 L199.4,637.5 L202.4,638.3 L204.4,638.5 L206.7,638.4 L208.9,637.9 L210.9,637.1 L212.7,636.1 L214.4,634.8 L215.7,633.4 L217.4,631.2 L218.2,630.5 L218.9,630.0 L219.9,629.8 L222.2,630.0 L223.7,630.6 L224.7,631.4 L227.5,634.4 L228.9,635.5 L230.4,636.2 L231.9,636.7 L233.4,636.9 L235.2,637.0 L236.7,636.7 L238.7,636.1 L240.4,635.1 L242.1,633.7 L243.4,632.1 L244.4,630.2 L245.0,628.2 L245.1,625.9 L244.9,623.9 L244.0,621.4 L243.2,620.2 L242.4,619.2 L240.4,617.4 L239.2,616.7 L237.9,616.2 L236.4,615.8 L234.9,615.6 L233.4,615.6 L231.9,615.9 L230.4,616.3 L229.2,616.9 L225.7,619.5 L224.7,620.0 L222.9,620.4 L220.2,620.2 L219.2,619.9 L218.4,619.3 L215.5,615.2 L214.2,613.9 L213.0,612.9 L211.4,612.0 L209.9,611.3 L208.2,610.8 L206.4,610.4 L204.7,610.3 L202.9,610.5 L201.2,610.8 L199.4,611.4 L197.7,612.3 L195.9,613.5 L194.7,614.7 L192.4,617.2 L191.7,617.7 L190.4,618.1 L188.7,617.9 L186.9,617.3 L185.7,616.4 L184.7,615.1 L182.7,611.7 L181.1,609.7 L178.7,607.4 L176.0,605.7 L172.9,604.4 L169.7,603.6 L166.2,603.5 L162.9,603.9 L159.7,604.9 L156.7,606.6 L153.9,608.8 L151.6,611.4 L149.9,614.4 L148.8,617.7 L148.2,621.2 L148.3,624.7 L149.1,628.2 L150.5,631.4 L152.4,634.3 L154.9,636.8 L157.7,638.7 L160.9,640.2 L164.4,641.0 Z" fill="none" stroke="url(#lg56)" stroke-width="4" filter="url(#blur12)"/>
<path d="M167.9,641.2 L170.2,641.0 L172.4,640.4 L174.7,639.6 L176.7,638.6 L178.7,637.2 L180.6,635.4 L182.1,633.7 L184.2,630.8 L185.2,629.8 L186.7,629.1 L188.7,628.7 L190.2,628.9 L191.2,629.5 L194.2,633.7 L195.4,634.9 L196.7,635.9 L199.4,637.5 L202.4,638.3 L204.4,638.5 L206.7,638.4 L208.9,637.9 L210.9,637.1 L212.7,636.1 L214.4,634.8 L215.7,633.4 L217.4,631.2 L218.2,630.5 L218.9,630.0 L219.9,629.8 L222.2,630.0 L223.7,630.6 L224.7,631.4 L227.5,634.4 L228.9,635.5 L230.4,636.2 L231.9,636.7 L233.4,636.9 L235.2,637.0 L236.7,636.7 L238.7,636.1 L240.4,635.1 L242.1,633.7 L243.4,632.1 L244.4,630.2 L245.0,628.2 L245.1,625.9 L244.9,623.9 L244.0,621.4 L243.2,620.2 L242.4,619.2 L240.4,617.4 L239.2,616.7 L237.9,616.2 L236.4,615.8 L234.9,615.6 L233.4,615.6 L231.9,615.9 L230.4,616.3 L229.2,616.9 L225.7,619.5 L224.7,620.0 L222.9,620.4 L220.2,620.2 L219.2,619.9 L218.4,619.3 L215.5,615.2 L214.2,613.9 L213.0,612.9 L211.4,612.0 L209.9,611.3 L208.2,610.8 L206.4,610.4 L204.7,610.3 L202.9,610.5 L201.2,610.8 L199.4,611.4 L197.7,612.3 L195.9,613.5 L194.7,614.7 L192.4,617.2 L191.7,617.7 L190.4,618.1 L188.7,617.9 L186.9,617.3 L185.7,616.4 L184.7,615.1 L182.7,611.7 L181.1,609.7 L178.7,607.4 L176.0,605.7 L172.9,604.4 L169.7,603.6 L166.2,603.5 L162.9,603.9 L159.7,604.9 L156.7,606.6 L153.9,608.8 L151.6,611.4 L149.9,614.4 L148.8,617.7 L148.2,621.2 L148.3,624.7 L149.1,628.2 L150.5,631.4 L152.4,634.3 L154.9,636.8 L157.7,638.7 L160.9,640.2 L164.4,641.0 Z" fill="none" stroke="url(#lg55)" stroke-width="1.7" transform="translate(0.4,0.5)"/>
<path d="M167.9,641.2 L170.2,641.0 L172.4,640.4 L174.7,639.6 L176.7,638.6 L178.7,637.2 L180.6,635.4 L182.1,633.7 L184.2,630.8 L185.2,629.8 L186.7,629.1 L188.7,628.7 L190.2,628.9 L191.2,629.5 L194.2,633.7 L195.4,634.9 L196.7,635.9 L199.4,637.5 L202.4,638.3 L204.4,638.5 L206.7,638.4 L208.9,637.9 L210.9,637.1 L212.7,636.1 L214.4,634.8 L215.7,633.4 L217.4,631.2 L218.2,630.5 L218.9,630.0 L219.9,629.8 L222.2,630.0 L223.7,630.6 L224.7,631.4 L227.5,634.4 L228.9,635.5 L230.4,636.2 L231.9,636.7 L233.4,636.9 L235.2,637.0 L236.7,636.7 L238.7,636.1 L240.4,635.1 L242.1,633.7 L243.4,632.1 L244.4,630.2 L245.0,628.2 L245.1,625.9 L244.9,623.9 L244.0,621.4 L243.2,620.2 L242.4,619.2 L240.4,617.4 L239.2,616.7 L237.9,616.2 L236.4,615.8 L234.9,615.6 L233.4,615.6 L231.9,615.9 L230.4,616.3 L229.2,616.9 L225.7,619.5 L224.7,620.0 L222.9,620.4 L220.2,620.2 L219.2,619.9 L218.4,619.3 L215.5,615.2 L214.2,613.9 L213.0,612.9 L211.4,612.0 L209.9,611.3 L208.2,610.8 L206.4,610.4 L204.7,610.3 L202.9,610.5 L201.2,610.8 L199.4,611.4 L197.7,612.3 L195.9,613.5 L194.7,614.7 L192.4,617.2 L191.7,617.7 L190.4,618.1 L188.7,617.9 L186.9,617.3 L185.7,616.4 L184.7,615.1 L182.7,611.7 L181.1,609.7 L178.7,607.4 L176.0,605.7 L172.9,604.4 L169.7,603.6 L166.2,603.5 L162.9,603.9 L159.7,604.9 L156.7,606.6 L153.9,608.8 L151.6,611.4 L149.9,614.4 L148.8,617.7 L148.2,621.2 L148.3,624.7 L149.1,628.2 L150.5,631.4 L152.4,634.3 L154.9,636.8 L157.7,638.7 L160.9,640.2 L164.4,641.0 Z" fill="url(#lg51)"/>
<path d="M167.9,641.2 L170.2,641.0 L172.4,640.4 L174.7,639.6 L176.7,638.6 L178.7,637.2 L180.6,635.4 L182.1,633.7 L184.2,630.8 L185.2,629.8 L186.7,629.1 L188.7,628.7 L190.2,628.9 L191.2,629.5 L194.2,633.7 L195.4,634.9 L196.7,635.9 L199.4,637.5 L202.4,638.3 L204.4,638.5 L206.7,638.4 L208.9,637.9 L210.9,637.1 L212.7,636.1 L214.4,634.8 L215.7,633.4 L217.4,631.2 L218.2,630.5 L218.9,630.0 L219.9,629.8 L222.2,630.0 L223.7,630.6 L224.7,631.4 L227.5,634.4 L228.9,635.5 L230.4,636.2 L231.9,636.7 L233.4,636.9 L235.2,637.0 L236.7,636.7 L238.7,636.1 L240.4,635.1 L242.1,633.7 L243.4,632.1 L244.4,630.2 L245.0,628.2 L245.1,625.9 L244.9,623.9 L244.0,621.4 L243.2,620.2 L242.4,619.2 L240.4,617.4 L239.2,616.7 L237.9,616.2 L236.4,615.8 L234.9,615.6 L233.4,615.6 L231.9,615.9 L230.4,616.3 L229.2,616.9 L225.7,619.5 L224.7,620.0 L222.9,620.4 L220.2,620.2 L219.2,619.9 L218.4,619.3 L215.5,615.2 L214.2,613.9 L213.0,612.9 L211.4,612.0 L209.9,611.3 L208.2,610.8 L206.4,610.4 L204.7,610.3 L202.9,610.5 L201.2,610.8 L199.4,611.4 L197.7,612.3 L195.9,613.5 L194.7,614.7 L192.4,617.2 L191.7,617.7 L190.4,618.1 L188.7,617.9 L186.9,617.3 L185.7,616.4 L184.7,615.1 L182.7,611.7 L181.1,609.7 L178.7,607.4 L176.0,605.7 L172.9,604.4 L169.7,603.6 L166.2,603.5 L162.9,603.9 L159.7,604.9 L156.7,606.6 L153.9,608.8 L151.6,611.4 L149.9,614.4 L148.8,617.7 L148.2,621.2 L148.3,624.7 L149.1,628.2 L150.5,631.4 L152.4,634.3 L154.9,636.8 L157.7,638.7 L160.9,640.2 L164.4,641.0 Z" fill="none" stroke="url(#lg58)" stroke-width="0.9"/>
<g clip-path="url(#cp57)">
<ellipse cx="170.3" cy="626.8" rx="15.4" ry="13.5" fill="#3a3a3a"/>
<ellipse cx="170.3" cy="628.2" rx="14.8" ry="13.0" fill="url(#rg52)"/>
<ellipse cx="204.1" cy="626.1" rx="13.3" ry="11.5" fill="#3a3a3a"/>
<ellipse cx="204.1" cy="627.5" rx="12.7" ry="11.0" fill="url(#rg53)"/>
<ellipse cx="234.1" cy="626.1" rx="8.8" ry="7.5" fill="#3a3a3a"/>
<ellipse cx="234.1" cy="627.5" rx="8.2" ry="7.0" fill="url(#rg54)"/>
</g>
</g>
<rect x="145.4" y="650.4" width="110.9" height="97.30000000000007" fill="url(#lg41)"/>
<g clip-path="url(#cp59)">
<path d="M173.4,692.6 L175.7,692.2 L177.9,691.5 L179.9,690.7 L181.9,689.5 L183.7,688.1 L185.4,686.3 L186.7,684.6 L188.4,681.8 L189.2,680.9 L190.2,680.3 L191.7,679.9 L193.2,680.0 L194.4,680.7 L195.2,681.4 L197.7,684.9 L198.9,686.1 L200.3,687.1 L202.9,688.4 L204.4,688.9 L205.9,689.1 L208.2,689.2 L210.4,689.0 L212.4,688.4 L214.4,687.4 L216.2,686.2 L217.7,684.8 L218.8,683.3 L220.4,680.8 L221.2,679.9 L222.2,679.3 L223.2,679.1 L224.9,679.2 L225.7,679.4 L226.4,679.8 L227.2,680.4 L229.2,682.8 L230.2,683.7 L231.7,684.8 L233.2,685.5 L234.9,686.0 L236.7,686.3 L238.4,686.2 L240.2,685.9 L242.2,685.1 L243.9,684.0 L245.5,682.6 L246.8,680.8 L247.7,678.8 L248.1,676.8 L248.2,674.6 L247.9,672.6 L247.4,671.1 L246.7,669.7 L245.7,668.3 L244.7,667.2 L243.4,666.2 L242.2,665.5 L240.7,664.9 L239.2,664.5 L237.7,664.3 L236.2,664.4 L234.7,664.6 L233.4,665.0 L231.7,665.8 L228.2,668.3 L226.7,668.9 L225.4,669.1 L221.7,669.1 L220.7,668.9 L219.9,668.6 L215.9,665.0 L214.7,664.2 L213.2,663.4 L211.7,662.8 L209.9,662.4 L208.4,662.2 L206.7,662.2 L204.2,662.6 L201.7,663.6 L200.0,664.6 L197.2,666.7 L195.9,667.5 L194.9,667.8 L193.4,667.8 L190.4,667.3 L188.9,666.7 L187.7,665.6 L185.1,662.6 L183.3,660.8 L180.9,659.1 L178.4,657.9 L175.7,657.0 L172.7,656.6 L169.7,656.7 L166.9,657.2 L163.7,658.4 L160.9,660.1 L158.4,662.4 L156.4,665.0 L154.9,668.1 L154.0,671.3 L153.7,674.6 L154.0,677.8 L154.9,681.1 L156.4,684.1 L158.4,686.8 L160.9,689.1 L163.8,690.8 L166.9,692.0 L170.2,692.6 Z" fill="none" stroke="url(#lg64)" stroke-width="4" filter="url(#blur12)"/>
<path d="M173.4,692.6 L175.7,692.2 L177.9,691.5 L179.9,690.7 L181.9,689.5 L183.7,688.1 L185.4,686.3 L186.7,684.6 L188.4,681.8 L189.2,680.9 L190.2,680.3 L191.7,679.9 L193.2,680.0 L194.4,680.7 L195.2,681.4 L197.7,684.9 L198.9,686.1 L200.3,687.1 L202.9,688.4 L204.4,688.9 L205.9,689.1 L208.2,689.2 L210.4,689.0 L212.4,688.4 L214.4,687.4 L216.2,686.2 L217.7,684.8 L218.8,683.3 L220.4,680.8 L221.2,679.9 L222.2,679.3 L223.2,679.1 L224.9,679.2 L225.7,679.4 L226.4,679.8 L227.2,680.4 L229.2,682.8 L230.2,683.7 L231.7,684.8 L233.2,685.5 L234.9,686.0 L236.7,686.3 L238.4,686.2 L240.2,685.9 L242.2,685.1 L243.9,684.0 L245.5,682.6 L246.8,680.8 L247.7,678.8 L248.1,676.8 L248.2,674.6 L247.9,672.6 L247.4,671.1 L246.7,669.7 L245.7,668.3 L244.7,667.2 L243.4,666.2 L242.2,665.5 L240.7,664.9 L239.2,664.5 L237.7,664.3 L236.2,664.4 L234.7,664.6 L233.4,665.0 L231.7,665.8 L228.2,668.3 L226.7,668.9 L225.4,669.1 L221.7,669.1 L220.7,668.9 L219.9,668.6 L215.9,665.0 L214.7,664.2 L213.2,663.4 L211.7,662.8 L209.9,662.4 L208.4,662.2 L206.7,662.2 L204.2,662.6 L201.7,663.6 L200.0,664.6 L197.2,666.7 L195.9,667.5 L194.9,667.8 L193.4,667.8 L190.4,667.3 L188.9,666.7 L187.7,665.6 L185.1,662.6 L183.3,660.8 L180.9,659.1 L178.4,657.9 L175.7,657.0 L172.7,656.6 L169.7,656.7 L166.9,657.2 L163.7,658.4 L160.9,660.1 L158.4,662.4 L156.4,665.0 L154.9,668.1 L154.0,671.3 L153.7,674.6 L154.0,677.8 L154.9,681.1 L156.4,684.1 L158.4,686.8 L160.9,689.1 L163.8,690.8 L166.9,692.0 L170.2,692.6 Z" fill="none" stroke="url(#lg63)" stroke-width="1.7" transform="translate(0.4,0.5)"/>
<path d="M173.4,692.6 L175.7,692.2 L177.9,691.5 L179.9,690.7 L181.9,689.5 L183.7,688.1 L185.4,686.3 L186.7,684.6 L188.4,681.8 L189.2,680.9 L190.2,680.3 L191.7,679.9 L193.2,680.0 L194.4,680.7 L195.2,681.4 L197.7,684.9 L198.9,686.1 L200.3,687.1 L202.9,688.4 L204.4,688.9 L205.9,689.1 L208.2,689.2 L210.4,689.0 L212.4,688.4 L214.4,687.4 L216.2,686.2 L217.7,684.8 L218.8,683.3 L220.4,680.8 L221.2,679.9 L222.2,679.3 L223.2,679.1 L224.9,679.2 L225.7,679.4 L226.4,679.8 L227.2,680.4 L229.2,682.8 L230.2,683.7 L231.7,684.8 L233.2,685.5 L234.9,686.0 L236.7,686.3 L238.4,686.2 L240.2,685.9 L242.2,685.1 L243.9,684.0 L245.5,682.6 L246.8,680.8 L247.7,678.8 L248.1,676.8 L248.2,674.6 L247.9,672.6 L247.4,671.1 L246.7,669.7 L245.7,668.3 L244.7,667.2 L243.4,666.2 L242.2,665.5 L240.7,664.9 L239.2,664.5 L237.7,664.3 L236.2,664.4 L234.7,664.6 L233.4,665.0 L231.7,665.8 L228.2,668.3 L226.7,668.9 L225.4,669.1 L221.7,669.1 L220.7,668.9 L219.9,668.6 L215.9,665.0 L214.7,664.2 L213.2,663.4 L211.7,662.8 L209.9,662.4 L208.4,662.2 L206.7,662.2 L204.2,662.6 L201.7,663.6 L200.0,664.6 L197.2,666.7 L195.9,667.5 L194.9,667.8 L193.4,667.8 L190.4,667.3 L188.9,666.7 L187.7,665.6 L185.1,662.6 L183.3,660.8 L180.9,659.1 L178.4,657.9 L175.7,657.0 L172.7,656.6 L169.7,656.7 L166.9,657.2 L163.7,658.4 L160.9,660.1 L158.4,662.4 L156.4,665.0 L154.9,668.1 L154.0,671.3 L153.7,674.6 L154.0,677.8 L154.9,681.1 L156.4,684.1 L158.4,686.8 L160.9,689.1 L163.8,690.8 L166.9,692.0 L170.2,692.6 Z" fill="url(#lg60)"/>
<path d="M173.4,692.6 L175.7,692.2 L177.9,691.5 L179.9,690.7 L181.9,689.5 L183.7,688.1 L185.4,686.3 L186.7,684.6 L188.4,681.8 L189.2,680.9 L190.2,680.3 L191.7,679.9 L193.2,680.0 L194.4,680.7 L195.2,681.4 L197.7,684.9 L198.9,686.1 L200.3,687.1 L202.9,688.4 L204.4,688.9 L205.9,689.1 L208.2,689.2 L210.4,689.0 L212.4,688.4 L214.4,687.4 L216.2,686.2 L217.7,684.8 L218.8,683.3 L220.4,680.8 L221.2,679.9 L222.2,679.3 L223.2,679.1 L224.9,679.2 L225.7,679.4 L226.4,679.8 L227.2,680.4 L229.2,682.8 L230.2,683.7 L231.7,684.8 L233.2,685.5 L234.9,686.0 L236.7,686.3 L238.4,686.2 L240.2,685.9 L242.2,685.1 L243.9,684.0 L245.5,682.6 L246.8,680.8 L247.7,678.8 L248.1,676.8 L248.2,674.6 L247.9,672.6 L247.4,671.1 L246.7,669.7 L245.7,668.3 L244.7,667.2 L243.4,666.2 L242.2,665.5 L240.7,664.9 L239.2,664.5 L237.7,664.3 L236.2,664.4 L234.7,664.6 L233.4,665.0 L231.7,665.8 L228.2,668.3 L226.7,668.9 L225.4,669.1 L221.7,669.1 L220.7,668.9 L219.9,668.6 L215.9,665.0 L214.7,664.2 L213.2,663.4 L211.7,662.8 L209.9,662.4 L208.4,662.2 L206.7,662.2 L204.2,662.6 L201.7,663.6 L200.0,664.6 L197.2,666.7 L195.9,667.5 L194.9,667.8 L193.4,667.8 L190.4,667.3 L188.9,666.7 L187.7,665.6 L185.1,662.6 L183.3,660.8 L180.9,659.1 L178.4,657.9 L175.7,657.0 L172.7,656.6 L169.7,656.7 L166.9,657.2 L163.7,658.4 L160.9,660.1 L158.4,662.4 L156.4,665.0 L154.9,668.1 L154.0,671.3 L153.7,674.6 L154.0,677.8 L154.9,681.1 L156.4,684.1 L158.4,686.8 L160.9,689.1 L163.8,690.8 L166.9,692.0 L170.2,692.6 Z" fill="none" stroke="url(#lg66)" stroke-width="0.9"/>
<g clip-path="url(#cp65)">
<ellipse cx="237.9" cy="680.2" rx="6.8" ry="3.1" fill="#444" filter="url(#blur08)"/>
<ellipse cx="173.1" cy="677.1" rx="14.7" ry="13.2" fill="#3a3a3a"/>
<ellipse cx="173.1" cy="678.5" rx="14.1" ry="12.7" fill="url(#rg61)"/>
<ellipse cx="207.6" cy="679.1" rx="11.0" ry="8.7" fill="#3a3a3a"/>
<ellipse cx="207.6" cy="680.5" rx="10.4" ry="8.2" fill="url(#rg62)"/>
</g>
<path d="M173.4,742.6 L175.7,742.2 L177.9,741.6 L179.9,740.7 L181.9,739.5 L183.7,738.1 L185.4,736.3 L186.7,734.6 L188.4,731.8 L189.2,731.0 L190.2,730.3 L191.7,729.9 L193.2,730.0 L194.4,730.6 L195.2,731.4 L197.7,734.8 L199.1,736.1 L200.4,737.0 L203.1,738.3 L205.9,739.0 L208.2,739.1 L210.4,738.8 L212.4,738.3 L214.4,737.3 L216.2,736.1 L217.7,734.7 L218.7,733.4 L220.2,731.1 L220.9,730.1 L221.9,729.4 L223.2,729.1 L224.9,729.2 L226.4,729.8 L227.2,730.4 L229.2,732.8 L230.2,733.7 L231.7,734.8 L233.2,735.5 L234.9,736.1 L236.7,736.3 L238.4,736.3 L240.2,735.9 L242.2,735.2 L243.9,734.1 L245.5,732.6 L246.8,730.8 L247.7,728.8 L248.1,726.8 L248.2,724.6 L247.9,722.6 L247.4,721.1 L246.7,719.7 L245.7,718.3 L244.7,717.2 L243.4,716.2 L242.2,715.5 L240.7,714.9 L239.2,714.5 L237.7,714.3 L236.2,714.4 L234.7,714.6 L233.4,715.0 L231.4,716.0 L227.9,718.4 L226.7,719.0 L225.4,719.1 L221.7,719.1 L220.7,718.9 L219.9,718.5 L215.9,714.9 L213.4,713.4 L211.9,712.8 L210.2,712.3 L208.4,712.1 L206.7,712.1 L204.4,712.5 L202.4,713.1 L200.2,714.3 L197.2,716.7 L195.9,717.5 L194.9,717.8 L193.4,717.8 L190.4,717.3 L188.9,716.7 L187.7,715.6 L185.1,712.6 L183.3,710.8 L180.9,709.1 L178.4,707.9 L175.7,707.0 L172.7,706.6 L169.7,706.7 L166.9,707.2 L163.7,708.5 L160.9,710.2 L158.4,712.4 L156.4,715.0 L154.9,718.1 L154.0,721.3 L153.7,724.6 L154.0,727.8 L154.9,731.1 L156.4,734.1 L158.4,736.8 L160.9,739.1 L163.8,740.8 L166.9,742.0 L170.2,742.6 Z" fill="none" stroke="url(#lg71)" stroke-width="4" filter="url(#blur12)"/>
<path d="M173.4,742.6 L175.7,742.2 L177.9,741.6 L179.9,740.7 L181.9,739.5 L183.7,738.1 L185.4,736.3 L186.7,734.6 L188.4,731.8 L189.2,731.0 L190.2,730.3 L191.7,729.9 L193.2,730.0 L194.4,730.6 L195.2,731.4 L197.7,734.8 L199.1,736.1 L200.4,737.0 L203.1,738.3 L205.9,739.0 L208.2,739.1 L210.4,738.8 L212.4,738.3 L214.4,737.3 L216.2,736.1 L217.7,734.7 L218.7,733.4 L220.2,731.1 L220.9,730.1 L221.9,729.4 L223.2,729.1 L224.9,729.2 L226.4,729.8 L227.2,730.4 L229.2,732.8 L230.2,733.7 L231.7,734.8 L233.2,735.5 L234.9,736.1 L236.7,736.3 L238.4,736.3 L240.2,735.9 L242.2,735.2 L243.9,734.1 L245.5,732.6 L246.8,730.8 L247.7,728.8 L248.1,726.8 L248.2,724.6 L247.9,722.6 L247.4,721.1 L246.7,719.7 L245.7,718.3 L244.7,717.2 L243.4,716.2 L242.2,715.5 L240.7,714.9 L239.2,714.5 L237.7,714.3 L236.2,714.4 L234.7,714.6 L233.4,715.0 L231.4,716.0 L227.9,718.4 L226.7,719.0 L225.4,719.1 L221.7,719.1 L220.7,718.9 L219.9,718.5 L215.9,714.9 L213.4,713.4 L211.9,712.8 L210.2,712.3 L208.4,712.1 L206.7,712.1 L204.4,712.5 L202.4,713.1 L200.2,714.3 L197.2,716.7 L195.9,717.5 L194.9,717.8 L193.4,717.8 L190.4,717.3 L188.9,716.7 L187.7,715.6 L185.1,712.6 L183.3,710.8 L180.9,709.1 L178.4,707.9 L175.7,707.0 L172.7,706.6 L169.7,706.7 L166.9,707.2 L163.7,708.5 L160.9,710.2 L158.4,712.4 L156.4,715.0 L154.9,718.1 L154.0,721.3 L153.7,724.6 L154.0,727.8 L154.9,731.1 L156.4,734.1 L158.4,736.8 L160.9,739.1 L163.8,740.8 L166.9,742.0 L170.2,742.6 Z" fill="none" stroke="url(#lg70)" stroke-width="1.7" transform="translate(0.4,0.5)"/>
<path d="M173.4,742.6 L175.7,742.2 L177.9,741.6 L179.9,740.7 L181.9,739.5 L183.7,738.1 L185.4,736.3 L186.7,734.6 L188.4,731.8 L189.2,731.0 L190.2,730.3 L191.7,729.9 L193.2,730.0 L194.4,730.6 L195.2,731.4 L197.7,734.8 L199.1,736.1 L200.4,737.0 L203.1,738.3 L205.9,739.0 L208.2,739.1 L210.4,738.8 L212.4,738.3 L214.4,737.3 L216.2,736.1 L217.7,734.7 L218.7,733.4 L220.2,731.1 L220.9,730.1 L221.9,729.4 L223.2,729.1 L224.9,729.2 L226.4,729.8 L227.2,730.4 L229.2,732.8 L230.2,733.7 L231.7,734.8 L233.2,735.5 L234.9,736.1 L236.7,736.3 L238.4,736.3 L240.2,735.9 L242.2,735.2 L243.9,734.1 L245.5,732.6 L246.8,730.8 L247.7,728.8 L248.1,726.8 L248.2,724.6 L247.9,722.6 L247.4,721.1 L246.7,719.7 L245.7,718.3 L244.7,717.2 L243.4,716.2 L242.2,715.5 L240.7,714.9 L239.2,714.5 L237.7,714.3 L236.2,714.4 L234.7,714.6 L233.4,715.0 L231.4,716.0 L227.9,718.4 L226.7,719.0 L225.4,719.1 L221.7,719.1 L220.7,718.9 L219.9,718.5 L215.9,714.9 L213.4,713.4 L211.9,712.8 L210.2,712.3 L208.4,712.1 L206.7,712.1 L204.4,712.5 L202.4,713.1 L200.2,714.3 L197.2,716.7 L195.9,717.5 L194.9,717.8 L193.4,717.8 L190.4,717.3 L188.9,716.7 L187.7,715.6 L185.1,712.6 L183.3,710.8 L180.9,709.1 L178.4,707.9 L175.7,707.0 L172.7,706.6 L169.7,706.7 L166.9,707.2 L163.7,708.5 L160.9,710.2 L158.4,712.4 L156.4,715.0 L154.9,718.1 L154.0,721.3 L153.7,724.6 L154.0,727.8 L154.9,731.1 L156.4,734.1 L158.4,736.8 L160.9,739.1 L163.8,740.8 L166.9,742.0 L170.2,742.6 Z" fill="url(#lg67)"/>
<path d="M173.4,742.6 L175.7,742.2 L177.9,741.6 L179.9,740.7 L181.9,739.5 L183.7,738.1 L185.4,736.3 L186.7,734.6 L188.4,731.8 L189.2,731.0 L190.2,730.3 L191.7,729.9 L193.2,730.0 L194.4,730.6 L195.2,731.4 L197.7,734.8 L199.1,736.1 L200.4,737.0 L203.1,738.3 L205.9,739.0 L208.2,739.1 L210.4,738.8 L212.4,738.3 L214.4,737.3 L216.2,736.1 L217.7,734.7 L218.7,733.4 L220.2,731.1 L220.9,730.1 L221.9,729.4 L223.2,729.1 L224.9,729.2 L226.4,729.8 L227.2,730.4 L229.2,732.8 L230.2,733.7 L231.7,734.8 L233.2,735.5 L234.9,736.1 L236.7,736.3 L238.4,736.3 L240.2,735.9 L242.2,735.2 L243.9,734.1 L245.5,732.6 L246.8,730.8 L247.7,728.8 L248.1,726.8 L248.2,724.6 L247.9,722.6 L247.4,721.1 L246.7,719.7 L245.7,718.3 L244.7,717.2 L243.4,716.2 L242.2,715.5 L240.7,714.9 L239.2,714.5 L237.7,714.3 L236.2,714.4 L234.7,714.6 L233.4,715.0 L231.4,716.0 L227.9,718.4 L226.7,719.0 L225.4,719.1 L221.7,719.1 L220.7,718.9 L219.9,718.5 L215.9,714.9 L213.4,713.4 L211.9,712.8 L210.2,712.3 L208.4,712.1 L206.7,712.1 L204.4,712.5 L202.4,713.1 L200.2,714.3 L197.2,716.7 L195.9,717.5 L194.9,717.8 L193.4,717.8 L190.4,717.3 L188.9,716.7 L187.7,715.6 L185.1,712.6 L183.3,710.8 L180.9,709.1 L178.4,707.9 L175.7,707.0 L172.7,706.6 L169.7,706.7 L166.9,707.2 L163.7,708.5 L160.9,710.2 L158.4,712.4 L156.4,715.0 L154.9,718.1 L154.0,721.3 L153.7,724.6 L154.0,727.8 L154.9,731.1 L156.4,734.1 L158.4,736.8 L160.9,739.1 L163.8,740.8 L166.9,742.0 L170.2,742.6 Z" fill="none" stroke="url(#lg73)" stroke-width="0.9"/>
<g clip-path="url(#cp72)">
<ellipse cx="237.9" cy="730.0" rx="6.8" ry="3.1" fill="#444" filter="url(#blur08)"/>
<ellipse cx="169.6" cy="727.0" rx="15.5" ry="13.5" fill="#3a3a3a"/>
<ellipse cx="169.6" cy="728.4" rx="14.9" ry="13.0" fill="url(#rg68)"/>
<ellipse cx="207.6" cy="728.4" rx="11.0" ry="8.7" fill="#3a3a3a"/>
<ellipse cx="207.6" cy="729.8" rx="10.4" ry="8.2" fill="url(#rg69)"/>
</g>
<circle cx="252.0" cy="718.0" r="0.7" fill="#ccc"/>
</g>
<rect x="232.3" y="741.1" width="19.8" height="2.9" fill="#fff"/>
<rect x="141.6" y="431" width="29.099999999999994" height="32.30000000000001" fill="#f8f3f2"/>
<text x="140.5" y="457.2" font-size="21.5" font-family="Liberation Sans, Arial, sans-serif" font-weight="bold">(D)</text>
<rect x="264.9" y="443.4" width="97.30000000000001" height="97.20000000000005" fill="#8b8b8b"/>
<g clip-path="url(#cp74)">
<path d="M313.3,512.6 L316.4,512.1 L319.1,511.2 L321.6,510.1 L324.1,508.5 L326.1,506.8 L327.7,505.1 L329.4,502.9 L331.6,499.1 L332.4,498.3 L333.1,497.9 L333.9,497.8 L334.9,498.2 L338.1,500.3 L339.6,501.2 L341.1,501.7 L342.9,502.0 L345.1,502.1 L347.1,501.7 L349.1,501.0 L350.9,500.0 L352.5,498.6 L353.9,496.8 L354.9,494.8 L355.6,492.6 L355.8,490.3 L355.5,488.1 L354.8,485.8 L353.6,483.8 L351.8,481.8 L349.6,480.4 L347.1,479.4 L344.4,479.0 L342.1,479.2 L339.9,479.9 L337.9,480.9 L334.4,483.5 L333.4,483.8 L332.6,483.7 L331.9,483.2 L331.1,482.4 L328.8,478.8 L327.1,476.8 L325.1,474.8 L322.9,473.2 L320.1,471.7 L317.1,470.6 L314.1,470.0 L311.1,469.9 L307.9,470.1 L304.9,470.8 L302.1,471.9 L299.4,473.5 L297.4,475.1 L295.5,476.8 L293.7,479.1 L291.4,482.8 L290.6,483.6 L289.9,484.1 L289.1,484.1 L288.1,483.8 L284.6,481.4 L282.6,480.4 L280.4,479.8 L278.1,479.7 L275.4,480.2 L272.9,481.3 L270.6,483.0 L268.9,485.2 L267.9,487.1 L267.3,489.3 L267.1,491.6 L267.4,493.8 L268.2,496.1 L269.4,498.1 L270.9,499.8 L272.6,501.1 L274.4,502.0 L276.4,502.6 L278.4,502.8 L280.4,502.7 L282.1,502.3 L283.9,501.6 L288.4,498.7 L289.1,498.4 L289.9,498.5 L290.6,498.9 L291.4,499.7 L293.9,503.6 L295.7,505.8 L297.9,507.9 L300.4,509.6 L303.4,511.1 L306.6,512.2 L309.9,512.6 Z" fill="none" stroke="url(#lg80)" stroke-width="4" filter="url(#blur12)"/>
<path d="M313.3,512.6 L316.4,512.1 L319.1,511.2 L321.6,510.1 L324.1,508.5 L326.1,506.8 L327.7,505.1 L329.4,502.9 L331.6,499.1 L332.4,498.3 L333.1,497.9 L333.9,497.8 L334.9,498.2 L338.1,500.3 L339.6,501.2 L341.1,501.7 L342.9,502.0 L345.1,502.1 L347.1,501.7 L349.1,501.0 L350.9,500.0 L352.5,498.6 L353.9,496.8 L354.9,494.8 L355.6,492.6 L355.8,490.3 L355.5,488.1 L354.8,485.8 L353.6,483.8 L351.8,481.8 L349.6,480.4 L347.1,479.4 L344.4,479.0 L342.1,479.2 L339.9,479.9 L337.9,480.9 L334.4,483.5 L333.4,483.8 L332.6,483.7 L331.9,483.2 L331.1,482.4 L328.8,478.8 L327.1,476.8 L325.1,474.8 L322.9,473.2 L320.1,471.7 L317.1,470.6 L314.1,470.0 L311.1,469.9 L307.9,470.1 L304.9,470.8 L302.1,471.9 L299.4,473.5 L297.4,475.1 L295.5,476.8 L293.7,479.1 L291.4,482.8 L290.6,483.6 L289.9,484.1 L289.1,484.1 L288.1,483.8 L284.6,481.4 L282.6,480.4 L280.4,479.8 L278.1,479.7 L275.4,480.2 L272.9,481.3 L270.6,483.0 L268.9,485.2 L267.9,487.1 L267.3,489.3 L267.1,491.6 L267.4,493.8 L268.2,496.1 L269.4,498.1 L270.9,499.8 L272.6,501.1 L274.4,502.0 L276.4,502.6 L278.4,502.8 L280.4,502.7 L282.1,502.3 L283.9,501.6 L288.4,498.7 L289.1,498.4 L289.9,498.5 L290.6,498.9 L291.4,499.7 L293.9,503.6 L295.7,505.8 L297.9,507.9 L300.4,509.6 L303.4,511.1 L306.6,512.2 L309.9,512.6 Z" fill="none" stroke="url(#lg79)" stroke-width="1.7" transform="translate(0.4,0.5)"/>
<path d="M313.3,512.6 L316.4,512.1 L319.1,511.2 L321.6,510.1 L324.1,508.5 L326.1,506.8 L327.7,505.1 L329.4,502.9 L331.6,499.1 L332.4,498.3 L333.1,497.9 L333.9,497.8 L334.9,498.2 L338.1,500.3 L339.6,501.2 L341.1,501.7 L342.9,502.0 L345.1,502.1 L347.1,501.7 L349.1,501.0 L350.9,500.0 L352.5,498.6 L353.9,496.8 L354.9,494.8 L355.6,492.6 L355.8,490.3 L355.5,488.1 L354.8,485.8 L353.6,483.8 L351.8,481.8 L349.6,480.4 L347.1,479.4 L344.4,479.0 L342.1,479.2 L339.9,479.9 L337.9,480.9 L334.4,483.5 L333.4,483.8 L332.6,483.7 L331.9,483.2 L331.1,482.4 L328.8,478.8 L327.1,476.8 L325.1,474.8 L322.9,473.2 L320.1,471.7 L317.1,470.6 L314.1,470.0 L311.1,469.9 L307.9,470.1 L304.9,470.8 L302.1,471.9 L299.4,473.5 L297.4,475.1 L295.5,476.8 L293.7,479.1 L291.4,482.8 L290.6,483.6 L289.9,484.1 L289.1,484.1 L288.1,483.8 L284.6,481.4 L282.6,480.4 L280.4,479.8 L278.1,479.7 L275.4,480.2 L272.9,481.3 L270.6,483.0 L268.9,485.2 L267.9,487.1 L267.3,489.3 L267.1,491.6 L267.4,493.8 L268.2,496.1 L269.4,498.1 L270.9,499.8 L272.6,501.1 L274.4,502.0 L276.4,502.6 L278.4,502.8 L280.4,502.7 L282.1,502.3 L283.9,501.6 L288.4,498.7 L289.1,498.4 L289.9,498.5 L290.6,498.9 L291.4,499.7 L293.9,503.6 L295.7,505.8 L297.9,507.9 L300.4,509.6 L303.4,511.1 L306.6,512.2 L309.9,512.6 Z" fill="url(#lg75)"/>
<path d="M313.3,512.6 L316.4,512.1 L319.1,511.2 L321.6,510.1 L324.1,508.5 L326.1,506.8 L327.7,505.1 L329.4,502.9 L331.6,499.1 L332.4,498.3 L333.1,497.9 L333.9,497.8 L334.9,498.2 L338.1,500.3 L339.6,501.2 L341.1,501.7 L342.9,502.0 L345.1,502.1 L347.1,501.7 L349.1,501.0 L350.9,500.0 L352.5,498.6 L353.9,496.8 L354.9,494.8 L355.6,492.6 L355.8,490.3 L355.5,488.1 L354.8,485.8 L353.6,483.8 L351.8,481.8 L349.6,480.4 L347.1,479.4 L344.4,479.0 L342.1,479.2 L339.9,479.9 L337.9,480.9 L334.4,483.5 L333.4,483.8 L332.6,483.7 L331.9,483.2 L331.1,482.4 L328.8,478.8 L327.1,476.8 L325.1,474.8 L322.9,473.2 L320.1,471.7 L317.1,470.6 L314.1,470.0 L311.1,469.9 L307.9,470.1 L304.9,470.8 L302.1,471.9 L299.4,473.5 L297.4,475.1 L295.5,476.8 L293.7,479.1 L291.4,482.8 L290.6,483.6 L289.9,484.1 L289.1,484.1 L288.1,483.8 L284.6,481.4 L282.6,480.4 L280.4,479.8 L278.1,479.7 L275.4,480.2 L272.9,481.3 L270.6,483.0 L268.9,485.2 L267.9,487.1 L267.3,489.3 L267.1,491.6 L267.4,493.8 L268.2,496.1 L269.4,498.1 L270.9,499.8 L272.6,501.1 L274.4,502.0 L276.4,502.6 L278.4,502.8 L280.4,502.7 L282.1,502.3 L283.9,501.6 L288.4,498.7 L289.1,498.4 L289.9,498.5 L290.6,498.9 L291.4,499.7 L293.9,503.6 L295.7,505.8 L297.9,507.9 L300.4,509.6 L303.4,511.1 L306.6,512.2 L309.9,512.6 Z" fill="none" stroke="url(#lg82)" stroke-width="0.9"/>
<g clip-path="url(#cp81)">
<ellipse cx="276.1" cy="497.9" rx="9.9" ry="5.4" fill="#2c2c2c" filter="url(#blur08)"/>
<ellipse cx="347.3" cy="497.2" rx="9.9" ry="5.4" fill="#2c2c2c" filter="url(#blur08)"/>
<ellipse cx="282.1" cy="497.9" rx="7.9" ry="5.6" fill="url(#rg76)" transform="rotate(0 282.1 497.9)"/>
<ellipse cx="340.3" cy="497.6" rx="7.9" ry="5.6" fill="url(#rg77)" transform="rotate(0 340.3 497.6)"/>
<ellipse cx="310.7" cy="493.2" rx="19.9" ry="18.9" fill="#555"/>
<ellipse cx="310.7" cy="494.4" rx="19.2" ry="18.0" fill="url(#rg78)" transform="rotate(0 310.7 494.4)"/>
</g>
</g>
<rect x="264.9" y="546.9" width="97.30000000000001" height="97.10000000000002" fill="#8b8b8b"/>
<g clip-path="url(#cp83)">
<path d="M349.4,635.6 L352.1,634.9 L354.4,633.8 L356.4,632.3 L358.0,630.3 L359.1,628.1 L359.4,625.8 L359.2,623.6 L358.3,621.3 L357.1,619.6 L355.5,618.1 L353.6,616.9 L351.4,616.0 L348.9,615.5 L346.4,615.5 L344.6,615.7 L341.1,616.6 L339.9,616.7 L339.1,616.6 L338.4,616.2 L336.9,614.7 L335.9,613.1 L335.3,611.6 L334.5,604.1 L334.0,601.6 L333.2,599.3 L332.2,597.1 L331.0,595.1 L327.6,590.6 L326.4,588.7 L325.3,586.3 L324.4,583.3 L324.1,580.6 L324.2,577.8 L324.7,575.3 L326.2,570.6 L326.6,567.8 L326.5,566.1 L326.2,564.3 L325.7,562.6 L325.1,561.1 L323.6,558.8 L321.6,556.8 L319.4,555.2 L316.9,554.2 L314.1,553.6 L311.4,553.6 L308.6,554.2 L306.1,555.3 L303.6,557.0 L301.6,559.3 L300.1,561.8 L299.6,563.3 L299.2,564.8 L299.0,567.1 L299.1,569.6 L299.5,571.3 L301.0,575.8 L301.4,578.3 L301.4,580.3 L300.8,582.3 L299.9,584.3 L298.8,586.1 L297.2,587.8 L294.1,590.6 L292.4,592.3 L290.5,594.8 L289.0,597.3 L287.8,600.1 L287.0,603.1 L286.5,606.1 L286.3,610.6 L286.1,611.8 L285.6,612.8 L284.9,613.8 L283.6,614.5 L282.4,614.7 L278.1,614.3 L275.4,614.6 L273.9,615.0 L272.4,615.6 L270.9,616.4 L269.6,617.3 L268.4,618.6 L267.5,619.8 L266.8,621.1 L266.3,622.6 L266.1,624.1 L266.2,625.6 L266.5,627.1 L267.2,628.6 L268.0,629.8 L268.8,630.8 L269.9,631.8 L271.1,632.7 L272.4,633.3 L273.9,633.9 L275.4,634.3 L277.1,634.5 L279.9,634.5 L282.6,633.9 L284.9,632.9 L288.6,630.7 L289.4,630.4 L290.4,630.2 L291.9,630.3 L298.6,631.0 L307.9,632.3 L310.6,632.5 L314.6,632.1 L319.4,631.0 L321.9,630.6 L324.9,630.5 L329.1,630.7 L333.6,630.3 L334.9,630.5 L336.1,631.0 L340.2,633.8 L342.9,635.0 L344.4,635.4 L346.1,635.7 L347.9,635.7 Z" fill="none" stroke="url(#lg90)" stroke-width="4" filter="url(#blur12)"/>
<path d="M349.4,635.6 L352.1,634.9 L354.4,633.8 L356.4,632.3 L358.0,630.3 L359.1,628.1 L359.4,625.8 L359.2,623.6 L358.3,621.3 L357.1,619.6 L355.5,618.1 L353.6,616.9 L351.4,616.0 L348.9,615.5 L346.4,615.5 L344.6,615.7 L341.1,616.6 L339.9,616.7 L339.1,616.6 L338.4,616.2 L336.9,614.7 L335.9,613.1 L335.3,611.6 L334.5,604.1 L334.0,601.6 L333.2,599.3 L332.2,597.1 L331.0,595.1 L327.6,590.6 L326.4,588.7 L325.3,586.3 L324.4,583.3 L324.1,580.6 L324.2,577.8 L324.7,575.3 L326.2,570.6 L326.6,567.8 L326.5,566.1 L326.2,564.3 L325.7,562.6 L325.1,561.1 L323.6,558.8 L321.6,556.8 L319.4,555.2 L316.9,554.2 L314.1,553.6 L311.4,553.6 L308.6,554.2 L306.1,555.3 L303.6,557.0 L301.6,559.3 L300.1,561.8 L299.6,563.3 L299.2,564.8 L299.0,567.1 L299.1,569.6 L299.5,571.3 L301.0,575.8 L301.4,578.3 L301.4,580.3 L300.8,582.3 L299.9,584.3 L298.8,586.1 L297.2,587.8 L294.1,590.6 L292.4,592.3 L290.5,594.8 L289.0,597.3 L287.8,600.1 L287.0,603.1 L286.5,606.1 L286.3,610.6 L286.1,611.8 L285.6,612.8 L284.9,613.8 L283.6,614.5 L282.4,614.7 L278.1,614.3 L275.4,614.6 L273.9,615.0 L272.4,615.6 L270.9,616.4 L269.6,617.3 L268.4,618.6 L267.5,619.8 L266.8,621.1 L266.3,622.6 L266.1,624.1 L266.2,625.6 L266.5,627.1 L267.2,628.6 L268.0,629.8 L268.8,630.8 L269.9,631.8 L271.1,632.7 L272.4,633.3 L273.9,633.9 L275.4,634.3 L277.1,634.5 L279.9,634.5 L282.6,633.9 L284.9,632.9 L288.6,630.7 L289.4,630.4 L290.4,630.2 L291.9,630.3 L298.6,631.0 L307.9,632.3 L310.6,632.5 L314.6,632.1 L319.4,631.0 L321.9,630.6 L324.9,630.5 L329.1,630.7 L333.6,630.3 L334.9,630.5 L336.1,631.0 L340.2,633.8 L342.9,635.0 L344.4,635.4 L346.1,635.7 L347.9,635.7 Z" fill="none" stroke="url(#lg89)" stroke-width="1.7" transform="translate(0.4,0.5)"/>
<path d="M349.4,635.6 L352.1,634.9 L354.4,633.8 L356.4,632.3 L358.0,630.3 L359.1,628.1 L359.4,625.8 L359.2,623.6 L358.3,621.3 L357.1,619.6 L355.5,618.1 L353.6,616.9 L351.4,616.0 L348.9,615.5 L346.4,615.5 L344.6,615.7 L341.1,616.6 L339.9,616.7 L339.1,616.6 L338.4,616.2 L336.9,614.7 L335.9,613.1 L335.3,611.6 L334.5,604.1 L334.0,601.6 L333.2,599.3 L332.2,597.1 L331.0,595.1 L327.6,590.6 L326.4,588.7 L325.3,586.3 L324.4,583.3 L324.1,580.6 L324.2,577.8 L324.7,575.3 L326.2,570.6 L326.6,567.8 L326.5,566.1 L326.2,564.3 L325.7,562.6 L325.1,561.1 L323.6,558.8 L321.6,556.8 L319.4,555.2 L316.9,554.2 L314.1,553.6 L311.4,553.6 L308.6,554.2 L306.1,555.3 L303.6,557.0 L301.6,559.3 L300.1,561.8 L299.6,563.3 L299.2,564.8 L299.0,567.1 L299.1,569.6 L299.5,571.3 L301.0,575.8 L301.4,578.3 L301.4,580.3 L300.8,582.3 L299.9,584.3 L298.8,586.1 L297.2,587.8 L294.1,590.6 L292.4,592.3 L290.5,594.8 L289.0,597.3 L287.8,600.1 L287.0,603.1 L286.5,606.1 L286.3,610.6 L286.1,611.8 L285.6,612.8 L284.9,613.8 L283.6,614.5 L282.4,614.7 L278.1,614.3 L275.4,614.6 L273.9,615.0 L272.4,615.6 L270.9,616.4 L269.6,617.3 L268.4,618.6 L267.5,619.8 L266.8,621.1 L266.3,622.6 L266.1,624.1 L266.2,625.6 L266.5,627.1 L267.2,628.6 L268.0,629.8 L268.8,630.8 L269.9,631.8 L271.1,632.7 L272.4,633.3 L273.9,633.9 L275.4,634.3 L277.1,634.5 L279.9,634.5 L282.6,633.9 L284.9,632.9 L288.6,630.7 L289.4,630.4 L290.4,630.2 L291.9,630.3 L298.6,631.0 L307.9,632.3 L310.6,632.5 L314.6,632.1 L319.4,631.0 L321.9,630.6 L324.9,630.5 L329.1,630.7 L333.6,630.3 L334.9,630.5 L336.1,631.0 L340.2,633.8 L342.9,635.0 L344.4,635.4 L346.1,635.7 L347.9,635.7 Z" fill="url(#lg84)"/>
<path d="M349.4,635.6 L352.1,634.9 L354.4,633.8 L356.4,632.3 L358.0,630.3 L359.1,628.1 L359.4,625.8 L359.2,623.6 L358.3,621.3 L357.1,619.6 L355.5,618.1 L353.6,616.9 L351.4,616.0 L348.9,615.5 L346.4,615.5 L344.6,615.7 L341.1,616.6 L339.9,616.7 L339.1,616.6 L338.4,616.2 L336.9,614.7 L335.9,613.1 L335.3,611.6 L334.5,604.1 L334.0,601.6 L333.2,599.3 L332.2,597.1 L331.0,595.1 L327.6,590.6 L326.4,588.7 L325.3,586.3 L324.4,583.3 L324.1,580.6 L324.2,577.8 L324.7,575.3 L326.2,570.6 L326.6,567.8 L326.5,566.1 L326.2,564.3 L325.7,562.6 L325.1,561.1 L323.6,558.8 L321.6,556.8 L319.4,555.2 L316.9,554.2 L314.1,553.6 L311.4,553.6 L308.6,554.2 L306.1,555.3 L303.6,557.0 L301.6,559.3 L300.1,561.8 L299.6,563.3 L299.2,564.8 L299.0,567.1 L299.1,569.6 L299.5,571.3 L301.0,575.8 L301.4,578.3 L301.4,580.3 L300.8,582.3 L299.9,584.3 L298.8,586.1 L297.2,587.8 L294.1,590.6 L292.4,592.3 L290.5,594.8 L289.0,597.3 L287.8,600.1 L287.0,603.1 L286.5,606.1 L286.3,610.6 L286.1,611.8 L285.6,612.8 L284.9,613.8 L283.6,614.5 L282.4,614.7 L278.1,614.3 L275.4,614.6 L273.9,615.0 L272.4,615.6 L270.9,616.4 L269.6,617.3 L268.4,618.6 L267.5,619.8 L266.8,621.1 L266.3,622.6 L266.1,624.1 L266.2,625.6 L266.5,627.1 L267.2,628.6 L268.0,629.8 L268.8,630.8 L269.9,631.8 L271.1,632.7 L272.4,633.3 L273.9,633.9 L275.4,634.3 L277.1,634.5 L279.9,634.5 L282.6,633.9 L284.9,632.9 L288.6,630.7 L289.4,630.4 L290.4,630.2 L291.9,630.3 L298.6,631.0 L307.9,632.3 L310.6,632.5 L314.6,632.1 L319.4,631.0 L321.9,630.6 L324.9,630.5 L329.1,630.7 L333.6,630.3 L334.9,630.5 L336.1,631.0 L340.2,633.8 L342.9,635.0 L344.4,635.4 L346.1,635.7 L347.9,635.7 Z" fill="none" stroke="url(#lg92)" stroke-width="0.9"/>
<g clip-path="url(#cp91)">
<ellipse cx="312.8" cy="573.7" rx="12.0" ry="5.6" fill="#2a2a2a" filter="url(#blur08)"/>
<ellipse cx="333.9" cy="615.3" rx="4.2" ry="15.5" fill="#333" filter="url(#blur08)"/>
<ellipse cx="286.7" cy="620.9" rx="3.5" ry="8.5" fill="#444" filter="url(#blur08)"/>
<ellipse cx="312.1" cy="582.6" rx="9.9" ry="9.3" fill="url(#rg85)" transform="rotate(0 312.1 582.6)"/>
<ellipse cx="277.5" cy="626.1" rx="10.4" ry="7.6" fill="url(#rg86)" transform="rotate(20 277.5 626.1)"/>
<ellipse cx="347.3" cy="626.8" rx="10.7" ry="8.2" fill="url(#rg87)" transform="rotate(-10 347.3 626.8)"/>
<ellipse cx="310.2" cy="608.5" rx="23.4" ry="21.1" fill="#4a4a4a"/>
<ellipse cx="310.0" cy="609.6" rx="22.7" ry="20.3" fill="url(#rg88)" transform="rotate(0 310.0 609.6)"/>
</g>
</g>
<rect x="264.9" y="650.4" width="97.30000000000001" height="97.30000000000007" fill="#8b8b8b"/>
<g clip-path="url(#cp93)">
<path d="M316.3,742.7 L317.7,742.4 L319.0,741.9 L321.1,740.7 L322.9,738.9 L324.2,736.7 L324.9,734.4 L325.1,732.2 L324.9,729.9 L324.2,724.7 L324.1,722.4 L324.3,720.7 L325.0,718.9 L327.5,715.2 L329.6,710.9 L330.7,709.5 L331.5,708.9 L332.5,708.4 L339.0,707.1 L341.2,707.3 L345.2,708.6 L347.5,709.0 L350.2,708.8 L352.7,708.1 L354.2,707.3 L355.5,706.4 L356.7,705.3 L357.7,703.9 L358.5,702.4 L359.0,700.9 L359.2,699.4 L359.3,697.9 L359.0,696.2 L358.4,694.4 L357.6,692.9 L356.5,691.6 L355.2,690.4 L353.7,689.4 L352.0,688.7 L350.2,688.3 L347.5,688.2 L344.7,688.7 L342.5,689.7 L338.5,692.3 L337.2,692.8 L336.0,693.1 L333.2,693.4 L329.5,693.9 L328.5,693.8 L327.7,693.5 L326.2,692.5 L323.7,689.9 L322.2,687.9 L321.4,685.9 L321.0,683.2 L320.8,679.7 L321.0,677.4 L321.5,675.7 L323.1,671.7 L323.6,669.4 L323.5,666.7 L322.8,663.9 L322.0,662.3 L321.0,660.9 L319.7,659.6 L318.2,658.5 L316.7,657.7 L315.0,657.1 L313.2,656.8 L311.5,656.7 L309.7,656.9 L308.2,657.4 L306.7,658.0 L305.2,659.0 L304.0,660.0 L302.7,661.4 L301.8,662.9 L301.2,664.4 L300.6,667.2 L300.6,669.9 L301.1,671.9 L302.6,675.4 L303.1,676.9 L303.3,678.4 L303.4,680.4 L303.0,682.7 L302.5,684.7 L301.7,686.2 L300.5,687.7 L297.2,690.4 L294.7,692.0 L293.0,692.7 L290.5,693.2 L289.2,693.2 L288.0,692.9 L283.7,690.6 L282.5,690.1 L281.0,689.7 L279.5,689.5 L277.7,689.6 L276.2,689.9 L274.7,690.3 L273.2,691.1 L271.9,691.9 L270.7,693.1 L269.6,694.4 L268.8,695.9 L268.3,697.4 L268.0,698.9 L268.0,700.4 L268.2,701.9 L268.5,703.2 L269.0,704.4 L269.8,705.7 L270.7,706.9 L271.9,707.9 L273.0,708.7 L274.4,709.4 L277.0,710.2 L279.7,710.4 L281.7,710.1 L285.5,708.8 L286.7,708.6 L287.7,708.8 L288.7,709.2 L290.6,710.4 L291.7,711.7 L294.2,715.8 L296.0,718.1 L298.2,720.2 L302.0,722.9 L302.8,723.7 L303.3,724.4 L303.9,725.9 L304.3,727.7 L304.6,732.7 L305.1,735.2 L305.8,737.2 L306.9,738.9 L307.8,739.9 L309.0,740.9 L311.2,742.1 L313.7,742.7 Z" fill="none" stroke="url(#lg101)" stroke-width="4" filter="url(#blur12)"/>
<path d="M316.3,742.7 L317.7,742.4 L319.0,741.9 L321.1,740.7 L322.9,738.9 L324.2,736.7 L324.9,734.4 L325.1,732.2 L324.9,729.9 L324.2,724.7 L324.1,722.4 L324.3,720.7 L325.0,718.9 L327.5,715.2 L329.6,710.9 L330.7,709.5 L331.5,708.9 L332.5,708.4 L339.0,707.1 L341.2,707.3 L345.2,708.6 L347.5,709.0 L350.2,708.8 L352.7,708.1 L354.2,707.3 L355.5,706.4 L356.7,705.3 L357.7,703.9 L358.5,702.4 L359.0,700.9 L359.2,699.4 L359.3,697.9 L359.0,696.2 L358.4,694.4 L357.6,692.9 L356.5,691.6 L355.2,690.4 L353.7,689.4 L352.0,688.7 L350.2,688.3 L347.5,688.2 L344.7,688.7 L342.5,689.7 L338.5,692.3 L337.2,692.8 L336.0,693.1 L333.2,693.4 L329.5,693.9 L328.5,693.8 L327.7,693.5 L326.2,692.5 L323.7,689.9 L322.2,687.9 L321.4,685.9 L321.0,683.2 L320.8,679.7 L321.0,677.4 L321.5,675.7 L323.1,671.7 L323.6,669.4 L323.5,666.7 L322.8,663.9 L322.0,662.3 L321.0,660.9 L319.7,659.6 L318.2,658.5 L316.7,657.7 L315.0,657.1 L313.2,656.8 L311.5,656.7 L309.7,656.9 L308.2,657.4 L306.7,658.0 L305.2,659.0 L304.0,660.0 L302.7,661.4 L301.8,662.9 L301.2,664.4 L300.6,667.2 L300.6,669.9 L301.1,671.9 L302.6,675.4 L303.1,676.9 L303.3,678.4 L303.4,680.4 L303.0,682.7 L302.5,684.7 L301.7,686.2 L300.5,687.7 L297.2,690.4 L294.7,692.0 L293.0,692.7 L290.5,693.2 L289.2,693.2 L288.0,692.9 L283.7,690.6 L282.5,690.1 L281.0,689.7 L279.5,689.5 L277.7,689.6 L276.2,689.9 L274.7,690.3 L273.2,691.1 L271.9,691.9 L270.7,693.1 L269.6,694.4 L268.8,695.9 L268.3,697.4 L268.0,698.9 L268.0,700.4 L268.2,701.9 L268.5,703.2 L269.0,704.4 L269.8,705.7 L270.7,706.9 L271.9,707.9 L273.0,708.7 L274.4,709.4 L277.0,710.2 L279.7,710.4 L281.7,710.1 L285.5,708.8 L286.7,708.6 L287.7,708.8 L288.7,709.2 L290.6,710.4 L291.7,711.7 L294.2,715.8 L296.0,718.1 L298.2,720.2 L302.0,722.9 L302.8,723.7 L303.3,724.4 L303.9,725.9 L304.3,727.7 L304.6,732.7 L305.1,735.2 L305.8,737.2 L306.9,738.9 L307.8,739.9 L309.0,740.9 L311.2,742.1 L313.7,742.7 Z" fill="none" stroke="url(#lg100)" stroke-width="1.7" transform="translate(0.4,0.5)"/>
<path d="M316.3,742.7 L317.7,742.4 L319.0,741.9 L321.1,740.7 L322.9,738.9 L324.2,736.7 L324.9,734.4 L325.1,732.2 L324.9,729.9 L324.2,724.7 L324.1,722.4 L324.3,720.7 L325.0,718.9 L327.5,715.2 L329.6,710.9 L330.7,709.5 L331.5,708.9 L332.5,708.4 L339.0,707.1 L341.2,707.3 L345.2,708.6 L347.5,709.0 L350.2,708.8 L352.7,708.1 L354.2,707.3 L355.5,706.4 L356.7,705.3 L357.7,703.9 L358.5,702.4 L359.0,700.9 L359.2,699.4 L359.3,697.9 L359.0,696.2 L358.4,694.4 L357.6,692.9 L356.5,691.6 L355.2,690.4 L353.7,689.4 L352.0,688.7 L350.2,688.3 L347.5,688.2 L344.7,688.7 L342.5,689.7 L338.5,692.3 L337.2,692.8 L336.0,693.1 L333.2,693.4 L329.5,693.9 L328.5,693.8 L327.7,693.5 L326.2,692.5 L323.7,689.9 L322.2,687.9 L321.4,685.9 L321.0,683.2 L320.8,679.7 L321.0,677.4 L321.5,675.7 L323.1,671.7 L323.6,669.4 L323.5,666.7 L322.8,663.9 L322.0,662.3 L321.0,660.9 L319.7,659.6 L318.2,658.5 L316.7,657.7 L315.0,657.1 L313.2,656.8 L311.5,656.7 L309.7,656.9 L308.2,657.4 L306.7,658.0 L305.2,659.0 L304.0,660.0 L302.7,661.4 L301.8,662.9 L301.2,664.4 L300.6,667.2 L300.6,669.9 L301.1,671.9 L302.6,675.4 L303.1,676.9 L303.3,678.4 L303.4,680.4 L303.0,682.7 L302.5,684.7 L301.7,686.2 L300.5,687.7 L297.2,690.4 L294.7,692.0 L293.0,692.7 L290.5,693.2 L289.2,693.2 L288.0,692.9 L283.7,690.6 L282.5,690.1 L281.0,689.7 L279.5,689.5 L277.7,689.6 L276.2,689.9 L274.7,690.3 L273.2,691.1 L271.9,691.9 L270.7,693.1 L269.6,694.4 L268.8,695.9 L268.3,697.4 L268.0,698.9 L268.0,700.4 L268.2,701.9 L268.5,703.2 L269.0,704.4 L269.8,705.7 L270.7,706.9 L271.9,707.9 L273.0,708.7 L274.4,709.4 L277.0,710.2 L279.7,710.4 L281.7,710.1 L285.5,708.8 L286.7,708.6 L287.7,708.8 L288.7,709.2 L290.6,710.4 L291.7,711.7 L294.2,715.8 L296.0,718.1 L298.2,720.2 L302.0,722.9 L302.8,723.7 L303.3,724.4 L303.9,725.9 L304.3,727.7 L304.6,732.7 L305.1,735.2 L305.8,737.2 L306.9,738.9 L307.8,739.9 L309.0,740.9 L311.2,742.1 L313.7,742.7 Z" fill="url(#lg94)"/>
<path d="M316.3,742.7 L317.7,742.4 L319.0,741.9 L321.1,740.7 L322.9,738.9 L324.2,736.7 L324.9,734.4 L325.1,732.2 L324.9,729.9 L324.2,724.7 L324.1,722.4 L324.3,720.7 L325.0,718.9 L327.5,715.2 L329.6,710.9 L330.7,709.5 L331.5,708.9 L332.5,708.4 L339.0,707.1 L341.2,707.3 L345.2,708.6 L347.5,709.0 L350.2,708.8 L352.7,708.1 L354.2,707.3 L355.5,706.4 L356.7,705.3 L357.7,703.9 L358.5,702.4 L359.0,700.9 L359.2,699.4 L359.3,697.9 L359.0,696.2 L358.4,694.4 L357.6,692.9 L356.5,691.6 L355.2,690.4 L353.7,689.4 L352.0,688.7 L350.2,688.3 L347.5,688.2 L344.7,688.7 L342.5,689.7 L338.5,692.3 L337.2,692.8 L336.0,693.1 L333.2,693.4 L329.5,693.9 L328.5,693.8 L327.7,693.5 L326.2,692.5 L323.7,689.9 L322.2,687.9 L321.4,685.9 L321.0,683.2 L320.8,679.7 L321.0,677.4 L321.5,675.7 L323.1,671.7 L323.6,669.4 L323.5,666.7 L322.8,663.9 L322.0,662.3 L321.0,660.9 L319.7,659.6 L318.2,658.5 L316.7,657.7 L315.0,657.1 L313.2,656.8 L311.5,656.7 L309.7,656.9 L308.2,657.4 L306.7,658.0 L305.2,659.0 L304.0,660.0 L302.7,661.4 L301.8,662.9 L301.2,664.4 L300.6,667.2 L300.6,669.9 L301.1,671.9 L302.6,675.4 L303.1,676.9 L303.3,678.4 L303.4,680.4 L303.0,682.7 L302.5,684.7 L301.7,686.2 L300.5,687.7 L297.2,690.4 L294.7,692.0 L293.0,692.7 L290.5,693.2 L289.2,693.2 L288.0,692.9 L283.7,690.6 L282.5,690.1 L281.0,689.7 L279.5,689.5 L277.7,689.6 L276.2,689.9 L274.7,690.3 L273.2,691.1 L271.9,691.9 L270.7,693.1 L269.6,694.4 L268.8,695.9 L268.3,697.4 L268.0,698.9 L268.0,700.4 L268.2,701.9 L268.5,703.2 L269.0,704.4 L269.8,705.7 L270.7,706.9 L271.9,707.9 L273.0,708.7 L274.4,709.4 L277.0,710.2 L279.7,710.4 L281.7,710.1 L285.5,708.8 L286.7,708.6 L287.7,708.8 L288.7,709.2 L290.6,710.4 L291.7,711.7 L294.2,715.8 L296.0,718.1 L298.2,720.2 L302.0,722.9 L302.8,723.7 L303.3,724.4 L303.9,725.9 L304.3,727.7 L304.6,732.7 L305.1,735.2 L305.8,737.2 L306.9,738.9 L307.8,739.9 L309.0,740.9 L311.2,742.1 L313.7,742.7 Z" fill="none" stroke="url(#lg103)" stroke-width="0.9"/>
<g clip-path="url(#cp102)">
<ellipse cx="312.1" cy="685.2" rx="9.9" ry="4.9" fill="#3a3a3a" filter="url(#blur08)"/>
<ellipse cx="276.1" cy="705.6" rx="8.5" ry="4.2" fill="#333" filter="url(#blur08)"/>
<ellipse cx="333.9" cy="707.0" rx="7.0" ry="8.5" fill="#444" filter="url(#blur08)"/>
<ellipse cx="314.2" cy="726.7" rx="9.9" ry="4.2" fill="#3c3c3c" filter="url(#blur08)"/>
<ellipse cx="352.2" cy="704.2" rx="5.6" ry="3.5" fill="#555" filter="url(#blur08)"/>
<ellipse cx="312.8" cy="673.9" rx="9.0" ry="9.9" fill="url(#rg95)" transform="rotate(0 312.8 673.9)"/>
<ellipse cx="280.6" cy="703.1" rx="9.0" ry="5.9" fill="url(#rg96)" transform="rotate(0 280.6 703.1)"/>
<ellipse cx="348.0" cy="704.2" rx="7.6" ry="4.2" fill="url(#rg97)" transform="rotate(0 348.0 704.2)"/>
<ellipse cx="314.9" cy="734.1" rx="8.7" ry="7.6" fill="url(#rg98)" transform="rotate(0 314.9 734.1)"/>
<ellipse cx="309.7" cy="705.0" rx="19.7" ry="18.9" fill="#555"/>
<ellipse cx="309.3" cy="705.9" rx="19.0" ry="18.3" fill="url(#rg99)" transform="rotate(0 309.3 705.9)"/>
</g>
</g>
<rect x="339.1" y="741.1" width="19.9" height="2.9" fill="#fff"/>
<rect x="264.3" y="431" width="28.399999999999977" height="32.30000000000001" fill="#f8f3f2"/>
<text x="263" y="457.2" font-size="21.5" font-family="Liberation Sans, Arial, sans-serif" font-weight="bold">(E)</text>
<rect x="373.2" y="443.2" width="303.8" height="304.3" fill="#838383"/>
<clipPath id="clipF"><rect x="373.2" y="443.2" width="303.8" height="304.3"/></clipPath>
<g clip-path="url(#clipF)">
<use href="#pearF" x="384.2" y="457.2"/>
<circle cx="383.9" cy="456.7" r="6.35" fill="url(#gFring)" stroke="#3a3a3a" stroke-width="3.4"/>
<circle cx="397.2" cy="462.5" r="2.85" fill="#8c8c8c" stroke="#3c3c3c" stroke-width="2.2"/>
<use href="#pearF" x="414.6" y="457.2"/>
<circle cx="414.2" cy="456.7" r="6.35" fill="url(#gFring)" stroke="#3a3a3a" stroke-width="3.4"/>
<circle cx="427.7" cy="462.6" r="2.85" fill="#8c8c8c" stroke="#3c3c3c" stroke-width="2.2"/>
<use href="#pearF" x="444.9" y="457.2"/>
<circle cx="444.6" cy="456.7" r="6.35" fill="url(#gFring)" stroke="#3a3a3a" stroke-width="3.4"/>
<circle cx="458.4" cy="462.1" r="2.85" fill="#8c8c8c" stroke="#3c3c3c" stroke-width="2.2"/>
<use href="#pearF" x="475.2" y="457.2"/>
<circle cx="474.9" cy="456.7" r="6.35" fill="url(#gFring)" stroke="#3a3a3a" stroke-width="3.4"/>
<circle cx="488.0" cy="462.8" r="2.85" fill="#8c8c8c" stroke="#3c3c3c" stroke-width="2.2"/>
<use href="#pearF" x="505.6" y="457.2"/>
<circle cx="505.3" cy="456.7" r="6.35" fill="url(#gFring)" stroke="#3a3a3a" stroke-width="3.4"/>
<circle cx="518.6" cy="462.2" r="2.85" fill="#8c8c8c" stroke="#3c3c3c" stroke-width="2.2"/>
<use href="#pearF" x="535.9" y="457.2"/>
<circle cx="535.6" cy="456.7" r="6.35" fill="url(#gFring)" stroke="#3a3a3a" stroke-width="3.4"/>
<circle cx="549.8" cy="462.5" r="2.85" fill="#8c8c8c" stroke="#3c3c3c" stroke-width="2.2"/>
<use href="#pearF" x="566.3" y="457.2"/>
<circle cx="566.0" cy="456.7" r="6.35" fill="url(#gFring)" stroke="#3a3a3a" stroke-width="3.4"/>
<circle cx="580.0" cy="462.5" r="2.85" fill="#8c8c8c" stroke="#3c3c3c" stroke-width="2.2"/>
<use href="#pearF" x="596.6" y="457.2"/>
<circle cx="596.4" cy="456.7" r="6.35" fill="url(#gFring)" stroke="#3a3a3a" stroke-width="3.4"/>
<circle cx="610.1" cy="462.2" r="2.85" fill="#8c8c8c" stroke="#3c3c3c" stroke-width="2.2"/>
<use href="#pearF" x="627.0" y="457.2"/>
<circle cx="626.7" cy="456.7" r="6.35" fill="url(#gFring)" stroke="#3a3a3a" stroke-width="3.4"/>
<circle cx="640.5" cy="462.9" r="2.85" fill="#8c8c8c" stroke="#3c3c3c" stroke-width="2.2"/>
<use href="#pearF" x="657.3" y="457.2"/>
<circle cx="657.0" cy="456.7" r="6.35" fill="url(#gFring)" stroke="#3a3a3a" stroke-width="3.4"/>
<circle cx="670.7" cy="462.7" r="2.85" fill="#8c8c8c" stroke="#3c3c3c" stroke-width="2.2"/>
<use href="#pearF" x="384.2" y="487.5"/>
<circle cx="383.9" cy="487.0" r="6.35" fill="url(#gFring)" stroke="#3a3a3a" stroke-width="3.4"/>
<circle cx="397.7" cy="492.3" r="2.85" fill="#8c8c8c" stroke="#3c3c3c" stroke-width="2.2"/>
<use href="#pearF" x="414.6" y="487.5"/>
<circle cx="414.2" cy="487.0" r="6.35" fill="url(#gFring)" stroke="#3a3a3a" stroke-width="3.4"/>
<circle cx="428.2" cy="492.9" r="2.85" fill="#8c8c8c" stroke="#3c3c3c" stroke-width="2.2"/>
<use href="#pearF" x="444.9" y="487.5"/>
<circle cx="444.6" cy="487.0" r="6.35" fill="url(#gFring)" stroke="#3a3a3a" stroke-width="3.4"/>
<circle cx="458.0" cy="492.3" r="2.85" fill="#8c8c8c" stroke="#3c3c3c" stroke-width="2.2"/>
<use href="#pearF" x="475.2" y="487.5"/>
<circle cx="474.9" cy="487.0" r="6.35" fill="url(#gFring)" stroke="#3a3a3a" stroke-width="3.4"/>
<circle cx="489.0" cy="492.7" r="2.85" fill="#8c8c8c" stroke="#3c3c3c" stroke-width="2.2"/>
<use href="#pearF" x="505.6" y="487.5"/>
<circle cx="505.3" cy="487.0" r="6.35" fill="url(#gFring)" stroke="#3a3a3a" stroke-width="3.4"/>
<circle cx="519.2" cy="493.1" r="2.85" fill="#8c8c8c" stroke="#3c3c3c" stroke-width="2.2"/>
<use href="#pearF" x="535.9" y="487.5"/>
<circle cx="535.6" cy="487.0" r="6.35" fill="url(#gFring)" stroke="#3a3a3a" stroke-width="3.4"/>
<circle cx="549.5" cy="493.2" r="2.85" fill="#8c8c8c" stroke="#3c3c3c" stroke-width="2.2"/>
<use href="#pearF" x="566.3" y="487.5"/>
<circle cx="566.0" cy="487.0" r="6.35" fill="url(#gFring)" stroke="#3a3a3a" stroke-width="3.4"/>
<circle cx="579.5" cy="493.1" r="2.85" fill="#8c8c8c" stroke="#3c3c3c" stroke-width="2.2"/>
<use href="#pearF" x="596.6" y="487.5"/>
<circle cx="596.4" cy="487.0" r="6.35" fill="url(#gFring)" stroke="#3a3a3a" stroke-width="3.4"/>
<circle cx="609.9" cy="493.2" r="2.85" fill="#8c8c8c" stroke="#3c3c3c" stroke-width="2.2"/>
<use href="#pearF" x="627.0" y="487.5"/>
<circle cx="626.7" cy="487.0" r="6.35" fill="url(#gFring)" stroke="#3a3a3a" stroke-width="3.4"/>
<circle cx="640.8" cy="492.4" r="2.85" fill="#8c8c8c" stroke="#3c3c3c" stroke-width="2.2"/>
<use href="#pearF" x="657.3" y="487.5"/>
<circle cx="657.0" cy="487.0" r="6.35" fill="url(#gFring)" stroke="#3a3a3a" stroke-width="3.4"/>
<circle cx="670.2" cy="492.5" r="2.85" fill="#8c8c8c" stroke="#3c3c3c" stroke-width="2.2"/>
<use href="#pearF" x="384.2" y="517.7"/>
<circle cx="383.9" cy="517.2" r="6.35" fill="url(#gFring)" stroke="#3a3a3a" stroke-width="3.4"/>
<circle cx="398.1" cy="523.0" r="2.85" fill="#8c8c8c" stroke="#3c3c3c" stroke-width="2.2"/>
<use href="#pearF" x="414.6" y="517.7"/>
<circle cx="414.2" cy="517.2" r="6.35" fill="url(#gFring)" stroke="#3a3a3a" stroke-width="3.4"/>
<circle cx="428.0" cy="522.8" r="2.85" fill="#8c8c8c" stroke="#3c3c3c" stroke-width="2.2"/>
<use href="#pearF" x="444.9" y="517.7"/>
<circle cx="444.6" cy="517.2" r="6.35" fill="url(#gFring)" stroke="#3a3a3a" stroke-width="3.4"/>
<circle cx="458.2" cy="522.9" r="2.85" fill="#8c8c8c" stroke="#3c3c3c" stroke-width="2.2"/>
<use href="#pearF" x="475.2" y="517.7"/>
<circle cx="474.9" cy="517.2" r="6.35" fill="url(#gFring)" stroke="#3a3a3a" stroke-width="3.4"/>
<circle cx="488.4" cy="523.1" r="2.85" fill="#8c8c8c" stroke="#3c3c3c" stroke-width="2.2"/>
<use href="#pearF" x="505.6" y="517.7"/>
<circle cx="505.3" cy="517.2" r="6.35" fill="url(#gFring)" stroke="#3a3a3a" stroke-width="3.4"/>
<circle cx="519.0" cy="523.4" r="2.85" fill="#8c8c8c" stroke="#3c3c3c" stroke-width="2.2"/>
<use href="#pearF" x="535.9" y="517.7"/>
<circle cx="535.6" cy="517.2" r="6.35" fill="url(#gFring)" stroke="#3a3a3a" stroke-width="3.4"/>
<circle cx="549.5" cy="523.5" r="2.85" fill="#8c8c8c" stroke="#3c3c3c" stroke-width="2.2"/>
<use href="#pearF" x="566.3" y="517.7"/>
<circle cx="566.0" cy="517.2" r="6.35" fill="url(#gFring)" stroke="#3a3a3a" stroke-width="3.4"/>
<circle cx="580.0" cy="523.5" r="2.85" fill="#8c8c8c" stroke="#3c3c3c" stroke-width="2.2"/>
<use href="#pearF" x="596.6" y="517.7"/>
<circle cx="596.4" cy="517.2" r="6.35" fill="url(#gFring)" stroke="#3a3a3a" stroke-width="3.4"/>
<circle cx="610.2" cy="522.7" r="2.85" fill="#8c8c8c" stroke="#3c3c3c" stroke-width="2.2"/>
<use href="#pearF" x="627.0" y="517.7"/>
<circle cx="626.7" cy="517.2" r="6.35" fill="url(#gFring)" stroke="#3a3a3a" stroke-width="3.4"/>
<circle cx="640.7" cy="523.5" r="2.85" fill="#8c8c8c" stroke="#3c3c3c" stroke-width="2.2"/>
<use href="#pearF" x="657.3" y="517.7"/>
<circle cx="657.0" cy="517.2" r="6.35" fill="url(#gFring)" stroke="#3a3a3a" stroke-width="3.4"/>
<circle cx="671.1" cy="523.1" r="2.85" fill="#8c8c8c" stroke="#3c3c3c" stroke-width="2.2"/>
<use href="#pearF" x="384.2" y="548.0"/>
<circle cx="383.9" cy="547.5" r="6.35" fill="url(#gFring)" stroke="#3a3a3a" stroke-width="3.4"/>
<circle cx="397.8" cy="553.0" r="2.85" fill="#8c8c8c" stroke="#3c3c3c" stroke-width="2.2"/>
<use href="#pearF" x="414.6" y="548.0"/>
<circle cx="414.2" cy="547.5" r="6.35" fill="url(#gFring)" stroke="#3a3a3a" stroke-width="3.4"/>
<circle cx="428.2" cy="553.4" r="2.85" fill="#8c8c8c" stroke="#3c3c3c" stroke-width="2.2"/>
<use href="#pearF" x="444.9" y="548.0"/>
<circle cx="444.6" cy="547.5" r="6.35" fill="url(#gFring)" stroke="#3a3a3a" stroke-width="3.4"/>
<circle cx="457.9" cy="552.9" r="2.85" fill="#8c8c8c" stroke="#3c3c3c" stroke-width="2.2"/>
<use href="#pearF" x="475.2" y="548.0"/>
<circle cx="474.9" cy="547.5" r="6.35" fill="url(#gFring)" stroke="#3a3a3a" stroke-width="3.4"/>
<circle cx="489.0" cy="553.8" r="2.85" fill="#8c8c8c" stroke="#3c3c3c" stroke-width="2.2"/>
<use href="#pearF" x="505.6" y="548.0"/>
<circle cx="505.3" cy="547.5" r="6.35" fill="url(#gFring)" stroke="#3a3a3a" stroke-width="3.4"/>
<circle cx="518.4" cy="553.6" r="2.85" fill="#8c8c8c" stroke="#3c3c3c" stroke-width="2.2"/>
<use href="#pearF" x="535.9" y="548.0"/>
<circle cx="535.6" cy="547.5" r="6.35" fill="url(#gFring)" stroke="#3a3a3a" stroke-width="3.4"/>
<circle cx="549.1" cy="553.0" r="2.85" fill="#8c8c8c" stroke="#3c3c3c" stroke-width="2.2"/>
<use href="#pearF" x="566.3" y="548.0"/>
<circle cx="566.0" cy="547.5" r="6.35" fill="url(#gFring)" stroke="#3a3a3a" stroke-width="3.4"/>
<circle cx="579.4" cy="553.6" r="2.85" fill="#8c8c8c" stroke="#3c3c3c" stroke-width="2.2"/>
<use href="#pearF" x="596.6" y="548.0"/>
<circle cx="596.4" cy="547.5" r="6.35" fill="url(#gFring)" stroke="#3a3a3a" stroke-width="3.4"/>
<circle cx="610.4" cy="552.9" r="2.85" fill="#8c8c8c" stroke="#3c3c3c" stroke-width="2.2"/>
<use href="#pearF" x="627.0" y="548.0"/>
<circle cx="626.7" cy="547.5" r="6.35" fill="url(#gFring)" stroke="#3a3a3a" stroke-width="3.4"/>
<circle cx="640.4" cy="552.9" r="2.85" fill="#8c8c8c" stroke="#3c3c3c" stroke-width="2.2"/>
<use href="#pearF" x="657.3" y="548.0"/>
<circle cx="657.0" cy="547.5" r="6.35" fill="url(#gFring)" stroke="#3a3a3a" stroke-width="3.4"/>
<circle cx="670.9" cy="553.1" r="2.85" fill="#8c8c8c" stroke="#3c3c3c" stroke-width="2.2"/>
<use href="#pearF" x="384.2" y="578.3"/>
<circle cx="383.9" cy="577.8" r="6.35" fill="url(#gFring)" stroke="#3a3a3a" stroke-width="3.4"/>
<circle cx="398.0" cy="584.1" r="2.85" fill="#8c8c8c" stroke="#3c3c3c" stroke-width="2.2"/>
<use href="#pearF" x="414.6" y="578.3"/>
<circle cx="414.2" cy="577.8" r="6.35" fill="url(#gFring)" stroke="#3a3a3a" stroke-width="3.4"/>
<circle cx="427.9" cy="584.1" r="2.85" fill="#8c8c8c" stroke="#3c3c3c" stroke-width="2.2"/>
<use href="#pearF" x="444.9" y="578.3"/>
<circle cx="444.6" cy="577.8" r="6.35" fill="url(#gFring)" stroke="#3a3a3a" stroke-width="3.4"/>
<circle cx="458.0" cy="583.2" r="2.85" fill="#8c8c8c" stroke="#3c3c3c" stroke-width="2.2"/>
<use href="#pearF" x="475.2" y="578.3"/>
<circle cx="474.9" cy="577.8" r="6.35" fill="url(#gFring)" stroke="#3a3a3a" stroke-width="3.4"/>
<circle cx="488.7" cy="583.1" r="2.85" fill="#8c8c8c" stroke="#3c3c3c" stroke-width="2.2"/>
<use href="#pearF" x="505.6" y="578.3"/>
<circle cx="505.3" cy="577.8" r="6.35" fill="url(#gFring)" stroke="#3a3a3a" stroke-width="3.4"/>
<circle cx="518.5" cy="583.5" r="2.85" fill="#8c8c8c" stroke="#3c3c3c" stroke-width="2.2"/>
<use href="#pearF" x="535.9" y="578.3"/>
<circle cx="535.6" cy="577.8" r="6.35" fill="url(#gFring)" stroke="#3a3a3a" stroke-width="3.4"/>
<circle cx="549.4" cy="583.2" r="2.85" fill="#8c8c8c" stroke="#3c3c3c" stroke-width="2.2"/>
<use href="#pearF" x="566.3" y="578.3"/>
<circle cx="566.0" cy="577.8" r="6.35" fill="url(#gFring)" stroke="#3a3a3a" stroke-width="3.4"/>
<circle cx="579.1" cy="583.9" r="2.85" fill="#8c8c8c" stroke="#3c3c3c" stroke-width="2.2"/>
<use href="#pearF" x="596.6" y="578.3"/>
<circle cx="596.4" cy="577.8" r="6.35" fill="url(#gFring)" stroke="#3a3a3a" stroke-width="3.4"/>
<circle cx="609.7" cy="584.0" r="2.85" fill="#8c8c8c" stroke="#3c3c3c" stroke-width="2.2"/>
<use href="#pearF" x="627.0" y="578.3"/>
<circle cx="626.7" cy="577.8" r="6.35" fill="url(#gFring)" stroke="#3a3a3a" stroke-width="3.4"/>
<circle cx="640.8" cy="583.5" r="2.85" fill="#8c8c8c" stroke="#3c3c3c" stroke-width="2.2"/>
<use href="#pearF" x="657.3" y="578.3"/>
<circle cx="657.0" cy="577.8" r="6.35" fill="url(#gFring)" stroke="#3a3a3a" stroke-width="3.4"/>
<circle cx="670.6" cy="583.6" r="2.85" fill="#8c8c8c" stroke="#3c3c3c" stroke-width="2.2"/>
<use href="#pearF" x="384.2" y="608.5"/>
<circle cx="383.9" cy="608.0" r="6.35" fill="url(#gFring)" stroke="#3a3a3a" stroke-width="3.4"/>
<circle cx="397.7" cy="613.9" r="2.85" fill="#8c8c8c" stroke="#3c3c3c" stroke-width="2.2"/>
<use href="#pearF" x="414.6" y="608.5"/>
<circle cx="414.2" cy="608.0" r="6.35" fill="url(#gFring)" stroke="#3a3a3a" stroke-width="3.4"/>
<circle cx="427.9" cy="614.0" r="2.85" fill="#8c8c8c" stroke="#3c3c3c" stroke-width="2.2"/>
<use href="#pearF" x="444.9" y="608.5"/>
<circle cx="444.6" cy="608.0" r="6.35" fill="url(#gFring)" stroke="#3a3a3a" stroke-width="3.4"/>
<circle cx="458.7" cy="613.9" r="2.85" fill="#8c8c8c" stroke="#3c3c3c" stroke-width="2.2"/>
<use href="#pearF" x="475.2" y="608.5"/>
<circle cx="474.9" cy="608.0" r="6.35" fill="url(#gFring)" stroke="#3a3a3a" stroke-width="3.4"/>
<circle cx="488.5" cy="614.1" r="2.85" fill="#8c8c8c" stroke="#3c3c3c" stroke-width="2.2"/>
<use href="#pearF" x="505.6" y="608.5"/>
<circle cx="505.3" cy="608.0" r="6.35" fill="url(#gFring)" stroke="#3a3a3a" stroke-width="3.4"/>
<circle cx="518.6" cy="613.7" r="2.85" fill="#8c8c8c" stroke="#3c3c3c" stroke-width="2.2"/>
<use href="#pearF" x="535.9" y="608.5"/>
<circle cx="535.6" cy="608.0" r="6.35" fill="url(#gFring)" stroke="#3a3a3a" stroke-width="3.4"/>
<circle cx="549.8" cy="613.9" r="2.85" fill="#8c8c8c" stroke="#3c3c3c" stroke-width="2.2"/>
<use href="#pearF" x="566.3" y="608.5"/>
<circle cx="566.0" cy="608.0" r="6.35" fill="url(#gFring)" stroke="#3a3a3a" stroke-width="3.4"/>
<circle cx="579.7" cy="613.4" r="2.85" fill="#8c8c8c" stroke="#3c3c3c" stroke-width="2.2"/>
<use href="#pearF" x="596.6" y="608.5"/>
<circle cx="596.4" cy="608.0" r="6.35" fill="url(#gFring)" stroke="#3a3a3a" stroke-width="3.4"/>
<circle cx="609.8" cy="613.9" r="2.85" fill="#8c8c8c" stroke="#3c3c3c" stroke-width="2.2"/>
<use href="#pearF" x="627.0" y="608.5"/>
<circle cx="626.7" cy="608.0" r="6.35" fill="url(#gFring)" stroke="#3a3a3a" stroke-width="3.4"/>
<circle cx="639.7" cy="614.0" r="2.85" fill="#8c8c8c" stroke="#3c3c3c" stroke-width="2.2"/>
<use href="#pearF" x="657.3" y="608.5"/>
<circle cx="657.0" cy="608.0" r="6.35" fill="url(#gFring)" stroke="#3a3a3a" stroke-width="3.4"/>
<circle cx="670.8" cy="613.4" r="2.85" fill="#8c8c8c" stroke="#3c3c3c" stroke-width="2.2"/>
<use href="#pearF" x="384.2" y="638.8"/>
<circle cx="383.9" cy="638.3" r="6.35" fill="url(#gFring)" stroke="#3a3a3a" stroke-width="3.4"/>
<circle cx="397.7" cy="644.1" r="2.85" fill="#8c8c8c" stroke="#3c3c3c" stroke-width="2.2"/>
<use href="#pearF" x="414.6" y="638.8"/>
<circle cx="414.2" cy="638.3" r="6.35" fill="url(#gFring)" stroke="#3a3a3a" stroke-width="3.4"/>
<circle cx="428.1" cy="644.0" r="2.85" fill="#8c8c8c" stroke="#3c3c3c" stroke-width="2.2"/>
<use href="#pearF" x="444.9" y="638.8"/>
<circle cx="444.6" cy="638.3" r="6.35" fill="url(#gFring)" stroke="#3a3a3a" stroke-width="3.4"/>
<circle cx="458.4" cy="644.4" r="2.85" fill="#8c8c8c" stroke="#3c3c3c" stroke-width="2.2"/>
<use href="#pearF" x="475.2" y="638.8"/>
<circle cx="474.9" cy="638.3" r="6.35" fill="url(#gFring)" stroke="#3a3a3a" stroke-width="3.4"/>
<circle cx="488.0" cy="643.7" r="2.85" fill="#8c8c8c" stroke="#3c3c3c" stroke-width="2.2"/>
<use href="#pearF" x="505.6" y="638.8"/>
<circle cx="505.3" cy="638.3" r="6.35" fill="url(#gFring)" stroke="#3a3a3a" stroke-width="3.4"/>
<circle cx="519.1" cy="644.6" r="2.85" fill="#8c8c8c" stroke="#3c3c3c" stroke-width="2.2"/>
<use href="#pearF" x="535.9" y="638.8"/>
<circle cx="535.6" cy="638.3" r="6.35" fill="url(#gFring)" stroke="#3a3a3a" stroke-width="3.4"/>
<circle cx="549.0" cy="644.1" r="2.85" fill="#8c8c8c" stroke="#3c3c3c" stroke-width="2.2"/>
<use href="#pearF" x="566.3" y="638.8"/>
<circle cx="566.0" cy="638.3" r="6.35" fill="url(#gFring)" stroke="#3a3a3a" stroke-width="3.4"/>
<circle cx="579.7" cy="643.9" r="2.85" fill="#8c8c8c" stroke="#3c3c3c" stroke-width="2.2"/>
<use href="#pearF" x="596.6" y="638.8"/>
<circle cx="596.4" cy="638.3" r="6.35" fill="url(#gFring)" stroke="#3a3a3a" stroke-width="3.4"/>
<circle cx="609.8" cy="643.9" r="2.85" fill="#8c8c8c" stroke="#3c3c3c" stroke-width="2.2"/>
<use href="#pearF" x="627.0" y="638.8"/>
<circle cx="626.7" cy="638.3" r="6.35" fill="url(#gFring)" stroke="#3a3a3a" stroke-width="3.4"/>
<circle cx="640.1" cy="644.2" r="2.85" fill="#8c8c8c" stroke="#3c3c3c" stroke-width="2.2"/>
<use href="#pearF" x="657.3" y="638.8"/>
<circle cx="657.0" cy="638.3" r="6.35" fill="url(#gFring)" stroke="#3a3a3a" stroke-width="3.4"/>
<circle cx="670.4" cy="644.0" r="2.85" fill="#8c8c8c" stroke="#3c3c3c" stroke-width="2.2"/>
<use href="#pearF" x="384.2" y="669.1"/>
<circle cx="383.9" cy="668.6" r="6.35" fill="url(#gFring)" stroke="#3a3a3a" stroke-width="3.4"/>
<circle cx="397.8" cy="673.9" r="2.85" fill="#8c8c8c" stroke="#3c3c3c" stroke-width="2.2"/>
<use href="#pearF" x="414.6" y="669.1"/>
<circle cx="414.2" cy="668.6" r="6.35" fill="url(#gFring)" stroke="#3a3a3a" stroke-width="3.4"/>
<circle cx="427.9" cy="674.6" r="2.85" fill="#8c8c8c" stroke="#3c3c3c" stroke-width="2.2"/>
<use href="#pearF" x="444.9" y="669.1"/>
<circle cx="444.6" cy="668.6" r="6.35" fill="url(#gFring)" stroke="#3a3a3a" stroke-width="3.4"/>
<circle cx="458.0" cy="674.1" r="2.85" fill="#8c8c8c" stroke="#3c3c3c" stroke-width="2.2"/>
<use href="#pearF" x="475.2" y="669.1"/>
<circle cx="474.9" cy="668.6" r="6.35" fill="url(#gFring)" stroke="#3a3a3a" stroke-width="3.4"/>
<circle cx="488.9" cy="674.1" r="2.85" fill="#8c8c8c" stroke="#3c3c3c" stroke-width="2.2"/>
<use href="#pearF" x="505.6" y="669.1"/>
<circle cx="505.3" cy="668.6" r="6.35" fill="url(#gFring)" stroke="#3a3a3a" stroke-width="3.4"/>
<circle cx="518.5" cy="674.3" r="2.85" fill="#8c8c8c" stroke="#3c3c3c" stroke-width="2.2"/>
<use href="#pearF" x="535.9" y="669.1"/>
<circle cx="535.6" cy="668.6" r="6.35" fill="url(#gFring)" stroke="#3a3a3a" stroke-width="3.4"/>
<circle cx="549.5" cy="674.0" r="2.85" fill="#8c8c8c" stroke="#3c3c3c" stroke-width="2.2"/>
<use href="#pearF" x="566.3" y="669.1"/>
<circle cx="566.0" cy="668.6" r="6.35" fill="url(#gFring)" stroke="#3a3a3a" stroke-width="3.4"/>
<circle cx="579.4" cy="674.2" r="2.85" fill="#8c8c8c" stroke="#3c3c3c" stroke-width="2.2"/>
<use href="#pearF" x="596.6" y="669.1"/>
<circle cx="596.4" cy="668.6" r="6.35" fill="url(#gFring)" stroke="#3a3a3a" stroke-width="3.4"/>
<circle cx="610.4" cy="674.3" r="2.85" fill="#8c8c8c" stroke="#3c3c3c" stroke-width="2.2"/>
<use href="#pearF" x="627.0" y="669.1"/>
<circle cx="626.7" cy="668.6" r="6.35" fill="url(#gFring)" stroke="#3a3a3a" stroke-width="3.4"/>
<circle cx="640.7" cy="674.1" r="2.85" fill="#8c8c8c" stroke="#3c3c3c" stroke-width="2.2"/>
<use href="#pearF" x="657.3" y="669.1"/>
<circle cx="657.0" cy="668.6" r="6.35" fill="url(#gFring)" stroke="#3a3a3a" stroke-width="3.4"/>
<circle cx="670.5" cy="674.5" r="2.85" fill="#8c8c8c" stroke="#3c3c3c" stroke-width="2.2"/>
<use href="#pearF" x="384.2" y="699.4"/>
<circle cx="383.9" cy="698.9" r="6.35" fill="url(#gFring)" stroke="#3a3a3a" stroke-width="3.4"/>
<circle cx="398.0" cy="704.6" r="2.85" fill="#8c8c8c" stroke="#3c3c3c" stroke-width="2.2"/>
<use href="#pearF" x="414.6" y="699.4"/>
<circle cx="414.2" cy="698.9" r="6.35" fill="url(#gFring)" stroke="#3a3a3a" stroke-width="3.4"/>
<circle cx="427.5" cy="704.3" r="2.85" fill="#8c8c8c" stroke="#3c3c3c" stroke-width="2.2"/>
<use href="#pearF" x="444.9" y="699.4"/>
<circle cx="444.6" cy="698.9" r="6.35" fill="url(#gFring)" stroke="#3a3a3a" stroke-width="3.4"/>
<circle cx="458.2" cy="704.4" r="2.85" fill="#8c8c8c" stroke="#3c3c3c" stroke-width="2.2"/>
<use href="#pearF" x="475.2" y="699.4"/>
<circle cx="474.9" cy="698.9" r="6.35" fill="url(#gFring)" stroke="#3a3a3a" stroke-width="3.4"/>
<circle cx="488.9" cy="705.0" r="2.85" fill="#8c8c8c" stroke="#3c3c3c" stroke-width="2.2"/>
<use href="#pearF" x="505.6" y="699.4"/>
<circle cx="505.3" cy="698.9" r="6.35" fill="url(#gFring)" stroke="#3a3a3a" stroke-width="3.4"/>
<circle cx="518.5" cy="704.4" r="2.85" fill="#8c8c8c" stroke="#3c3c3c" stroke-width="2.2"/>
<use href="#pearF" x="535.9" y="699.4"/>
<circle cx="535.6" cy="698.9" r="6.35" fill="url(#gFring)" stroke="#3a3a3a" stroke-width="3.4"/>
<circle cx="549.6" cy="704.8" r="2.85" fill="#8c8c8c" stroke="#3c3c3c" stroke-width="2.2"/>
<use href="#pearF" x="566.3" y="699.4"/>
<circle cx="566.0" cy="698.9" r="6.35" fill="url(#gFring)" stroke="#3a3a3a" stroke-width="3.4"/>
<circle cx="580.0" cy="704.5" r="2.85" fill="#8c8c8c" stroke="#3c3c3c" stroke-width="2.2"/>
<use href="#pearF" x="596.6" y="699.4"/>
<circle cx="596.4" cy="698.9" r="6.35" fill="url(#gFring)" stroke="#3a3a3a" stroke-width="3.4"/>
<circle cx="609.5" cy="704.5" r="2.85" fill="#8c8c8c" stroke="#3c3c3c" stroke-width="2.2"/>
<use href="#pearF" x="627.0" y="699.4"/>
<circle cx="626.7" cy="698.9" r="6.35" fill="url(#gFring)" stroke="#3a3a3a" stroke-width="3.4"/>
<circle cx="640.7" cy="704.4" r="2.85" fill="#8c8c8c" stroke="#3c3c3c" stroke-width="2.2"/>
<use href="#pearF" x="657.3" y="699.4"/>
<circle cx="657.0" cy="698.9" r="6.35" fill="url(#gFring)" stroke="#3a3a3a" stroke-width="3.4"/>
<circle cx="670.5" cy="704.6" r="2.85" fill="#8c8c8c" stroke="#3c3c3c" stroke-width="2.2"/>
<use href="#pearF" x="384.2" y="729.6"/>
<circle cx="383.9" cy="729.1" r="6.35" fill="url(#gFring)" stroke="#3a3a3a" stroke-width="3.4"/>
<circle cx="397.4" cy="734.8" r="2.85" fill="#8c8c8c" stroke="#3c3c3c" stroke-width="2.2"/>
<use href="#pearF" x="414.6" y="729.6"/>
<circle cx="414.2" cy="729.1" r="6.35" fill="url(#gFring)" stroke="#3a3a3a" stroke-width="3.4"/>
<circle cx="428.4" cy="734.6" r="2.85" fill="#8c8c8c" stroke="#3c3c3c" stroke-width="2.2"/>
<use href="#pearF" x="444.9" y="729.6"/>
<circle cx="444.6" cy="729.1" r="6.35" fill="url(#gFring)" stroke="#3a3a3a" stroke-width="3.4"/>
<circle cx="457.6" cy="735.4" r="2.85" fill="#8c8c8c" stroke="#3c3c3c" stroke-width="2.2"/>
<use href="#pearF" x="475.2" y="729.6"/>
<circle cx="474.9" cy="729.1" r="6.35" fill="url(#gFring)" stroke="#3a3a3a" stroke-width="3.4"/>
<circle cx="489.0" cy="735.4" r="2.85" fill="#8c8c8c" stroke="#3c3c3c" stroke-width="2.2"/>
<use href="#pearF" x="505.6" y="729.6"/>
<circle cx="505.3" cy="729.1" r="6.35" fill="url(#gFring)" stroke="#3a3a3a" stroke-width="3.4"/>
<circle cx="518.8" cy="735.4" r="2.85" fill="#8c8c8c" stroke="#3c3c3c" stroke-width="2.2"/>
<use href="#pearF" x="535.9" y="729.6"/>
<circle cx="535.6" cy="729.1" r="6.35" fill="url(#gFring)" stroke="#3a3a3a" stroke-width="3.4"/>
<circle cx="549.8" cy="734.7" r="2.85" fill="#8c8c8c" stroke="#3c3c3c" stroke-width="2.2"/>
<use href="#pearF" x="566.3" y="729.6"/>
<circle cx="566.0" cy="729.1" r="6.35" fill="url(#gFring)" stroke="#3a3a3a" stroke-width="3.4"/>
<circle cx="579.9" cy="735.3" r="2.85" fill="#8c8c8c" stroke="#3c3c3c" stroke-width="2.2"/>
<use href="#pearF" x="596.6" y="729.6"/>
<circle cx="596.4" cy="729.1" r="6.35" fill="url(#gFring)" stroke="#3a3a3a" stroke-width="3.4"/>
<circle cx="610.1" cy="734.9" r="2.85" fill="#8c8c8c" stroke="#3c3c3c" stroke-width="2.2"/>
<use href="#pearF" x="627.0" y="729.6"/>
<circle cx="626.7" cy="729.1" r="6.35" fill="url(#gFring)" stroke="#3a3a3a" stroke-width="3.4"/>
<circle cx="640.0" cy="734.8" r="2.85" fill="#8c8c8c" stroke="#3c3c3c" stroke-width="2.2"/>
<use href="#pearF" x="657.3" y="729.6"/>
<circle cx="657.0" cy="729.1" r="6.35" fill="url(#gFring)" stroke="#3a3a3a" stroke-width="3.4"/>
<circle cx="670.3" cy="734.5" r="2.85" fill="#8c8c8c" stroke="#3c3c3c" stroke-width="2.2"/>
</g>
<rect x="643.5" y="740.2" width="23.5" height="3.4" fill="#fff"/>
<rect x="370.6" y="431" width="28.899999999999977" height="32.30000000000001" fill="#f8f3f2"/>
<text x="372" y="457.3" font-size="21.5" font-family="Liberation Sans, Arial, sans-serif" font-weight="bold">(F)</text>
<rect x="686.3" y="15.3" width="255.20000000000005" height="237.6" fill="#9e9c9c"/>
<clipPath id="clipG"><rect x="686.3" y="15.3" width="255.20000000000005" height="237.6"/></clipPath>
<g clip-path="url(#clipG)" filter="url(#blur08)">
<use href="#pearG" x="703.6" y="39.3"/>
<circle cx="703.2" cy="39.7" r="13.4" fill="#6d6b6b"/>
<circle cx="704.2" cy="38.5" r="11.5" fill="url(#gGring)" stroke="#1d1d1d" stroke-width="5.6"/>
<circle cx="724.4" cy="47.7" r="6.5" fill="#fb7a7a"/>
<use href="#pearG" x="755.0" y="39.3"/>
<circle cx="754.6" cy="39.7" r="13.4" fill="#6d6b6b"/>
<circle cx="755.6" cy="38.5" r="11.5" fill="url(#gGring)" stroke="#1d1d1d" stroke-width="5.6"/>
<circle cx="774.5" cy="46.9" r="6.5" fill="#fb7a7a"/>
<use href="#pearG" x="805.7" y="39.3"/>
<circle cx="805.3" cy="39.7" r="13.4" fill="#6d6b6b"/>
<circle cx="806.3" cy="38.5" r="11.5" fill="url(#gGring)" stroke="#1d1d1d" stroke-width="5.6"/>
<circle cx="827.1" cy="45.9" r="6.5" fill="#fb7a7a"/>
<use href="#pearG" x="856.0" y="39.3"/>
<circle cx="855.6" cy="39.7" r="13.4" fill="#6d6b6b"/>
<circle cx="856.6" cy="38.5" r="11.5" fill="url(#gGring)" stroke="#1d1d1d" stroke-width="5.6"/>
<circle cx="876.1" cy="46.3" r="6.5" fill="#fb7a7a"/>
<use href="#pearG" x="906.4" y="39.3"/>
<circle cx="906.0" cy="39.7" r="13.4" fill="#6d6b6b"/>
<circle cx="907.0" cy="38.5" r="11.5" fill="url(#gGring)" stroke="#1d1d1d" stroke-width="5.6"/>
<circle cx="925.5" cy="47.0" r="6.5" fill="#fb7a7a"/>
<use href="#pearG" x="703.6" y="87.8"/>
<circle cx="703.2" cy="88.2" r="13.4" fill="#6d6b6b"/>
<circle cx="704.2" cy="87.0" r="11.5" fill="url(#gGring)" stroke="#1d1d1d" stroke-width="5.6"/>
<circle cx="724.6" cy="93.9" r="6.5" fill="#fb7a7a"/>
<use href="#pearG" x="755.0" y="87.8"/>
<circle cx="754.6" cy="88.2" r="13.4" fill="#6d6b6b"/>
<circle cx="755.6" cy="87.0" r="11.5" fill="url(#gGring)" stroke="#1d1d1d" stroke-width="5.6"/>
<circle cx="774.3" cy="95.3" r="6.5" fill="#fb7a7a"/>
<use href="#pearG" x="805.7" y="87.8"/>
<circle cx="805.3" cy="88.2" r="13.4" fill="#6d6b6b"/>
<circle cx="806.3" cy="87.0" r="11.5" fill="url(#gGring)" stroke="#1d1d1d" stroke-width="5.6"/>
<circle cx="826.3" cy="95.4" r="6.5" fill="#fb7a7a"/>
<use href="#pearG" x="856.0" y="87.8"/>
<circle cx="855.6" cy="88.2" r="13.4" fill="#6d6b6b"/>
<circle cx="856.6" cy="87.0" r="11.5" fill="url(#gGring)" stroke="#1d1d1d" stroke-width="5.6"/>
<circle cx="875.9" cy="95.9" r="6.5" fill="#fb7a7a"/>
<use href="#pearG" x="906.4" y="87.8"/>
<circle cx="906.0" cy="88.2" r="13.4" fill="#6d6b6b"/>
<circle cx="907.0" cy="87.0" r="11.5" fill="url(#gGring)" stroke="#1d1d1d" stroke-width="5.6"/>
<circle cx="926.5" cy="96.5" r="6.5" fill="#fb7a7a"/>
<use href="#pearG" x="703.6" y="135.3"/>
<circle cx="707.4" cy="132.7" r="8" fill="#a4a2a2" stroke="#242424" stroke-width="3.2"/>
<circle cx="723.9" cy="141.6" r="6.5" fill="#fb7a7a"/>
<use href="#pearG" x="755.0" y="135.3"/>
<circle cx="754.6" cy="135.7" r="13.4" fill="#6d6b6b"/>
<circle cx="755.6" cy="134.5" r="11.5" fill="url(#gGring)" stroke="#1d1d1d" stroke-width="5.6"/>
<circle cx="774.3" cy="142.2" r="6.5" fill="#fb7a7a"/>
<use href="#pearG" x="805.7" y="135.3"/>
<circle cx="805.3" cy="135.7" r="13.4" fill="#6d6b6b"/>
<circle cx="806.3" cy="134.5" r="11.5" fill="url(#gGring)" stroke="#1d1d1d" stroke-width="5.6"/>
<circle cx="824.9" cy="142.3" r="6.5" fill="#fb7a7a"/>
<use href="#pearG" x="856.0" y="135.3"/>
<circle cx="855.6" cy="135.7" r="13.4" fill="#6d6b6b"/>
<circle cx="856.6" cy="134.5" r="11.5" fill="url(#gGring)" stroke="#1d1d1d" stroke-width="5.6"/>
<circle cx="876.2" cy="142.4" r="6.5" fill="#fb7a7a"/>
<use href="#pearG" x="906.4" y="135.3"/>
<circle cx="906.0" cy="135.7" r="13.4" fill="#6d6b6b"/>
<circle cx="907.0" cy="134.5" r="11.5" fill="url(#gGring)" stroke="#1d1d1d" stroke-width="5.6"/>
<circle cx="927.6" cy="141.0" r="6.5" fill="#fb7a7a"/>
<use href="#pearG" x="703.6" y="182.5"/>
<circle cx="703.2" cy="182.9" r="13.4" fill="#6d6b6b"/>
<circle cx="704.2" cy="181.7" r="11.5" fill="url(#gGring)" stroke="#1d1d1d" stroke-width="5.6"/>
<circle cx="721.8" cy="192.3" r="6.3" fill="#fb6e6e"/>
<ellipse cx="712.7" cy="189.2" rx="3.2" ry="4.5" fill="#e32626" transform="rotate(35 712.7 189.2)"/>
<use href="#pearG" x="755.0" y="182.5"/>
<circle cx="754.6" cy="182.9" r="13.4" fill="#6d6b6b"/>
<circle cx="755.6" cy="181.7" r="11.5" fill="url(#gGring)" stroke="#1d1d1d" stroke-width="5.6"/>
<circle cx="773.2" cy="187.0" r="6.4" fill="#fb7878"/>
<use href="#pearG" x="805.7" y="182.5"/>
<circle cx="805.3" cy="182.9" r="13.4" fill="#6d6b6b"/>
<circle cx="806.3" cy="181.7" r="11.5" fill="url(#gGring)" stroke="#1d1d1d" stroke-width="5.6"/>
<circle cx="824.9" cy="190.8" r="6.5" fill="#fb7a7a"/>
<use href="#pearG" x="856.0" y="182.5"/>
<circle cx="855.6" cy="182.9" r="13.4" fill="#6d6b6b"/>
<circle cx="856.6" cy="181.7" r="11.5" fill="url(#gGring)" stroke="#1d1d1d" stroke-width="5.6"/>
<circle cx="876.3" cy="189.9" r="6.5" fill="#fb7a7a"/>
<use href="#pearG" x="906.4" y="182.5"/>
<circle cx="906.0" cy="182.9" r="13.4" fill="#6d6b6b"/>
<circle cx="907.0" cy="181.7" r="11.5" fill="url(#gGring)" stroke="#1d1d1d" stroke-width="5.6"/>
<circle cx="925.8" cy="190.5" r="6.5" fill="#fb7a7a"/>
<use href="#pearG" x="703.6" y="229.3"/>
<circle cx="703.2" cy="229.7" r="13.4" fill="#6d6b6b"/>
<circle cx="704.2" cy="228.5" r="11.5" fill="url(#gGring)" stroke="#1d1d1d" stroke-width="5.6"/>
<ellipse cx="724.9" cy="240.1" rx="6.8" ry="5.6" fill="#f95a5a"/>
<use href="#pearG" x="755.0" y="229.3"/>
<circle cx="754.6" cy="229.7" r="13.4" fill="#6d6b6b"/>
<circle cx="755.6" cy="228.5" r="11.5" fill="url(#gGring)" stroke="#1d1d1d" stroke-width="5.6"/>
<ellipse cx="773.4" cy="237.0" rx="8.8" ry="6.3" fill="#fb7272"/>
<use href="#pearG" x="805.7" y="229.3"/>
<circle cx="805.3" cy="229.7" r="13.4" fill="#6d6b6b"/>
<circle cx="806.3" cy="228.5" r="11.5" fill="url(#gGring)" stroke="#1d1d1d" stroke-width="5.6"/>
<ellipse cx="819.3" cy="232.0" rx="4.8" ry="5.6" fill="#f22a2a"/>
<use href="#pearG" x="856.0" y="229.3"/>
<circle cx="855.6" cy="229.7" r="13.4" fill="#6d6b6b"/>
<circle cx="856.6" cy="228.5" r="11.5" fill="url(#gGring)" stroke="#1d1d1d" stroke-width="5.6"/>
<circle cx="875.1" cy="235.4" r="6.5" fill="#fb7a7a"/>
<use href="#pearG" x="906.4" y="229.3"/>
<circle cx="906.0" cy="229.7" r="13.4" fill="#6d6b6b"/>
<circle cx="907.0" cy="228.5" r="11.5" fill="url(#gGring)" stroke="#1d1d1d" stroke-width="5.6"/>
<circle cx="926.1" cy="236.2" r="6.5" fill="#fb7a7a"/>
</g>
<rect x="897.2" y="243.9" width="32" height="5" fill="#fff"/>
<rect x="685" y="15.3" width="30" height="34.3" fill="#f8f3f2"/>
<text x="684.5" y="36" font-size="21.5" font-family="Liberation Sans, Arial, sans-serif" font-weight="bold">(G)</text>
<rect x="686.3" y="262.5" width="255.30000000000007" height="236.60000000000002" fill="#9c9a9a"/>
<clipPath id="clipH"><rect x="686.3" y="262.5" width="255.30000000000007" height="236.60000000000002"/></clipPath>
<g clip-path="url(#clipH)">
<circle cx="708.6" cy="280.5" r="4.2" fill="#f47c7c" stroke="#5e4c4c" stroke-width="1.2"/>
<circle cx="698.4" cy="274.8" r="6.5" fill="#9bf297" stroke="#4c544c" stroke-width="1.4"/>
<circle cx="745.2" cy="281.0" r="4.2" fill="#f47c7c" stroke="#5e4c4c" stroke-width="1.2"/>
<circle cx="735.4" cy="274.8" r="6.5" fill="#9bf297" stroke="#4c544c" stroke-width="1.4"/>
<circle cx="782.0" cy="280.6" r="4.2" fill="#f47c7c" stroke="#5e4c4c" stroke-width="1.2"/>
<circle cx="772.3" cy="274.8" r="6.5" fill="#9bf297" stroke="#4c544c" stroke-width="1.4"/>
<circle cx="819.8" cy="280.2" r="4.2" fill="#f47c7c" stroke="#5e4c4c" stroke-width="1.2"/>
<circle cx="809.2" cy="274.8" r="6.5" fill="#9bf297" stroke="#4c544c" stroke-width="1.4"/>
<circle cx="856.5" cy="280.7" r="4.2" fill="#f47c7c" stroke="#5e4c4c" stroke-width="1.2"/>
<circle cx="846.2" cy="274.8" r="6.5" fill="#9bf297" stroke="#4c544c" stroke-width="1.4"/>
<circle cx="892.9" cy="280.5" r="4.2" fill="#f47c7c" stroke="#5e4c4c" stroke-width="1.2"/>
<circle cx="883.1" cy="274.8" r="6.5" fill="#9bf297" stroke="#4c544c" stroke-width="1.4"/>
<circle cx="930.5" cy="280.6" r="4.2" fill="#f47c7c" stroke="#5e4c4c" stroke-width="1.2"/>
<circle cx="920.1" cy="274.8" r="6.5" fill="#9bf297" stroke="#4c544c" stroke-width="1.4"/>
<circle cx="708.8" cy="315.0" r="4.2" fill="#f47c7c" stroke="#5e4c4c" stroke-width="1.2"/>
<circle cx="698.4" cy="309.5" r="6.5" fill="#9bf297" stroke="#4c544c" stroke-width="1.4"/>
<circle cx="745.3" cy="314.9" r="4.2" fill="#f47c7c" stroke="#5e4c4c" stroke-width="1.2"/>
<circle cx="735.4" cy="309.5" r="6.5" fill="#9bf297" stroke="#4c544c" stroke-width="1.4"/>
<circle cx="782.5" cy="315.7" r="4.2" fill="#f47c7c" stroke="#5e4c4c" stroke-width="1.2"/>
<circle cx="772.3" cy="309.5" r="6.5" fill="#9bf297" stroke="#4c544c" stroke-width="1.4"/>
<circle cx="819.5" cy="315.6" r="4.2" fill="#f47c7c" stroke="#5e4c4c" stroke-width="1.2"/>
<circle cx="809.2" cy="309.5" r="6.5" fill="#9bf297" stroke="#4c544c" stroke-width="1.4"/>
<circle cx="856.3" cy="315.5" r="4.2" fill="#f47c7c" stroke="#5e4c4c" stroke-width="1.2"/>
<circle cx="846.2" cy="309.5" r="6.5" fill="#9bf297" stroke="#4c544c" stroke-width="1.4"/>
<circle cx="893.0" cy="315.1" r="4.2" fill="#f47c7c" stroke="#5e4c4c" stroke-width="1.2"/>
<circle cx="883.1" cy="309.5" r="6.5" fill="#9bf297" stroke="#4c544c" stroke-width="1.4"/>
<circle cx="930.5" cy="315.5" r="4.2" fill="#f47c7c" stroke="#5e4c4c" stroke-width="1.2"/>
<circle cx="920.1" cy="309.5" r="6.5" fill="#9bf297" stroke="#4c544c" stroke-width="1.4"/>
<circle cx="708.5" cy="349.6" r="4.2" fill="#f47c7c" stroke="#5e4c4c" stroke-width="1.2"/>
<circle cx="698.4" cy="344.2" r="6.5" fill="#9bf297" stroke="#4c544c" stroke-width="1.4"/>
<circle cx="745.3" cy="349.7" r="4.2" fill="#f47c7c" stroke="#5e4c4c" stroke-width="1.2"/>
<circle cx="735.4" cy="344.2" r="6.5" fill="#9bf297" stroke="#4c544c" stroke-width="1.4"/>
<circle cx="782.3" cy="350.3" r="4.2" fill="#f47c7c" stroke="#5e4c4c" stroke-width="1.2"/>
<circle cx="772.3" cy="344.2" r="6.5" fill="#9bf297" stroke="#4c544c" stroke-width="1.4"/>
<circle cx="819.1" cy="350.4" r="4.2" fill="#f47c7c" stroke="#5e4c4c" stroke-width="1.2"/>
<circle cx="809.2" cy="344.2" r="6.5" fill="#9bf297" stroke="#4c544c" stroke-width="1.4"/>
<circle cx="856.8" cy="349.6" r="4.2" fill="#f47c7c" stroke="#5e4c4c" stroke-width="1.2"/>
<circle cx="846.2" cy="344.2" r="6.5" fill="#9bf297" stroke="#4c544c" stroke-width="1.4"/>
<circle cx="893.2" cy="350.0" r="4.2" fill="#f47c7c" stroke="#5e4c4c" stroke-width="1.2"/>
<circle cx="883.1" cy="344.2" r="6.5" fill="#9bf297" stroke="#4c544c" stroke-width="1.4"/>
<circle cx="929.8" cy="349.9" r="4.2" fill="#f47c7c" stroke="#5e4c4c" stroke-width="1.2"/>
<circle cx="920.1" cy="344.2" r="6.5" fill="#9bf297" stroke="#4c544c" stroke-width="1.4"/>
<circle cx="709.0" cy="384.3" r="4.2" fill="#f47c7c" stroke="#5e4c4c" stroke-width="1.2"/>
<circle cx="698.4" cy="378.9" r="6.5" fill="#9bf297" stroke="#4c544c" stroke-width="1.4"/>
<circle cx="745.6" cy="384.3" r="4.2" fill="#f47c7c" stroke="#5e4c4c" stroke-width="1.2"/>
<circle cx="735.4" cy="378.9" r="6.5" fill="#9bf297" stroke="#4c544c" stroke-width="1.4"/>
<circle cx="782.6" cy="385.1" r="4.2" fill="#f47c7c" stroke="#5e4c4c" stroke-width="1.2"/>
<circle cx="772.3" cy="378.9" r="6.5" fill="#9bf297" stroke="#4c544c" stroke-width="1.4"/>
<circle cx="819.2" cy="384.2" r="4.2" fill="#f47c7c" stroke="#5e4c4c" stroke-width="1.2"/>
<circle cx="809.2" cy="378.9" r="6.5" fill="#9bf297" stroke="#4c544c" stroke-width="1.4"/>
<circle cx="856.0" cy="384.7" r="4.2" fill="#f47c7c" stroke="#5e4c4c" stroke-width="1.2"/>
<circle cx="846.2" cy="378.9" r="6.5" fill="#9bf297" stroke="#4c544c" stroke-width="1.4"/>
<circle cx="892.9" cy="384.3" r="4.2" fill="#f47c7c" stroke="#5e4c4c" stroke-width="1.2"/>
<circle cx="883.1" cy="378.9" r="6.5" fill="#9bf297" stroke="#4c544c" stroke-width="1.4"/>
<circle cx="930.3" cy="385.1" r="4.2" fill="#f47c7c" stroke="#5e4c4c" stroke-width="1.2"/>
<circle cx="920.1" cy="378.9" r="6.5" fill="#9bf297" stroke="#4c544c" stroke-width="1.4"/>
<circle cx="708.5" cy="419.3" r="4.2" fill="#f47c7c" stroke="#5e4c4c" stroke-width="1.2"/>
<circle cx="698.4" cy="413.6" r="6.5" fill="#9bf297" stroke="#4c544c" stroke-width="1.4"/>
<circle cx="745.7" cy="419.0" r="4.2" fill="#f47c7c" stroke="#5e4c4c" stroke-width="1.2"/>
<circle cx="735.4" cy="413.6" r="6.5" fill="#9bf297" stroke="#4c544c" stroke-width="1.4"/>
<circle cx="782.6" cy="419.1" r="4.2" fill="#f47c7c" stroke="#5e4c4c" stroke-width="1.2"/>
<circle cx="772.3" cy="413.6" r="6.5" fill="#9bf297" stroke="#4c544c" stroke-width="1.4"/>
<circle cx="819.6" cy="419.9" r="4.2" fill="#f47c7c" stroke="#5e4c4c" stroke-width="1.2"/>
<circle cx="809.2" cy="413.6" r="6.5" fill="#9bf297" stroke="#4c544c" stroke-width="1.4"/>
<circle cx="856.0" cy="419.5" r="4.2" fill="#f47c7c" stroke="#5e4c4c" stroke-width="1.2"/>
<circle cx="846.2" cy="413.6" r="6.5" fill="#9bf297" stroke="#4c544c" stroke-width="1.4"/>
<circle cx="893.5" cy="419.0" r="4.2" fill="#f47c7c" stroke="#5e4c4c" stroke-width="1.2"/>
<circle cx="883.1" cy="413.6" r="6.5" fill="#9bf297" stroke="#4c544c" stroke-width="1.4"/>
<circle cx="930.1" cy="419.9" r="4.2" fill="#f47c7c" stroke="#5e4c4c" stroke-width="1.2"/>
<circle cx="920.1" cy="413.6" r="6.5" fill="#9bf297" stroke="#4c544c" stroke-width="1.4"/>
<circle cx="709.1" cy="453.7" r="4.2" fill="#f47c7c" stroke="#5e4c4c" stroke-width="1.2"/>
<circle cx="698.4" cy="448.3" r="6.5" fill="#9bf297" stroke="#4c544c" stroke-width="1.4"/>
<circle cx="745.8" cy="454.6" r="4.2" fill="#f47c7c" stroke="#5e4c4c" stroke-width="1.2"/>
<circle cx="735.4" cy="448.3" r="6.5" fill="#9bf297" stroke="#4c544c" stroke-width="1.4"/>
<circle cx="782.2" cy="454.2" r="4.2" fill="#f47c7c" stroke="#5e4c4c" stroke-width="1.2"/>
<circle cx="772.3" cy="448.3" r="6.5" fill="#9bf297" stroke="#4c544c" stroke-width="1.4"/>
<circle cx="819.0" cy="454.0" r="4.2" fill="#f47c7c" stroke="#5e4c4c" stroke-width="1.2"/>
<circle cx="809.2" cy="448.3" r="6.5" fill="#9bf297" stroke="#4c544c" stroke-width="1.4"/>
<circle cx="856.6" cy="454.2" r="4.2" fill="#f47c7c" stroke="#5e4c4c" stroke-width="1.2"/>
<circle cx="846.2" cy="448.3" r="6.5" fill="#9bf297" stroke="#4c544c" stroke-width="1.4"/>
<circle cx="893.6" cy="453.7" r="4.2" fill="#f47c7c" stroke="#5e4c4c" stroke-width="1.2"/>
<circle cx="883.1" cy="448.3" r="6.5" fill="#9bf297" stroke="#4c544c" stroke-width="1.4"/>
<circle cx="930.1" cy="454.5" r="4.2" fill="#f47c7c" stroke="#5e4c4c" stroke-width="1.2"/>
<circle cx="920.1" cy="448.3" r="6.5" fill="#9bf297" stroke="#4c544c" stroke-width="1.4"/>
<circle cx="708.7" cy="488.8" r="4.2" fill="#f47c7c" stroke="#5e4c4c" stroke-width="1.2"/>
<circle cx="698.4" cy="483.0" r="6.5" fill="#9bf297" stroke="#4c544c" stroke-width="1.4"/>
<circle cx="745.5" cy="489.3" r="4.2" fill="#f47c7c" stroke="#5e4c4c" stroke-width="1.2"/>
<circle cx="735.4" cy="483.0" r="6.5" fill="#9bf297" stroke="#4c544c" stroke-width="1.4"/>
<circle cx="782.6" cy="488.3" r="4.2" fill="#f47c7c" stroke="#5e4c4c" stroke-width="1.2"/>
<circle cx="772.3" cy="483.0" r="6.5" fill="#9bf297" stroke="#4c544c" stroke-width="1.4"/>
<circle cx="819.7" cy="488.6" r="4.2" fill="#f47c7c" stroke="#5e4c4c" stroke-width="1.2"/>
<circle cx="809.2" cy="483.0" r="6.5" fill="#9bf297" stroke="#4c544c" stroke-width="1.4"/>
<circle cx="856.3" cy="488.5" r="4.2" fill="#f47c7c" stroke="#5e4c4c" stroke-width="1.2"/>
<circle cx="846.2" cy="483.0" r="6.5" fill="#9bf297" stroke="#4c544c" stroke-width="1.4"/>
<circle cx="893.3" cy="488.6" r="4.2" fill="#f47c7c" stroke="#5e4c4c" stroke-width="1.2"/>
<circle cx="883.1" cy="483.0" r="6.5" fill="#9bf297" stroke="#4c544c" stroke-width="1.4"/>
<circle cx="929.9" cy="488.9" r="4.2" fill="#f47c7c" stroke="#5e4c4c" stroke-width="1.2"/>
<circle cx="920.1" cy="483.0" r="6.5" fill="#9bf297" stroke="#4c544c" stroke-width="1.4"/>
</g>
<rect x="901.9" y="489.9" width="22.6" height="5.4" fill="#fff"/>
<rect x="685.7" y="257.5" width="29.299999999999955" height="32.69999999999999" fill="#f8f3f2"/>
<text x="685.3" y="278.6" font-size="21.5" font-family="Liberation Sans, Arial, sans-serif" font-weight="bold">(H)</text>
<rect x="686.3" y="508.5" width="255.80000000000007" height="237.5" fill="#a9aaa4"/>
<clipPath id="clipI"><rect x="686.3" y="508.5" width="255.80000000000007" height="237.5"/></clipPath>
<g clip-path="url(#clipI)">
<use href="#wellI" x="708.0" y="527.8"/>
<circle cx="709.5" cy="527.4" r="11.3" fill="#a0f598"/>
<path d="M715.0,518.8 L724.0,527.8 L715.0,536.8 Z" fill="#f58a86"/>
<ellipse cx="716.5" cy="527.8" rx="4" ry="9" fill="#f6f08a"/>
<circle cx="730.8" cy="528.4" r="6.3" fill="#f58a86"/>
<circle cx="754.3" cy="527.0" r="8.5" fill="#a5a5a1" stroke="#3a3a3a" stroke-width="3.2"/>
<use href="#wellI" x="792.4" y="527.8"/>
<circle cx="794.0" cy="529.0" r="11.3" fill="#a0f598"/>
<circle cx="815.1" cy="528.0" r="7.0" fill="#f58a86"/>
<circle cx="838.7" cy="527.0" r="8.5" fill="#a5a5a1" stroke="#3a3a3a" stroke-width="3.2"/>
<use href="#wellI" x="876.8" y="527.8"/>
<circle cx="877.9" cy="527.2" r="9.6" fill="#a0f598"/>
<circle cx="900.7" cy="527.9" r="7.1" fill="#f58a86"/>
<circle cx="923.1" cy="527.0" r="8.5" fill="#a5a5a1" stroke="#3a3a3a" stroke-width="3.2"/>
<use href="#wellI" x="708.0" y="566.9"/>
<circle cx="708.7" cy="566.3" r="12.0" fill="#a0f598"/>
<circle cx="730.7" cy="567.1" r="7.3" fill="#f58a86"/>
<circle cx="754.6" cy="566.9" r="10.6" fill="#a0f598"/>
<use href="#wellI" x="792.4" y="566.9"/>
<circle cx="794.2" cy="567.7" r="11.3" fill="#a0f598"/>
<circle cx="815.7" cy="567.4" r="6.4" fill="#f58a86"/>
<circle cx="838.7" cy="566.1" r="8.5" fill="#a5a5a1" stroke="#3a3a3a" stroke-width="3.2"/>
<use href="#wellI" x="876.8" y="566.9"/>
<circle cx="877.7" cy="567.3" r="12.0" fill="#a0f598"/>
<circle cx="900.8" cy="566.9" r="6.4" fill="#f58a86"/>
<circle cx="923.1" cy="566.1" r="8.5" fill="#a5a5a1" stroke="#3a3a3a" stroke-width="3.2"/>
<use href="#wellI" x="708.0" y="606.0"/>
<circle cx="709.1" cy="605.2" r="11.3" fill="#a0f598"/>
<circle cx="754.3" cy="605.2" r="8.5" fill="#a5a5a1" stroke="#3a3a3a" stroke-width="3.2"/>
<use href="#wellI" x="792.4" y="606.0"/>
<circle cx="793.9" cy="607.1" r="10.5" fill="#a0f598"/>
<circle cx="815.3" cy="606.7" r="7.3" fill="#f58a86"/>
<circle cx="838.7" cy="605.2" r="8.5" fill="#a5a5a1" stroke="#3a3a3a" stroke-width="3.2"/>
<use href="#wellI" x="876.8" y="606.0"/>
<circle cx="877.7" cy="605.5" r="10.4" fill="#a0f598"/>
<circle cx="900.3" cy="605.5" r="6.8" fill="#f58a86"/>
<circle cx="923.1" cy="605.2" r="8.5" fill="#a5a5a1" stroke="#3a3a3a" stroke-width="3.2"/>
<use href="#wellI" x="708.0" y="645.1"/>
<circle cx="710.8" cy="643.8" r="10.9" fill="#a0f598"/>
<circle cx="703.8" cy="653.7" r="4.2" fill="#f58a86"/>
<ellipse cx="706.8" cy="650.4" rx="5" ry="4.2" fill="#f6f08a"/>
<circle cx="731.7" cy="644.8" r="6.9" fill="#f58a86"/>
<circle cx="754.3" cy="644.3" r="8.5" fill="#a5a5a1" stroke="#3a3a3a" stroke-width="3.2"/>
<use href="#wellI" x="792.4" y="645.1"/>
<circle cx="794.8" cy="644.2" r="11.3" fill="#a0f598"/>
<circle cx="814.9" cy="644.7" r="6.9" fill="#f58a86"/>
<circle cx="838.7" cy="644.3" r="8.5" fill="#a5a5a1" stroke="#3a3a3a" stroke-width="3.2"/>
<use href="#wellI" x="876.8" y="645.1"/>
<circle cx="877.4" cy="643.9" r="11.3" fill="#a0f598"/>
<circle cx="900.3" cy="645.8" r="6.8" fill="#f58a86"/>
<circle cx="923.1" cy="644.3" r="8.5" fill="#a5a5a1" stroke="#3a3a3a" stroke-width="3.2"/>
<use href="#wellI" x="708.0" y="684.2"/>
<circle cx="708.8" cy="684.7" r="13.3" fill="#a0f598"/>
<circle cx="730.7" cy="684.5" r="6.5" fill="#f58a86"/>
<circle cx="754.3" cy="683.4" r="8.5" fill="#a5a5a1" stroke="#3a3a3a" stroke-width="3.2"/>
<use href="#wellI" x="792.4" y="684.2"/>
<circle cx="793.4" cy="684.9" r="12.6" fill="#a0f598"/>
<circle cx="815.0" cy="684.4" r="7.0" fill="#f58a86"/>
<circle cx="838.7" cy="683.4" r="8.5" fill="#a5a5a1" stroke="#3a3a3a" stroke-width="3.2"/>
<use href="#wellI" x="876.8" y="684.2"/>
<circle cx="877.7" cy="683.5" r="11.3" fill="#a0f598"/>
<circle cx="901.3" cy="685.0" r="6.4" fill="#f58a86"/>
<circle cx="923.1" cy="683.4" r="8.5" fill="#a5a5a1" stroke="#3a3a3a" stroke-width="3.2"/>
<use href="#wellI" x="708.0" y="723.3"/>
<circle cx="710.6" cy="725.0" r="10.5" fill="#a0f598"/>
<circle cx="731.0" cy="723.6" r="6.3" fill="#f58a86"/>
<circle cx="754.3" cy="722.5" r="8.5" fill="#a5a5a1" stroke="#3a3a3a" stroke-width="3.2"/>
<use href="#wellI" x="792.4" y="723.3"/>
<circle cx="793.3" cy="723.6" r="12.2" fill="#a0f598"/>
<circle cx="816.1" cy="723.8" r="6.4" fill="#f58a86"/>
<circle cx="838.7" cy="722.5" r="8.5" fill="#a5a5a1" stroke="#3a3a3a" stroke-width="3.2"/>
<use href="#wellI" x="876.8" y="723.3"/>
<circle cx="878.1" cy="724.4" r="11.3" fill="#a0f598"/>
<circle cx="872.3" cy="714.8" r="4" fill="#f58a86"/>
<ellipse cx="874.8" cy="717.8" rx="5.5" ry="3.8" fill="#f6f08a" transform="rotate(-25 874.8 717.8)"/>
<circle cx="900.5" cy="723.4" r="6.7" fill="#f58a86"/>
<circle cx="923.1" cy="722.5" r="8.5" fill="#a5a5a1" stroke="#3a3a3a" stroke-width="3.2"/>
</g>
<rect x="892" y="735.5" width="42.5" height="5.3" fill="#fff"/>
<rect x="686.3" y="508.5" width="28.700000000000045" height="32.299999999999955" fill="#f8f3f2"/>
<text x="690.3" y="528" font-size="21.5" font-family="Liberation Sans, Arial, sans-serif" font-weight="bold">(I)</text>
</g>
</svg></body></html>
